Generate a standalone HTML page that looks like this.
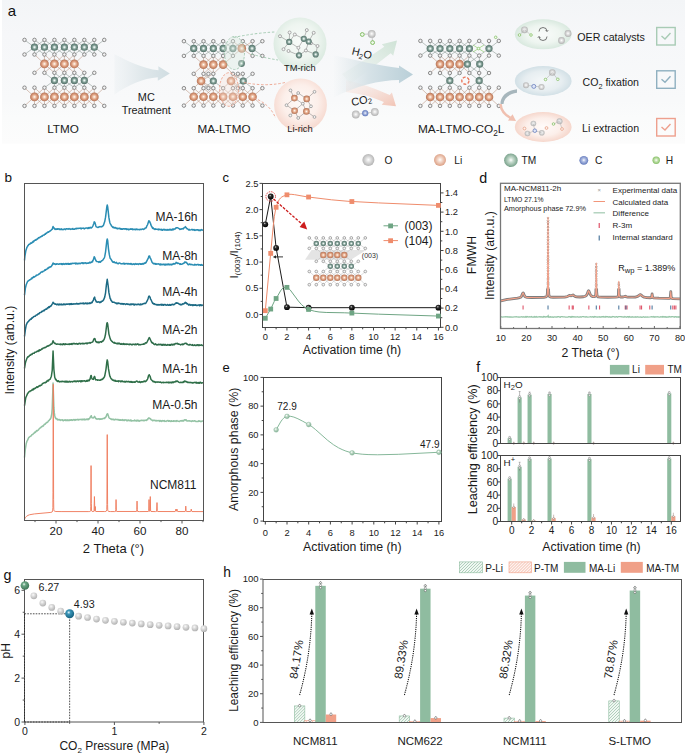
<!DOCTYPE html>
<html><head><meta charset="utf-8"><style>
html,body{margin:0;padding:0;background:#fff;}
body{width:685px;height:754px;overflow:hidden;}
svg{display:block;font-family:"Liberation Sans", sans-serif;}
</style></head><body>
<svg width="685" height="754" viewBox="0 0 685 754">
<defs><radialGradient id="gTM" cx="50%" cy="50%" r="55%"><stop offset="0" stop-color="#ffffff"/><stop offset="0.2" stop-color="#cfe0da"/><stop offset="0.5" stop-color="#7d9b92"/><stop offset="1" stop-color="#4d6a62"/></radialGradient>
<radialGradient id="gLi" cx="50%" cy="50%" r="55%"><stop offset="0" stop-color="#ffffff"/><stop offset="0.2" stop-color="#f6d6c0"/><stop offset="0.55" stop-color="#db9a7a"/><stop offset="1" stop-color="#aa6b4f"/></radialGradient>
<radialGradient id="gOb" cx="50%" cy="48%" r="55%"><stop offset="0" stop-color="#ffffff"/><stop offset="0.3" stop-color="#e6e6e6"/><stop offset="1" stop-color="#adadad"/></radialGradient>
<radialGradient id="gLiL" cx="50%" cy="48%" r="55%"><stop offset="0" stop-color="#ffffff"/><stop offset="0.3" stop-color="#f5ddd0"/><stop offset="1" stop-color="#d9997c"/></radialGradient>
<radialGradient id="gTML" cx="50%" cy="48%" r="55%"><stop offset="0" stop-color="#ffffff"/><stop offset="0.3" stop-color="#c8dccf"/><stop offset="1" stop-color="#6e9a82"/></radialGradient>
<radialGradient id="gCL" cx="50%" cy="48%" r="55%"><stop offset="0" stop-color="#ffffff"/><stop offset="0.3" stop-color="#b7c4e6"/><stop offset="1" stop-color="#5a72b8"/></radialGradient>
<radialGradient id="gHL" cx="50%" cy="48%" r="55%"><stop offset="0" stop-color="#ffffff"/><stop offset="0.3" stop-color="#cfe8bd"/><stop offset="1" stop-color="#7cba5a"/></radialGradient>
<radialGradient id="gGray" cx="40%" cy="35%" r="65%"><stop offset="0" stop-color="#fafafa"/><stop offset="0.35" stop-color="#dedede"/><stop offset="1" stop-color="#b2b2b2"/></radialGradient>
<radialGradient id="gBlue" cx="40%" cy="35%" r="65%"><stop offset="0" stop-color="#e8f6fb"/><stop offset="0.3" stop-color="#3a95b8"/><stop offset="1" stop-color="#15607e"/></radialGradient>
<radialGradient id="gGreenL" cx="40%" cy="35%" r="65%"><stop offset="0" stop-color="#ffffff"/><stop offset="0.35" stop-color="#c3dccb"/><stop offset="1" stop-color="#7fae90"/></radialGradient>
<radialGradient id="gGreen" cx="40%" cy="35%" r="65%"><stop offset="0" stop-color="#eef8f0"/><stop offset="0.3" stop-color="#6aa684"/><stop offset="1" stop-color="#3d7356"/></radialGradient>
<radialGradient id="gBlk" cx="40%" cy="35%" r="65%"><stop offset="0" stop-color="#d8d8d8"/><stop offset="0.3" stop-color="#303030"/><stop offset="1" stop-color="#000000"/></radialGradient>
<linearGradient id="bgA" x1="0" y1="0" x2="0" y2="1"><stop offset="0" stop-color="#f3f5f7"/><stop offset="0.24" stop-color="#f6f7f9"/><stop offset="0.7" stop-color="#f8f9fa"/><stop offset="0.82" stop-color="#fafbfb"/><stop offset="1" stop-color="#fcfcfc"/></linearGradient>
<linearGradient id="arrMC" x1="0" y1="0" x2="1" y2="0"><stop offset="0" stop-color="#e6ecef" stop-opacity="0.3"/><stop offset="0.5" stop-color="#e0e8eb"/><stop offset="1" stop-color="#d0dde2"/></linearGradient>
<radialGradient id="gTMc" cx="50%" cy="45%" r="55%"><stop offset="0" stop-color="#f8fbf9"/><stop offset="0.6" stop-color="#eef5f0"/><stop offset="1" stop-color="#d9e9df"/></radialGradient>
<radialGradient id="gLic" cx="50%" cy="45%" r="55%"><stop offset="0" stop-color="#fefaf8"/><stop offset="0.6" stop-color="#fcefea"/><stop offset="1" stop-color="#f6d8ce"/></radialGradient>
<linearGradient id="arrB" x1="0" y1="0" x2="1" y2="0"><stop offset="0" stop-color="#dbe5e9" stop-opacity="0"/><stop offset="0.45" stop-color="#d6e2e7"/><stop offset="1" stop-color="#b9cfd8"/></linearGradient>
<linearGradient id="arrG" x1="0" y1="1" x2="1" y2="0"><stop offset="0" stop-color="#e3ede7" stop-opacity="0.2"/><stop offset="1" stop-color="#cfe3d6"/></linearGradient>
<linearGradient id="arrR" x1="0" y1="0" x2="1" y2="1"><stop offset="0" stop-color="#f7e3dc" stop-opacity="0.2"/><stop offset="1" stop-color="#f2c4b5"/></linearGradient>
<radialGradient id="eG" cx="50%" cy="50%" r="50%"><stop offset="0" stop-color="#f9fbfa"/><stop offset="0.6" stop-color="#eef5f0"/><stop offset="1" stop-color="#d9e9df"/></radialGradient>
<radialGradient id="eB" cx="50%" cy="50%" r="50%"><stop offset="0" stop-color="#f5f8f9"/><stop offset="0.65" stop-color="#e7eef1"/><stop offset="1" stop-color="#d2e0e6"/></radialGradient>
<radialGradient id="eR" cx="50%" cy="50%" r="50%"><stop offset="0" stop-color="#fffbfa"/><stop offset="0.6" stop-color="#fcefea"/><stop offset="1" stop-color="#f6d7cc"/></radialGradient>
<clipPath id="dclip"><rect x="500" y="288.5" width="181" height="40"/></clipPath>
<pattern id="hatG" width="2.1" height="2.1" patternUnits="userSpaceOnUse" patternTransform="rotate(45)"><rect width="2.1" height="2.1" fill="#f2f8f4"/><line x1="0" y1="0" x2="0" y2="2.1" stroke="#86b698" stroke-width="0.9"/></pattern>
<pattern id="hatO" width="2.1" height="2.1" patternUnits="userSpaceOnUse" patternTransform="rotate(45)"><rect width="2.1" height="2.1" fill="#fdf3f0"/><line x1="0" y1="0" x2="0" y2="2.1" stroke="#f0a088" stroke-width="0.9"/></pattern></defs>
<rect x="2" y="0" width="683" height="143.7" fill="url(#bgA)" stroke="none" stroke-width="1"/>
<text x="7.8" y="15.6" font-size="15" text-anchor="start" fill="#111">a</text>
<line x1="24.5" y1="39.9" x2="34.47" y2="47.2" stroke="#8e9c97" stroke-width="0.6"/>
<line x1="34.47" y1="39.9" x2="34.47" y2="47.2" stroke="#8e9c97" stroke-width="0.6"/>
<line x1="34.47" y1="39.9" x2="44.44" y2="47.2" stroke="#8e9c97" stroke-width="0.6"/>
<line x1="44.44" y1="39.9" x2="34.47" y2="47.2" stroke="#8e9c97" stroke-width="0.6"/>
<line x1="44.44" y1="39.9" x2="44.44" y2="47.2" stroke="#8e9c97" stroke-width="0.6"/>
<line x1="44.44" y1="39.9" x2="54.41" y2="47.2" stroke="#8e9c97" stroke-width="0.6"/>
<line x1="54.41" y1="39.9" x2="44.44" y2="47.2" stroke="#8e9c97" stroke-width="0.6"/>
<line x1="54.41" y1="39.9" x2="54.41" y2="47.2" stroke="#8e9c97" stroke-width="0.6"/>
<line x1="54.41" y1="39.9" x2="64.38" y2="47.2" stroke="#8e9c97" stroke-width="0.6"/>
<line x1="64.38" y1="39.9" x2="54.41" y2="47.2" stroke="#8e9c97" stroke-width="0.6"/>
<line x1="64.38" y1="39.9" x2="64.38" y2="47.2" stroke="#8e9c97" stroke-width="0.6"/>
<line x1="64.38" y1="39.9" x2="74.35" y2="47.2" stroke="#8e9c97" stroke-width="0.6"/>
<line x1="74.35" y1="39.9" x2="64.38" y2="47.2" stroke="#8e9c97" stroke-width="0.6"/>
<line x1="74.35" y1="39.9" x2="74.35" y2="47.2" stroke="#8e9c97" stroke-width="0.6"/>
<line x1="74.35" y1="39.9" x2="84.32" y2="47.2" stroke="#8e9c97" stroke-width="0.6"/>
<line x1="84.32" y1="39.9" x2="74.35" y2="47.2" stroke="#8e9c97" stroke-width="0.6"/>
<line x1="84.32" y1="39.9" x2="84.32" y2="47.2" stroke="#8e9c97" stroke-width="0.6"/>
<line x1="84.32" y1="39.9" x2="94.29" y2="47.2" stroke="#8e9c97" stroke-width="0.6"/>
<line x1="94.29" y1="39.9" x2="84.32" y2="47.2" stroke="#8e9c97" stroke-width="0.6"/>
<line x1="94.29" y1="39.9" x2="94.29" y2="47.2" stroke="#8e9c97" stroke-width="0.6"/>
<line x1="104.26" y1="39.9" x2="94.29" y2="47.2" stroke="#8e9c97" stroke-width="0.6"/>
<line x1="34.47" y1="47.2" x2="24.5" y2="54.5" stroke="#8e9c97" stroke-width="0.6"/>
<line x1="34.47" y1="47.2" x2="34.47" y2="54.5" stroke="#8e9c97" stroke-width="0.6"/>
<line x1="34.47" y1="47.2" x2="44.44" y2="54.5" stroke="#8e9c97" stroke-width="0.6"/>
<line x1="44.44" y1="47.2" x2="34.47" y2="54.5" stroke="#8e9c97" stroke-width="0.6"/>
<line x1="44.44" y1="47.2" x2="44.44" y2="54.5" stroke="#8e9c97" stroke-width="0.6"/>
<line x1="44.44" y1="47.2" x2="54.41" y2="54.5" stroke="#8e9c97" stroke-width="0.6"/>
<line x1="54.41" y1="47.2" x2="44.44" y2="54.5" stroke="#8e9c97" stroke-width="0.6"/>
<line x1="54.41" y1="47.2" x2="54.41" y2="54.5" stroke="#8e9c97" stroke-width="0.6"/>
<line x1="54.41" y1="47.2" x2="64.38" y2="54.5" stroke="#8e9c97" stroke-width="0.6"/>
<line x1="64.38" y1="47.2" x2="54.41" y2="54.5" stroke="#8e9c97" stroke-width="0.6"/>
<line x1="64.38" y1="47.2" x2="64.38" y2="54.5" stroke="#8e9c97" stroke-width="0.6"/>
<line x1="64.38" y1="47.2" x2="74.35" y2="54.5" stroke="#8e9c97" stroke-width="0.6"/>
<line x1="74.35" y1="47.2" x2="64.38" y2="54.5" stroke="#8e9c97" stroke-width="0.6"/>
<line x1="74.35" y1="47.2" x2="74.35" y2="54.5" stroke="#8e9c97" stroke-width="0.6"/>
<line x1="74.35" y1="47.2" x2="84.32" y2="54.5" stroke="#8e9c97" stroke-width="0.6"/>
<line x1="84.32" y1="47.2" x2="74.35" y2="54.5" stroke="#8e9c97" stroke-width="0.6"/>
<line x1="84.32" y1="47.2" x2="84.32" y2="54.5" stroke="#8e9c97" stroke-width="0.6"/>
<line x1="84.32" y1="47.2" x2="94.29" y2="54.5" stroke="#8e9c97" stroke-width="0.6"/>
<line x1="94.29" y1="47.2" x2="84.32" y2="54.5" stroke="#8e9c97" stroke-width="0.6"/>
<line x1="94.29" y1="47.2" x2="94.29" y2="54.5" stroke="#8e9c97" stroke-width="0.6"/>
<line x1="94.29" y1="47.2" x2="104.26" y2="54.5" stroke="#8e9c97" stroke-width="0.6"/>
<line x1="34.47" y1="54.5" x2="44.44" y2="63.9" stroke="#bd9a88" stroke-width="0.6"/>
<line x1="44.44" y1="54.5" x2="44.44" y2="63.9" stroke="#bd9a88" stroke-width="0.6"/>
<line x1="44.44" y1="54.5" x2="54.41" y2="63.9" stroke="#bd9a88" stroke-width="0.6"/>
<line x1="54.41" y1="54.5" x2="44.44" y2="63.9" stroke="#bd9a88" stroke-width="0.6"/>
<line x1="54.41" y1="54.5" x2="54.41" y2="63.9" stroke="#bd9a88" stroke-width="0.6"/>
<line x1="54.41" y1="54.5" x2="64.38" y2="63.9" stroke="#bd9a88" stroke-width="0.6"/>
<line x1="64.38" y1="54.5" x2="54.41" y2="63.9" stroke="#bd9a88" stroke-width="0.6"/>
<line x1="64.38" y1="54.5" x2="64.38" y2="63.9" stroke="#bd9a88" stroke-width="0.6"/>
<line x1="64.38" y1="54.5" x2="74.35" y2="63.9" stroke="#bd9a88" stroke-width="0.6"/>
<line x1="74.35" y1="54.5" x2="64.38" y2="63.9" stroke="#bd9a88" stroke-width="0.6"/>
<line x1="74.35" y1="54.5" x2="74.35" y2="63.9" stroke="#bd9a88" stroke-width="0.6"/>
<line x1="84.32" y1="54.5" x2="74.35" y2="63.9" stroke="#bd9a88" stroke-width="0.6"/>
<line x1="44.44" y1="63.9" x2="34.47" y2="72.8" stroke="#bd9a88" stroke-width="0.6"/>
<line x1="44.44" y1="63.9" x2="44.44" y2="72.8" stroke="#bd9a88" stroke-width="0.6"/>
<line x1="44.44" y1="63.9" x2="54.41" y2="72.8" stroke="#bd9a88" stroke-width="0.6"/>
<line x1="54.41" y1="63.9" x2="44.44" y2="72.8" stroke="#bd9a88" stroke-width="0.6"/>
<line x1="54.41" y1="63.9" x2="54.41" y2="72.8" stroke="#bd9a88" stroke-width="0.6"/>
<line x1="54.41" y1="63.9" x2="64.38" y2="72.8" stroke="#bd9a88" stroke-width="0.6"/>
<line x1="64.38" y1="63.9" x2="54.41" y2="72.8" stroke="#bd9a88" stroke-width="0.6"/>
<line x1="64.38" y1="63.9" x2="64.38" y2="72.8" stroke="#bd9a88" stroke-width="0.6"/>
<line x1="64.38" y1="63.9" x2="74.35" y2="72.8" stroke="#bd9a88" stroke-width="0.6"/>
<line x1="74.35" y1="63.9" x2="64.38" y2="72.8" stroke="#bd9a88" stroke-width="0.6"/>
<line x1="74.35" y1="63.9" x2="74.35" y2="72.8" stroke="#bd9a88" stroke-width="0.6"/>
<line x1="74.35" y1="63.9" x2="84.32" y2="72.8" stroke="#bd9a88" stroke-width="0.6"/>
<line x1="44.44" y1="72.8" x2="54.41" y2="80.4" stroke="#8e9c97" stroke-width="0.6"/>
<line x1="54.41" y1="72.8" x2="54.41" y2="80.4" stroke="#8e9c97" stroke-width="0.6"/>
<line x1="54.41" y1="72.8" x2="64.38" y2="80.4" stroke="#8e9c97" stroke-width="0.6"/>
<line x1="64.38" y1="72.8" x2="54.41" y2="80.4" stroke="#8e9c97" stroke-width="0.6"/>
<line x1="64.38" y1="72.8" x2="64.38" y2="80.4" stroke="#8e9c97" stroke-width="0.6"/>
<line x1="64.38" y1="72.8" x2="74.35" y2="80.4" stroke="#8e9c97" stroke-width="0.6"/>
<line x1="74.35" y1="72.8" x2="64.38" y2="80.4" stroke="#8e9c97" stroke-width="0.6"/>
<line x1="74.35" y1="72.8" x2="74.35" y2="80.4" stroke="#8e9c97" stroke-width="0.6"/>
<line x1="74.35" y1="72.8" x2="84.32" y2="80.4" stroke="#8e9c97" stroke-width="0.6"/>
<line x1="84.32" y1="72.8" x2="74.35" y2="80.4" stroke="#8e9c97" stroke-width="0.6"/>
<line x1="84.32" y1="72.8" x2="84.32" y2="80.4" stroke="#8e9c97" stroke-width="0.6"/>
<line x1="94.29" y1="72.8" x2="84.32" y2="80.4" stroke="#8e9c97" stroke-width="0.6"/>
<line x1="54.41" y1="80.4" x2="44.44" y2="87.7" stroke="#8e9c97" stroke-width="0.6"/>
<line x1="54.41" y1="80.4" x2="54.41" y2="87.7" stroke="#8e9c97" stroke-width="0.6"/>
<line x1="54.41" y1="80.4" x2="64.38" y2="87.7" stroke="#8e9c97" stroke-width="0.6"/>
<line x1="64.38" y1="80.4" x2="54.41" y2="87.7" stroke="#8e9c97" stroke-width="0.6"/>
<line x1="64.38" y1="80.4" x2="64.38" y2="87.7" stroke="#8e9c97" stroke-width="0.6"/>
<line x1="64.38" y1="80.4" x2="74.35" y2="87.7" stroke="#8e9c97" stroke-width="0.6"/>
<line x1="74.35" y1="80.4" x2="64.38" y2="87.7" stroke="#8e9c97" stroke-width="0.6"/>
<line x1="74.35" y1="80.4" x2="74.35" y2="87.7" stroke="#8e9c97" stroke-width="0.6"/>
<line x1="74.35" y1="80.4" x2="84.32" y2="87.7" stroke="#8e9c97" stroke-width="0.6"/>
<line x1="84.32" y1="80.4" x2="74.35" y2="87.7" stroke="#8e9c97" stroke-width="0.6"/>
<line x1="84.32" y1="80.4" x2="84.32" y2="87.7" stroke="#8e9c97" stroke-width="0.6"/>
<line x1="84.32" y1="80.4" x2="94.29" y2="87.7" stroke="#8e9c97" stroke-width="0.6"/>
<line x1="24.5" y1="87.7" x2="34.47" y2="96.9" stroke="#bd9a88" stroke-width="0.6"/>
<line x1="34.47" y1="87.7" x2="34.47" y2="96.9" stroke="#bd9a88" stroke-width="0.6"/>
<line x1="34.47" y1="87.7" x2="44.44" y2="96.9" stroke="#bd9a88" stroke-width="0.6"/>
<line x1="44.44" y1="87.7" x2="34.47" y2="96.9" stroke="#bd9a88" stroke-width="0.6"/>
<line x1="44.44" y1="87.7" x2="44.44" y2="96.9" stroke="#bd9a88" stroke-width="0.6"/>
<line x1="44.44" y1="87.7" x2="54.41" y2="96.9" stroke="#bd9a88" stroke-width="0.6"/>
<line x1="54.41" y1="87.7" x2="44.44" y2="96.9" stroke="#bd9a88" stroke-width="0.6"/>
<line x1="54.41" y1="87.7" x2="54.41" y2="96.9" stroke="#bd9a88" stroke-width="0.6"/>
<line x1="54.41" y1="87.7" x2="64.38" y2="96.9" stroke="#bd9a88" stroke-width="0.6"/>
<line x1="64.38" y1="87.7" x2="54.41" y2="96.9" stroke="#bd9a88" stroke-width="0.6"/>
<line x1="64.38" y1="87.7" x2="64.38" y2="96.9" stroke="#bd9a88" stroke-width="0.6"/>
<line x1="64.38" y1="87.7" x2="74.35" y2="96.9" stroke="#bd9a88" stroke-width="0.6"/>
<line x1="74.35" y1="87.7" x2="64.38" y2="96.9" stroke="#bd9a88" stroke-width="0.6"/>
<line x1="74.35" y1="87.7" x2="74.35" y2="96.9" stroke="#bd9a88" stroke-width="0.6"/>
<line x1="74.35" y1="87.7" x2="84.32" y2="96.9" stroke="#bd9a88" stroke-width="0.6"/>
<line x1="84.32" y1="87.7" x2="74.35" y2="96.9" stroke="#bd9a88" stroke-width="0.6"/>
<line x1="84.32" y1="87.7" x2="84.32" y2="96.9" stroke="#bd9a88" stroke-width="0.6"/>
<line x1="84.32" y1="87.7" x2="94.29" y2="96.9" stroke="#bd9a88" stroke-width="0.6"/>
<line x1="94.29" y1="87.7" x2="84.32" y2="96.9" stroke="#bd9a88" stroke-width="0.6"/>
<line x1="94.29" y1="87.7" x2="94.29" y2="96.9" stroke="#bd9a88" stroke-width="0.6"/>
<line x1="104.26" y1="87.7" x2="94.29" y2="96.9" stroke="#bd9a88" stroke-width="0.6"/>
<line x1="34.47" y1="96.9" x2="24.5" y2="105.9" stroke="#bd9a88" stroke-width="0.6"/>
<line x1="34.47" y1="96.9" x2="34.47" y2="105.9" stroke="#bd9a88" stroke-width="0.6"/>
<line x1="34.47" y1="96.9" x2="44.44" y2="105.9" stroke="#bd9a88" stroke-width="0.6"/>
<line x1="44.44" y1="96.9" x2="34.47" y2="105.9" stroke="#bd9a88" stroke-width="0.6"/>
<line x1="44.44" y1="96.9" x2="44.44" y2="105.9" stroke="#bd9a88" stroke-width="0.6"/>
<line x1="44.44" y1="96.9" x2="54.41" y2="105.9" stroke="#bd9a88" stroke-width="0.6"/>
<line x1="54.41" y1="96.9" x2="44.44" y2="105.9" stroke="#bd9a88" stroke-width="0.6"/>
<line x1="54.41" y1="96.9" x2="54.41" y2="105.9" stroke="#bd9a88" stroke-width="0.6"/>
<line x1="54.41" y1="96.9" x2="64.38" y2="105.9" stroke="#bd9a88" stroke-width="0.6"/>
<line x1="64.38" y1="96.9" x2="54.41" y2="105.9" stroke="#bd9a88" stroke-width="0.6"/>
<line x1="64.38" y1="96.9" x2="64.38" y2="105.9" stroke="#bd9a88" stroke-width="0.6"/>
<line x1="64.38" y1="96.9" x2="74.35" y2="105.9" stroke="#bd9a88" stroke-width="0.6"/>
<line x1="74.35" y1="96.9" x2="64.38" y2="105.9" stroke="#bd9a88" stroke-width="0.6"/>
<line x1="74.35" y1="96.9" x2="74.35" y2="105.9" stroke="#bd9a88" stroke-width="0.6"/>
<line x1="74.35" y1="96.9" x2="84.32" y2="105.9" stroke="#bd9a88" stroke-width="0.6"/>
<line x1="84.32" y1="96.9" x2="74.35" y2="105.9" stroke="#bd9a88" stroke-width="0.6"/>
<line x1="84.32" y1="96.9" x2="84.32" y2="105.9" stroke="#bd9a88" stroke-width="0.6"/>
<line x1="84.32" y1="96.9" x2="94.29" y2="105.9" stroke="#bd9a88" stroke-width="0.6"/>
<line x1="94.29" y1="96.9" x2="84.32" y2="105.9" stroke="#bd9a88" stroke-width="0.6"/>
<line x1="94.29" y1="96.9" x2="94.29" y2="105.9" stroke="#bd9a88" stroke-width="0.6"/>
<line x1="94.29" y1="96.9" x2="104.26" y2="105.9" stroke="#bd9a88" stroke-width="0.6"/>
<circle cx="24.5" cy="39.9" r="1.75" fill="#f2f2f2" stroke="#7e7e7e" stroke-width="0.9"/>
<circle cx="34.47" cy="39.9" r="1.75" fill="#f2f2f2" stroke="#7e7e7e" stroke-width="0.9"/>
<circle cx="44.44" cy="39.9" r="1.75" fill="#f2f2f2" stroke="#7e7e7e" stroke-width="0.9"/>
<circle cx="54.41" cy="39.9" r="1.75" fill="#f2f2f2" stroke="#7e7e7e" stroke-width="0.9"/>
<circle cx="64.38" cy="39.9" r="1.75" fill="#f2f2f2" stroke="#7e7e7e" stroke-width="0.9"/>
<circle cx="74.35" cy="39.9" r="1.75" fill="#f2f2f2" stroke="#7e7e7e" stroke-width="0.9"/>
<circle cx="84.32" cy="39.9" r="1.75" fill="#f2f2f2" stroke="#7e7e7e" stroke-width="0.9"/>
<circle cx="94.29" cy="39.9" r="1.75" fill="#f2f2f2" stroke="#7e7e7e" stroke-width="0.9"/>
<circle cx="104.26" cy="39.9" r="1.75" fill="#f2f2f2" stroke="#7e7e7e" stroke-width="0.9"/>
<circle cx="34.47" cy="47.2" r="3.6" fill="url(#gTM)" stroke="none" stroke-width="1"/>
<circle cx="44.44" cy="47.2" r="3.6" fill="url(#gTM)" stroke="none" stroke-width="1"/>
<circle cx="54.41" cy="47.2" r="3.6" fill="url(#gTM)" stroke="none" stroke-width="1"/>
<circle cx="64.38" cy="47.2" r="3.6" fill="url(#gTM)" stroke="none" stroke-width="1"/>
<circle cx="74.35" cy="47.2" r="3.6" fill="url(#gTM)" stroke="none" stroke-width="1"/>
<circle cx="84.32" cy="47.2" r="3.6" fill="url(#gTM)" stroke="none" stroke-width="1"/>
<circle cx="94.29" cy="47.2" r="3.6" fill="url(#gTM)" stroke="none" stroke-width="1"/>
<circle cx="24.5" cy="54.5" r="1.75" fill="#f2f2f2" stroke="#7e7e7e" stroke-width="0.9"/>
<circle cx="34.47" cy="54.5" r="1.75" fill="#f2f2f2" stroke="#7e7e7e" stroke-width="0.9"/>
<circle cx="44.44" cy="54.5" r="1.75" fill="#f2f2f2" stroke="#7e7e7e" stroke-width="0.9"/>
<circle cx="54.41" cy="54.5" r="1.75" fill="#f2f2f2" stroke="#7e7e7e" stroke-width="0.9"/>
<circle cx="64.38" cy="54.5" r="1.75" fill="#f2f2f2" stroke="#7e7e7e" stroke-width="0.9"/>
<circle cx="74.35" cy="54.5" r="1.75" fill="#f2f2f2" stroke="#7e7e7e" stroke-width="0.9"/>
<circle cx="84.32" cy="54.5" r="1.75" fill="#f2f2f2" stroke="#7e7e7e" stroke-width="0.9"/>
<circle cx="94.29" cy="54.5" r="1.75" fill="#f2f2f2" stroke="#7e7e7e" stroke-width="0.9"/>
<circle cx="104.26" cy="54.5" r="1.75" fill="#f2f2f2" stroke="#7e7e7e" stroke-width="0.9"/>
<circle cx="44.44" cy="63.9" r="4.4" fill="url(#gLi)" stroke="none" stroke-width="1"/>
<circle cx="54.41" cy="63.9" r="4.4" fill="url(#gLi)" stroke="none" stroke-width="1"/>
<circle cx="64.38" cy="63.9" r="4.4" fill="url(#gLi)" stroke="none" stroke-width="1"/>
<circle cx="74.35" cy="63.9" r="4.4" fill="url(#gLi)" stroke="none" stroke-width="1"/>
<circle cx="34.47" cy="72.8" r="1.75" fill="#f2f2f2" stroke="#7e7e7e" stroke-width="0.9"/>
<circle cx="44.44" cy="72.8" r="1.75" fill="#f2f2f2" stroke="#7e7e7e" stroke-width="0.9"/>
<circle cx="54.41" cy="72.8" r="1.75" fill="#f2f2f2" stroke="#7e7e7e" stroke-width="0.9"/>
<circle cx="64.38" cy="72.8" r="1.75" fill="#f2f2f2" stroke="#7e7e7e" stroke-width="0.9"/>
<circle cx="74.35" cy="72.8" r="1.75" fill="#f2f2f2" stroke="#7e7e7e" stroke-width="0.9"/>
<circle cx="84.32" cy="72.8" r="1.75" fill="#f2f2f2" stroke="#7e7e7e" stroke-width="0.9"/>
<circle cx="94.29" cy="72.8" r="1.75" fill="#f2f2f2" stroke="#7e7e7e" stroke-width="0.9"/>
<circle cx="54.41" cy="80.4" r="3.6" fill="url(#gTM)" stroke="none" stroke-width="1"/>
<circle cx="64.38" cy="80.4" r="3.6" fill="url(#gTM)" stroke="none" stroke-width="1"/>
<circle cx="74.35" cy="80.4" r="3.6" fill="url(#gTM)" stroke="none" stroke-width="1"/>
<circle cx="84.32" cy="80.4" r="3.6" fill="url(#gTM)" stroke="none" stroke-width="1"/>
<circle cx="24.5" cy="87.7" r="1.75" fill="#f2f2f2" stroke="#7e7e7e" stroke-width="0.9"/>
<circle cx="34.47" cy="87.7" r="1.75" fill="#f2f2f2" stroke="#7e7e7e" stroke-width="0.9"/>
<circle cx="44.44" cy="87.7" r="1.75" fill="#f2f2f2" stroke="#7e7e7e" stroke-width="0.9"/>
<circle cx="54.41" cy="87.7" r="1.75" fill="#f2f2f2" stroke="#7e7e7e" stroke-width="0.9"/>
<circle cx="64.38" cy="87.7" r="1.75" fill="#f2f2f2" stroke="#7e7e7e" stroke-width="0.9"/>
<circle cx="74.35" cy="87.7" r="1.75" fill="#f2f2f2" stroke="#7e7e7e" stroke-width="0.9"/>
<circle cx="84.32" cy="87.7" r="1.75" fill="#f2f2f2" stroke="#7e7e7e" stroke-width="0.9"/>
<circle cx="94.29" cy="87.7" r="1.75" fill="#f2f2f2" stroke="#7e7e7e" stroke-width="0.9"/>
<circle cx="104.26" cy="87.7" r="1.75" fill="#f2f2f2" stroke="#7e7e7e" stroke-width="0.9"/>
<circle cx="34.47" cy="96.9" r="4.4" fill="url(#gLi)" stroke="none" stroke-width="1"/>
<circle cx="44.44" cy="96.9" r="4.4" fill="url(#gLi)" stroke="none" stroke-width="1"/>
<circle cx="54.41" cy="96.9" r="4.4" fill="url(#gLi)" stroke="none" stroke-width="1"/>
<circle cx="64.38" cy="96.9" r="4.4" fill="url(#gLi)" stroke="none" stroke-width="1"/>
<circle cx="74.35" cy="96.9" r="4.4" fill="url(#gLi)" stroke="none" stroke-width="1"/>
<circle cx="84.32" cy="96.9" r="4.4" fill="url(#gLi)" stroke="none" stroke-width="1"/>
<circle cx="94.29" cy="96.9" r="4.4" fill="url(#gLi)" stroke="none" stroke-width="1"/>
<circle cx="24.5" cy="105.9" r="1.75" fill="#f2f2f2" stroke="#7e7e7e" stroke-width="0.9"/>
<circle cx="34.47" cy="105.9" r="1.75" fill="#f2f2f2" stroke="#7e7e7e" stroke-width="0.9"/>
<circle cx="44.44" cy="105.9" r="1.75" fill="#f2f2f2" stroke="#7e7e7e" stroke-width="0.9"/>
<circle cx="54.41" cy="105.9" r="1.75" fill="#f2f2f2" stroke="#7e7e7e" stroke-width="0.9"/>
<circle cx="64.38" cy="105.9" r="1.75" fill="#f2f2f2" stroke="#7e7e7e" stroke-width="0.9"/>
<circle cx="74.35" cy="105.9" r="1.75" fill="#f2f2f2" stroke="#7e7e7e" stroke-width="0.9"/>
<circle cx="84.32" cy="105.9" r="1.75" fill="#f2f2f2" stroke="#7e7e7e" stroke-width="0.9"/>
<circle cx="94.29" cy="105.9" r="1.75" fill="#f2f2f2" stroke="#7e7e7e" stroke-width="0.9"/>
<circle cx="104.26" cy="105.9" r="1.75" fill="#f2f2f2" stroke="#7e7e7e" stroke-width="0.9"/>
<text x="63" y="132.5" font-size="11.7" text-anchor="middle" fill="#1a1a1a">LTMO</text>
<path d="M114.5 54.3 C128 61 143 69 158.5 70.2 L158.3 66.3 L169.8 73.4 L157.8 80.8 L157.8 77.3 C143 78.5 128 85 114.5 94.4 Z" stroke="none" stroke-width="1" fill="url(#arrMC)"/>
<text x="146.3" y="100.8" font-size="10.9" text-anchor="middle" fill="#1a1a1a">MC</text>
<text x="146.3" y="114" font-size="10.9" text-anchor="middle" fill="#1a1a1a">Treatment</text>
<line x1="183.9" y1="41.2" x2="193.71" y2="48.4" stroke="#8e9c97" stroke-width="0.6"/>
<line x1="193.71" y1="41.2" x2="193.71" y2="48.4" stroke="#8e9c97" stroke-width="0.6"/>
<line x1="193.71" y1="41.2" x2="203.52" y2="48.4" stroke="#8e9c97" stroke-width="0.6"/>
<line x1="203.52" y1="41.2" x2="193.71" y2="48.4" stroke="#8e9c97" stroke-width="0.6"/>
<line x1="203.52" y1="41.2" x2="203.52" y2="48.4" stroke="#8e9c97" stroke-width="0.6"/>
<line x1="203.52" y1="41.2" x2="213.33" y2="48.4" stroke="#8e9c97" stroke-width="0.6"/>
<line x1="213.33" y1="41.2" x2="203.52" y2="48.4" stroke="#8e9c97" stroke-width="0.6"/>
<line x1="213.33" y1="41.2" x2="213.33" y2="48.4" stroke="#8e9c97" stroke-width="0.6"/>
<line x1="213.33" y1="41.2" x2="223.14" y2="48.4" stroke="#8e9c97" stroke-width="0.6"/>
<line x1="223.14" y1="41.2" x2="213.33" y2="48.4" stroke="#8e9c97" stroke-width="0.6"/>
<line x1="223.14" y1="41.2" x2="223.14" y2="48.4" stroke="#8e9c97" stroke-width="0.6"/>
<line x1="223.14" y1="41.2" x2="232.95" y2="48.4" stroke="#8e9c97" stroke-width="0.6"/>
<line x1="232.95" y1="41.2" x2="223.14" y2="48.4" stroke="#8e9c97" stroke-width="0.6"/>
<line x1="232.95" y1="41.2" x2="232.95" y2="48.4" stroke="#8e9c97" stroke-width="0.6"/>
<line x1="232.95" y1="41.2" x2="241.78" y2="48.4" stroke="#bd9a88" stroke-width="0.6"/>
<line x1="242.76" y1="41.2" x2="232.95" y2="48.4" stroke="#8e9c97" stroke-width="0.6"/>
<line x1="242.76" y1="41.2" x2="241.78" y2="48.4" stroke="#bd9a88" stroke-width="0.6"/>
<line x1="242.76" y1="41.2" x2="252.08" y2="48.4" stroke="#8e9c97" stroke-width="0.6"/>
<line x1="252.57" y1="41.2" x2="241.78" y2="48.4" stroke="#bd9a88" stroke-width="0.6"/>
<line x1="252.57" y1="41.2" x2="252.08" y2="48.4" stroke="#8e9c97" stroke-width="0.6"/>
<line x1="262.38" y1="41.2" x2="252.08" y2="48.4" stroke="#8e9c97" stroke-width="0.6"/>
<line x1="193.71" y1="48.4" x2="183.9" y2="55.9" stroke="#8e9c97" stroke-width="0.6"/>
<line x1="193.71" y1="48.4" x2="193.71" y2="55.9" stroke="#8e9c97" stroke-width="0.6"/>
<line x1="193.71" y1="48.4" x2="203.52" y2="55.9" stroke="#8e9c97" stroke-width="0.6"/>
<line x1="203.52" y1="48.4" x2="193.71" y2="55.9" stroke="#8e9c97" stroke-width="0.6"/>
<line x1="203.52" y1="48.4" x2="203.52" y2="55.9" stroke="#8e9c97" stroke-width="0.6"/>
<line x1="203.52" y1="48.4" x2="213.33" y2="55.9" stroke="#8e9c97" stroke-width="0.6"/>
<line x1="213.33" y1="48.4" x2="203.52" y2="55.9" stroke="#8e9c97" stroke-width="0.6"/>
<line x1="213.33" y1="48.4" x2="213.33" y2="55.9" stroke="#8e9c97" stroke-width="0.6"/>
<line x1="213.33" y1="48.4" x2="223.14" y2="55.9" stroke="#8e9c97" stroke-width="0.6"/>
<line x1="223.14" y1="48.4" x2="213.33" y2="55.9" stroke="#8e9c97" stroke-width="0.6"/>
<line x1="223.14" y1="48.4" x2="223.14" y2="55.9" stroke="#8e9c97" stroke-width="0.6"/>
<line x1="223.14" y1="48.4" x2="232.95" y2="55.9" stroke="#8e9c97" stroke-width="0.6"/>
<line x1="232.95" y1="48.4" x2="223.14" y2="55.9" stroke="#8e9c97" stroke-width="0.6"/>
<line x1="232.95" y1="48.4" x2="232.95" y2="55.9" stroke="#8e9c97" stroke-width="0.6"/>
<line x1="241.78" y1="48.4" x2="232.95" y2="55.9" stroke="#bd9a88" stroke-width="0.6"/>
<line x1="241.78" y1="48.4" x2="252.57" y2="55.9" stroke="#bd9a88" stroke-width="0.6"/>
<line x1="252.08" y1="48.4" x2="252.57" y2="55.9" stroke="#8e9c97" stroke-width="0.6"/>
<line x1="252.08" y1="48.4" x2="262.38" y2="55.9" stroke="#8e9c97" stroke-width="0.6"/>
<line x1="193.71" y1="55.9" x2="203.52" y2="64.6" stroke="#bd9a88" stroke-width="0.6"/>
<line x1="203.52" y1="55.9" x2="203.52" y2="64.6" stroke="#bd9a88" stroke-width="0.6"/>
<line x1="203.52" y1="55.9" x2="213.33" y2="64.6" stroke="#bd9a88" stroke-width="0.6"/>
<line x1="213.33" y1="55.9" x2="203.52" y2="64.6" stroke="#bd9a88" stroke-width="0.6"/>
<line x1="213.33" y1="55.9" x2="213.33" y2="64.6" stroke="#bd9a88" stroke-width="0.6"/>
<line x1="213.33" y1="55.9" x2="223.14" y2="64.6" stroke="#bd9a88" stroke-width="0.6"/>
<line x1="223.14" y1="55.9" x2="213.33" y2="64.6" stroke="#bd9a88" stroke-width="0.6"/>
<line x1="223.14" y1="55.9" x2="223.14" y2="64.6" stroke="#bd9a88" stroke-width="0.6"/>
<line x1="232.95" y1="55.9" x2="223.14" y2="64.6" stroke="#bd9a88" stroke-width="0.6"/>
<line x1="203.52" y1="64.6" x2="193.71" y2="73.8" stroke="#bd9a88" stroke-width="0.6"/>
<line x1="203.52" y1="64.6" x2="203.52" y2="73.8" stroke="#bd9a88" stroke-width="0.6"/>
<line x1="203.52" y1="64.6" x2="213.33" y2="73.8" stroke="#bd9a88" stroke-width="0.6"/>
<line x1="213.33" y1="64.6" x2="203.52" y2="73.8" stroke="#bd9a88" stroke-width="0.6"/>
<line x1="213.33" y1="64.6" x2="213.33" y2="73.8" stroke="#bd9a88" stroke-width="0.6"/>
<line x1="223.14" y1="64.6" x2="213.33" y2="73.8" stroke="#bd9a88" stroke-width="0.6"/>
<line x1="223.14" y1="64.6" x2="232.95" y2="73.8" stroke="#bd9a88" stroke-width="0.6"/>
<line x1="193.71" y1="73.8" x2="201.07" y2="81" stroke="#bd9a88" stroke-width="0.6"/>
<line x1="203.52" y1="73.8" x2="201.07" y2="81" stroke="#bd9a88" stroke-width="0.6"/>
<line x1="203.52" y1="73.8" x2="213.33" y2="81" stroke="#8e9c97" stroke-width="0.6"/>
<line x1="208.43" y1="73.8" x2="201.07" y2="81" stroke="#bd9a88" stroke-width="0.6"/>
<line x1="213.33" y1="73.8" x2="201.07" y2="81" stroke="#bd9a88" stroke-width="0.6"/>
<line x1="213.33" y1="73.8" x2="213.33" y2="81" stroke="#8e9c97" stroke-width="0.6"/>
<line x1="232.95" y1="73.8" x2="230.99" y2="81" stroke="#bd9a88" stroke-width="0.6"/>
<line x1="232.95" y1="73.8" x2="243.25" y2="81" stroke="#8e9c97" stroke-width="0.6"/>
<line x1="237.86" y1="73.8" x2="230.99" y2="81" stroke="#bd9a88" stroke-width="0.6"/>
<line x1="242.76" y1="73.8" x2="230.99" y2="81" stroke="#bd9a88" stroke-width="0.6"/>
<line x1="242.76" y1="73.8" x2="243.25" y2="81" stroke="#8e9c97" stroke-width="0.6"/>
<line x1="252.57" y1="73.8" x2="243.25" y2="81" stroke="#8e9c97" stroke-width="0.6"/>
<line x1="201.07" y1="81" x2="193.71" y2="88.2" stroke="#bd9a88" stroke-width="0.6"/>
<line x1="201.07" y1="81" x2="203.52" y2="88.2" stroke="#bd9a88" stroke-width="0.6"/>
<line x1="201.07" y1="81" x2="208.43" y2="88.2" stroke="#bd9a88" stroke-width="0.6"/>
<line x1="201.07" y1="81" x2="213.33" y2="88.2" stroke="#bd9a88" stroke-width="0.6"/>
<line x1="213.33" y1="81" x2="203.52" y2="88.2" stroke="#8e9c97" stroke-width="0.6"/>
<line x1="213.33" y1="81" x2="213.33" y2="88.2" stroke="#8e9c97" stroke-width="0.6"/>
<line x1="213.33" y1="81" x2="223.14" y2="88.2" stroke="#8e9c97" stroke-width="0.6"/>
<line x1="230.99" y1="81" x2="223.14" y2="88.2" stroke="#bd9a88" stroke-width="0.6"/>
<line x1="230.99" y1="81" x2="232.95" y2="88.2" stroke="#bd9a88" stroke-width="0.6"/>
<line x1="230.99" y1="81" x2="237.86" y2="88.2" stroke="#bd9a88" stroke-width="0.6"/>
<line x1="230.99" y1="81" x2="242.76" y2="88.2" stroke="#bd9a88" stroke-width="0.6"/>
<line x1="243.25" y1="81" x2="232.95" y2="88.2" stroke="#8e9c97" stroke-width="0.6"/>
<line x1="243.25" y1="81" x2="242.76" y2="88.2" stroke="#8e9c97" stroke-width="0.6"/>
<line x1="243.25" y1="81" x2="252.57" y2="88.2" stroke="#8e9c97" stroke-width="0.6"/>
<line x1="183.9" y1="88.2" x2="193.71" y2="96.7" stroke="#bd9a88" stroke-width="0.6"/>
<line x1="193.71" y1="88.2" x2="193.71" y2="96.7" stroke="#bd9a88" stroke-width="0.6"/>
<line x1="193.71" y1="88.2" x2="203.52" y2="96.7" stroke="#bd9a88" stroke-width="0.6"/>
<line x1="203.52" y1="88.2" x2="193.71" y2="96.7" stroke="#bd9a88" stroke-width="0.6"/>
<line x1="203.52" y1="88.2" x2="203.52" y2="96.7" stroke="#bd9a88" stroke-width="0.6"/>
<line x1="203.52" y1="88.2" x2="213.33" y2="96.7" stroke="#bd9a88" stroke-width="0.6"/>
<line x1="213.33" y1="88.2" x2="203.52" y2="96.7" stroke="#bd9a88" stroke-width="0.6"/>
<line x1="213.33" y1="88.2" x2="213.33" y2="96.7" stroke="#bd9a88" stroke-width="0.6"/>
<line x1="213.33" y1="88.2" x2="223.14" y2="96.7" stroke="#bd9a88" stroke-width="0.6"/>
<line x1="223.14" y1="88.2" x2="213.33" y2="96.7" stroke="#bd9a88" stroke-width="0.6"/>
<line x1="223.14" y1="88.2" x2="223.14" y2="96.7" stroke="#bd9a88" stroke-width="0.6"/>
<line x1="223.14" y1="88.2" x2="232.95" y2="96.7" stroke="#bd9a88" stroke-width="0.6"/>
<line x1="232.95" y1="88.2" x2="223.14" y2="96.7" stroke="#bd9a88" stroke-width="0.6"/>
<line x1="232.95" y1="88.2" x2="232.95" y2="96.7" stroke="#bd9a88" stroke-width="0.6"/>
<line x1="232.95" y1="88.2" x2="242.76" y2="96.7" stroke="#bd9a88" stroke-width="0.6"/>
<line x1="242.76" y1="88.2" x2="232.95" y2="96.7" stroke="#bd9a88" stroke-width="0.6"/>
<line x1="242.76" y1="88.2" x2="242.76" y2="96.7" stroke="#bd9a88" stroke-width="0.6"/>
<line x1="242.76" y1="88.2" x2="252.57" y2="96.7" stroke="#bd9a88" stroke-width="0.6"/>
<line x1="252.57" y1="88.2" x2="242.76" y2="96.7" stroke="#bd9a88" stroke-width="0.6"/>
<line x1="252.57" y1="88.2" x2="252.57" y2="96.7" stroke="#bd9a88" stroke-width="0.6"/>
<line x1="262.38" y1="88.2" x2="252.57" y2="96.7" stroke="#bd9a88" stroke-width="0.6"/>
<line x1="193.71" y1="96.7" x2="183.9" y2="105.6" stroke="#bd9a88" stroke-width="0.6"/>
<line x1="193.71" y1="96.7" x2="193.71" y2="105.6" stroke="#bd9a88" stroke-width="0.6"/>
<line x1="193.71" y1="96.7" x2="203.52" y2="105.6" stroke="#bd9a88" stroke-width="0.6"/>
<line x1="203.52" y1="96.7" x2="193.71" y2="105.6" stroke="#bd9a88" stroke-width="0.6"/>
<line x1="203.52" y1="96.7" x2="203.52" y2="105.6" stroke="#bd9a88" stroke-width="0.6"/>
<line x1="203.52" y1="96.7" x2="213.33" y2="105.6" stroke="#bd9a88" stroke-width="0.6"/>
<line x1="213.33" y1="96.7" x2="203.52" y2="105.6" stroke="#bd9a88" stroke-width="0.6"/>
<line x1="213.33" y1="96.7" x2="213.33" y2="105.6" stroke="#bd9a88" stroke-width="0.6"/>
<line x1="213.33" y1="96.7" x2="223.14" y2="105.6" stroke="#bd9a88" stroke-width="0.6"/>
<line x1="223.14" y1="96.7" x2="213.33" y2="105.6" stroke="#bd9a88" stroke-width="0.6"/>
<line x1="223.14" y1="96.7" x2="223.14" y2="105.6" stroke="#bd9a88" stroke-width="0.6"/>
<line x1="223.14" y1="96.7" x2="232.95" y2="105.6" stroke="#bd9a88" stroke-width="0.6"/>
<line x1="232.95" y1="96.7" x2="223.14" y2="105.6" stroke="#bd9a88" stroke-width="0.6"/>
<line x1="232.95" y1="96.7" x2="232.95" y2="105.6" stroke="#bd9a88" stroke-width="0.6"/>
<line x1="232.95" y1="96.7" x2="242.76" y2="105.6" stroke="#bd9a88" stroke-width="0.6"/>
<line x1="242.76" y1="96.7" x2="232.95" y2="105.6" stroke="#bd9a88" stroke-width="0.6"/>
<line x1="242.76" y1="96.7" x2="242.76" y2="105.6" stroke="#bd9a88" stroke-width="0.6"/>
<line x1="242.76" y1="96.7" x2="252.57" y2="105.6" stroke="#bd9a88" stroke-width="0.6"/>
<line x1="252.57" y1="96.7" x2="242.76" y2="105.6" stroke="#bd9a88" stroke-width="0.6"/>
<line x1="252.57" y1="96.7" x2="252.57" y2="105.6" stroke="#bd9a88" stroke-width="0.6"/>
<line x1="252.57" y1="96.7" x2="262.38" y2="105.6" stroke="#bd9a88" stroke-width="0.6"/>
<circle cx="183.9" cy="41.2" r="1.75" fill="#f2f2f2" stroke="#7e7e7e" stroke-width="0.9"/>
<circle cx="193.71" cy="41.2" r="1.75" fill="#f2f2f2" stroke="#7e7e7e" stroke-width="0.9"/>
<circle cx="203.52" cy="41.2" r="1.75" fill="#f2f2f2" stroke="#7e7e7e" stroke-width="0.9"/>
<circle cx="213.33" cy="41.2" r="1.75" fill="#f2f2f2" stroke="#7e7e7e" stroke-width="0.9"/>
<circle cx="223.14" cy="41.2" r="1.75" fill="#f2f2f2" stroke="#7e7e7e" stroke-width="0.9"/>
<circle cx="232.95" cy="41.2" r="1.75" fill="#f2f2f2" stroke="#7e7e7e" stroke-width="0.9"/>
<circle cx="242.76" cy="41.2" r="1.75" fill="#f2f2f2" stroke="#7e7e7e" stroke-width="0.9"/>
<circle cx="252.57" cy="41.2" r="1.75" fill="#f2f2f2" stroke="#7e7e7e" stroke-width="0.9"/>
<circle cx="262.38" cy="41.2" r="1.75" fill="#f2f2f2" stroke="#7e7e7e" stroke-width="0.9"/>
<circle cx="193.71" cy="48.4" r="3.6" fill="url(#gTM)" stroke="none" stroke-width="1"/>
<circle cx="203.52" cy="48.4" r="3.6" fill="url(#gTM)" stroke="none" stroke-width="1"/>
<circle cx="213.33" cy="48.4" r="3.6" fill="url(#gTM)" stroke="none" stroke-width="1"/>
<circle cx="223.14" cy="48.4" r="3.6" fill="url(#gTM)" stroke="none" stroke-width="1"/>
<circle cx="232.95" cy="48.4" r="3.6" fill="url(#gTM)" stroke="none" stroke-width="1"/>
<circle cx="241.78" cy="48.4" r="4.3" fill="url(#gLi)" stroke="none" stroke-width="1"/>
<circle cx="252.08" cy="48.4" r="3.6" fill="url(#gTM)" stroke="none" stroke-width="1"/>
<circle cx="183.9" cy="55.9" r="1.75" fill="#f2f2f2" stroke="#7e7e7e" stroke-width="0.9"/>
<circle cx="193.71" cy="55.9" r="1.75" fill="#f2f2f2" stroke="#7e7e7e" stroke-width="0.9"/>
<circle cx="203.52" cy="55.9" r="1.75" fill="#f2f2f2" stroke="#7e7e7e" stroke-width="0.9"/>
<circle cx="213.33" cy="55.9" r="1.75" fill="#f2f2f2" stroke="#7e7e7e" stroke-width="0.9"/>
<circle cx="223.14" cy="55.9" r="1.75" fill="#f2f2f2" stroke="#7e7e7e" stroke-width="0.9"/>
<circle cx="232.95" cy="55.9" r="1.75" fill="#f2f2f2" stroke="#7e7e7e" stroke-width="0.9"/>
<circle cx="252.57" cy="55.9" r="1.75" fill="#f2f2f2" stroke="#7e7e7e" stroke-width="0.9"/>
<circle cx="262.38" cy="55.9" r="1.75" fill="#f2f2f2" stroke="#7e7e7e" stroke-width="0.9"/>
<circle cx="203.52" cy="64.6" r="4.3" fill="url(#gLi)" stroke="none" stroke-width="1"/>
<circle cx="213.33" cy="64.6" r="4.3" fill="url(#gLi)" stroke="none" stroke-width="1"/>
<circle cx="223.14" cy="64.6" r="4.3" fill="url(#gLi)" stroke="none" stroke-width="1"/>
<circle cx="193.71" cy="73.8" r="1.75" fill="#f2f2f2" stroke="#7e7e7e" stroke-width="0.9"/>
<circle cx="203.52" cy="73.8" r="1.75" fill="#f2f2f2" stroke="#7e7e7e" stroke-width="0.9"/>
<circle cx="208.43" cy="73.8" r="1.75" fill="#f2f2f2" stroke="#7e7e7e" stroke-width="0.9"/>
<circle cx="213.33" cy="73.8" r="1.75" fill="#f2f2f2" stroke="#7e7e7e" stroke-width="0.9"/>
<circle cx="232.95" cy="73.8" r="1.75" fill="#f2f2f2" stroke="#7e7e7e" stroke-width="0.9"/>
<circle cx="237.86" cy="73.8" r="1.75" fill="#f2f2f2" stroke="#7e7e7e" stroke-width="0.9"/>
<circle cx="242.76" cy="73.8" r="1.75" fill="#f2f2f2" stroke="#7e7e7e" stroke-width="0.9"/>
<circle cx="252.57" cy="73.8" r="1.75" fill="#f2f2f2" stroke="#7e7e7e" stroke-width="0.9"/>
<circle cx="201.07" cy="81" r="4.3" fill="url(#gLi)" stroke="none" stroke-width="1"/>
<circle cx="213.33" cy="81" r="3.6" fill="url(#gTM)" stroke="none" stroke-width="1"/>
<circle cx="230.99" cy="81" r="4.3" fill="url(#gLi)" stroke="none" stroke-width="1"/>
<circle cx="243.25" cy="81" r="3.6" fill="url(#gTM)" stroke="none" stroke-width="1"/>
<circle cx="183.9" cy="88.2" r="1.75" fill="#f2f2f2" stroke="#7e7e7e" stroke-width="0.9"/>
<circle cx="193.71" cy="88.2" r="1.75" fill="#f2f2f2" stroke="#7e7e7e" stroke-width="0.9"/>
<circle cx="203.52" cy="88.2" r="1.75" fill="#f2f2f2" stroke="#7e7e7e" stroke-width="0.9"/>
<circle cx="208.43" cy="88.2" r="1.75" fill="#f2f2f2" stroke="#7e7e7e" stroke-width="0.9"/>
<circle cx="213.33" cy="88.2" r="1.75" fill="#f2f2f2" stroke="#7e7e7e" stroke-width="0.9"/>
<circle cx="223.14" cy="88.2" r="1.75" fill="#f2f2f2" stroke="#7e7e7e" stroke-width="0.9"/>
<circle cx="232.95" cy="88.2" r="1.75" fill="#f2f2f2" stroke="#7e7e7e" stroke-width="0.9"/>
<circle cx="237.86" cy="88.2" r="1.75" fill="#f2f2f2" stroke="#7e7e7e" stroke-width="0.9"/>
<circle cx="242.76" cy="88.2" r="1.75" fill="#f2f2f2" stroke="#7e7e7e" stroke-width="0.9"/>
<circle cx="252.57" cy="88.2" r="1.75" fill="#f2f2f2" stroke="#7e7e7e" stroke-width="0.9"/>
<circle cx="262.38" cy="88.2" r="1.75" fill="#f2f2f2" stroke="#7e7e7e" stroke-width="0.9"/>
<circle cx="193.71" cy="96.7" r="4.3" fill="url(#gLi)" stroke="none" stroke-width="1"/>
<circle cx="203.52" cy="96.7" r="4.3" fill="url(#gLi)" stroke="none" stroke-width="1"/>
<circle cx="213.33" cy="96.7" r="4.3" fill="url(#gLi)" stroke="none" stroke-width="1"/>
<circle cx="223.14" cy="96.7" r="4.3" fill="url(#gLi)" stroke="none" stroke-width="1"/>
<circle cx="232.95" cy="96.7" r="4.3" fill="url(#gLi)" stroke="none" stroke-width="1"/>
<circle cx="242.76" cy="96.7" r="4.3" fill="url(#gLi)" stroke="none" stroke-width="1"/>
<circle cx="252.57" cy="96.7" r="4.3" fill="url(#gLi)" stroke="none" stroke-width="1"/>
<circle cx="183.9" cy="105.6" r="1.75" fill="#f2f2f2" stroke="#7e7e7e" stroke-width="0.9"/>
<circle cx="193.71" cy="105.6" r="1.75" fill="#f2f2f2" stroke="#7e7e7e" stroke-width="0.9"/>
<circle cx="203.52" cy="105.6" r="1.75" fill="#f2f2f2" stroke="#7e7e7e" stroke-width="0.9"/>
<circle cx="213.33" cy="105.6" r="1.75" fill="#f2f2f2" stroke="#7e7e7e" stroke-width="0.9"/>
<circle cx="223.14" cy="105.6" r="1.75" fill="#f2f2f2" stroke="#7e7e7e" stroke-width="0.9"/>
<circle cx="232.95" cy="105.6" r="1.75" fill="#f2f2f2" stroke="#7e7e7e" stroke-width="0.9"/>
<circle cx="242.76" cy="105.6" r="1.75" fill="#f2f2f2" stroke="#7e7e7e" stroke-width="0.9"/>
<circle cx="252.57" cy="105.6" r="1.75" fill="#f2f2f2" stroke="#7e7e7e" stroke-width="0.9"/>
<circle cx="262.38" cy="105.6" r="1.75" fill="#f2f2f2" stroke="#7e7e7e" stroke-width="0.9"/>
<circle cx="241.5" cy="63.5" r="3.4" fill="url(#gTM)" stroke="none" stroke-width="1"/>
<ellipse cx="234.5" cy="53" rx="10" ry="16.5" fill="#dcebe2" fill-opacity="0.4" stroke="#a6cbb3" stroke-width="0.9" stroke-dasharray="2.5 1.5"/>
<ellipse cx="229" cy="89.5" rx="9.5" ry="16.8" fill="#f7e2da" fill-opacity="0.35" stroke="#eda08a" stroke-width="0.9" stroke-dasharray="2.5 1.5"/>
<path d="M233.5 37.5 Q255 33 274.5 32" stroke="#9cc6ab" stroke-width="0.9" fill="none" stroke-dasharray="2.5 1.8"/>
<path d="M251 54 Q265 58 278 60" stroke="#9cc6ab" stroke-width="0.9" fill="none" stroke-dasharray="2.5 1.8"/>
<path d="M244 82.5 Q266 87 286 82.3" stroke="#eda08a" stroke-width="0.9" fill="none" stroke-dasharray="2.5 1.8"/>
<path d="M254 98 Q270 104 275.5 118" stroke="#eda08a" stroke-width="0.9" fill="none" stroke-dasharray="2.5 1.8"/>
<circle cx="300" cy="44" r="26.5" fill="url(#gTMc)" stroke="none" stroke-width="1"/>
<circle cx="300.5" cy="105" r="26.4" fill="url(#gLic)" stroke="none" stroke-width="1"/>
<line x1="289.2" y1="41.9" x2="280" y2="36.2" stroke="#7a7a7a" stroke-width="0.5"/>
<line x1="289.2" y1="41.9" x2="289.6" y2="32.5" stroke="#7a7a7a" stroke-width="0.5"/>
<line x1="289.2" y1="41.9" x2="294.8" y2="34.5" stroke="#7a7a7a" stroke-width="0.5"/>
<line x1="289.2" y1="41.9" x2="298.4" y2="47.8" stroke="#7a7a7a" stroke-width="0.5"/>
<line x1="289.2" y1="41.9" x2="283.5" y2="49.2" stroke="#7a7a7a" stroke-width="0.5"/>
<line x1="303.8" y1="38.8" x2="294.8" y2="34.5" stroke="#7a7a7a" stroke-width="0.5"/>
<line x1="303.8" y1="38.8" x2="306.8" y2="30.1" stroke="#7a7a7a" stroke-width="0.5"/>
<line x1="303.8" y1="38.8" x2="298.4" y2="47.8" stroke="#7a7a7a" stroke-width="0.5"/>
<line x1="308.7" y1="41.5" x2="313.7" y2="32.8" stroke="#7a7a7a" stroke-width="0.5"/>
<line x1="308.7" y1="41.5" x2="317.5" y2="46" stroke="#7a7a7a" stroke-width="0.5"/>
<line x1="308.7" y1="41.5" x2="305.9" y2="50.5" stroke="#7a7a7a" stroke-width="0.5"/>
<line x1="299" y1="55.3" x2="298.4" y2="47.8" stroke="#7a7a7a" stroke-width="0.5"/>
<line x1="299" y1="55.3" x2="305.9" y2="50.5" stroke="#7a7a7a" stroke-width="0.5"/>
<line x1="299" y1="55.3" x2="288.5" y2="51" stroke="#7a7a7a" stroke-width="0.5"/>
<line x1="315.7" y1="54.4" x2="317.5" y2="46" stroke="#7a7a7a" stroke-width="0.5"/>
<line x1="315.7" y1="54.4" x2="305.9" y2="50.5" stroke="#7a7a7a" stroke-width="0.5"/>
<circle cx="280" cy="36.2" r="1.5" fill="#f6f6f6" stroke="#8c8c8c" stroke-width="0.7"/>
<circle cx="289.6" cy="32.5" r="1.5" fill="#f6f6f6" stroke="#8c8c8c" stroke-width="0.7"/>
<circle cx="294.8" cy="34.5" r="1.5" fill="#f6f6f6" stroke="#8c8c8c" stroke-width="0.7"/>
<circle cx="306.8" cy="30.1" r="1.5" fill="#f6f6f6" stroke="#8c8c8c" stroke-width="0.7"/>
<circle cx="313.7" cy="32.8" r="1.5" fill="#f6f6f6" stroke="#8c8c8c" stroke-width="0.7"/>
<circle cx="311" cy="43.2" r="1.5" fill="#f6f6f6" stroke="#8c8c8c" stroke-width="0.7"/>
<circle cx="317.5" cy="46" r="1.5" fill="#f6f6f6" stroke="#8c8c8c" stroke-width="0.7"/>
<circle cx="298.4" cy="47.8" r="1.5" fill="#f6f6f6" stroke="#8c8c8c" stroke-width="0.7"/>
<circle cx="305.9" cy="50.5" r="1.5" fill="#f6f6f6" stroke="#8c8c8c" stroke-width="0.7"/>
<circle cx="288.5" cy="51" r="1.5" fill="#f6f6f6" stroke="#8c8c8c" stroke-width="0.7"/>
<circle cx="283.5" cy="49.2" r="1.5" fill="#f6f6f6" stroke="#8c8c8c" stroke-width="0.7"/>
<circle cx="289.2" cy="41.9" r="3.1" fill="url(#gTM)" stroke="none" stroke-width="1"/>
<circle cx="303.8" cy="38.8" r="3.1" fill="url(#gTM)" stroke="none" stroke-width="1"/>
<circle cx="308.7" cy="41.5" r="3.1" fill="url(#gTM)" stroke="none" stroke-width="1"/>
<circle cx="299" cy="55.3" r="3.1" fill="url(#gTM)" stroke="none" stroke-width="1"/>
<circle cx="315.7" cy="54.4" r="3.1" fill="url(#gTM)" stroke="none" stroke-width="1"/>
<text x="299.8" y="71.3" font-size="9.3" text-anchor="middle" fill="#1a1a1a">TM-rich</text>
<line x1="294.4" y1="98.1" x2="290.5" y2="90.4" stroke="#7a7a7a" stroke-width="0.5"/>
<line x1="294.4" y1="98.1" x2="298.2" y2="93" stroke="#7a7a7a" stroke-width="0.5"/>
<line x1="294.4" y1="98.1" x2="286.5" y2="105.2" stroke="#7a7a7a" stroke-width="0.5"/>
<line x1="294.4" y1="98.1" x2="302.8" y2="103.7" stroke="#7a7a7a" stroke-width="0.5"/>
<line x1="306.7" y1="98.9" x2="298.2" y2="93" stroke="#7a7a7a" stroke-width="0.5"/>
<line x1="306.7" y1="98.9" x2="314.5" y2="91.8" stroke="#7a7a7a" stroke-width="0.5"/>
<line x1="306.7" y1="98.9" x2="302.8" y2="103.7" stroke="#7a7a7a" stroke-width="0.5"/>
<line x1="306.7" y1="98.9" x2="311" y2="106.3" stroke="#7a7a7a" stroke-width="0.5"/>
<line x1="294.6" y1="110.7" x2="286.5" y2="105.2" stroke="#7a7a7a" stroke-width="0.5"/>
<line x1="294.6" y1="110.7" x2="302.8" y2="103.7" stroke="#7a7a7a" stroke-width="0.5"/>
<line x1="294.6" y1="110.7" x2="290.3" y2="115.5" stroke="#7a7a7a" stroke-width="0.5"/>
<line x1="294.6" y1="110.7" x2="298.2" y2="118" stroke="#7a7a7a" stroke-width="0.5"/>
<line x1="306.4" y1="111.4" x2="302.8" y2="103.7" stroke="#7a7a7a" stroke-width="0.5"/>
<line x1="306.4" y1="111.4" x2="311" y2="106.3" stroke="#7a7a7a" stroke-width="0.5"/>
<line x1="306.4" y1="111.4" x2="298.2" y2="118" stroke="#7a7a7a" stroke-width="0.5"/>
<line x1="306.4" y1="111.4" x2="314.5" y2="117" stroke="#7a7a7a" stroke-width="0.5"/>
<circle cx="290.5" cy="90.4" r="1.4" fill="#f6f6f6" stroke="#8c8c8c" stroke-width="0.7"/>
<circle cx="298.2" cy="93" r="1.4" fill="#f6f6f6" stroke="#8c8c8c" stroke-width="0.7"/>
<circle cx="314.5" cy="91.8" r="1.4" fill="#f6f6f6" stroke="#8c8c8c" stroke-width="0.7"/>
<circle cx="286.5" cy="105.2" r="1.4" fill="#f6f6f6" stroke="#8c8c8c" stroke-width="0.7"/>
<circle cx="302.8" cy="103.7" r="1.4" fill="#f6f6f6" stroke="#8c8c8c" stroke-width="0.7"/>
<circle cx="311" cy="106.3" r="1.4" fill="#f6f6f6" stroke="#8c8c8c" stroke-width="0.7"/>
<circle cx="290.3" cy="115.5" r="1.4" fill="#f6f6f6" stroke="#8c8c8c" stroke-width="0.7"/>
<circle cx="298.2" cy="118" r="1.4" fill="#f6f6f6" stroke="#8c8c8c" stroke-width="0.7"/>
<circle cx="314.5" cy="117" r="1.4" fill="#f6f6f6" stroke="#8c8c8c" stroke-width="0.7"/>
<circle cx="294.4" cy="98.1" r="3.3" fill="url(#gLi)" stroke="none" stroke-width="1"/>
<circle cx="306.7" cy="98.9" r="3.3" fill="url(#gLi)" stroke="none" stroke-width="1"/>
<circle cx="294.6" cy="110.7" r="3.3" fill="url(#gLi)" stroke="none" stroke-width="1"/>
<circle cx="306.4" cy="111.4" r="3.3" fill="url(#gLi)" stroke="none" stroke-width="1"/>
<text x="300" y="131.7" font-size="9.4" text-anchor="middle" fill="#1a1a1a">Li-rich</text>
<text x="224" y="132.6" font-size="11.7" text-anchor="middle" fill="#1a1a1a">MA-LTMO</text>
<path d="M342 74 Q365 60 384.3 46.8 L381.8 44.3 L397 40.5 L393.2 55.7 L390.7 53.2 Q372 68 350 84 Z" stroke="none" stroke-width="1" fill="url(#arrG)"/>
<path d="M346 80 Q368 85 389.7 95.1 L391.9 92.4 L396 106.3 L381.7 104.8 L383.9 102.1 Q366 94 346 92 Z" stroke="none" stroke-width="1" fill="url(#arrR)"/>
<path d="M333 55 C355 60 380 66 399 68 L399 65.5 L413 74.5 L399 83.2 L399 80 C380 80 355 86 333 98 Z" stroke="none" stroke-width="1" fill="url(#arrB)"/>
<line x1="362.2" y1="34.3" x2="371.7" y2="33.9" stroke="#aaa" stroke-width="0.6"/>
<line x1="372.7" y1="42.7" x2="371.7" y2="33.9" stroke="#aaa" stroke-width="0.6"/>
<circle cx="371.7" cy="33.9" r="3.9" fill="url(#gOb)" stroke="none" stroke-width="1"/>
<circle cx="362.3" cy="34.5" r="1.9" fill="#eef8ea" stroke="#82bd63" stroke-width="1"/>
<circle cx="372.6" cy="42.6" r="1.9" fill="#eef8ea" stroke="#82bd63" stroke-width="1"/>
<text x="351.2" y="54.3" font-size="10.8" text-anchor="start" fill="#1a1a1a" transform="rotate(14 351.2 54.3)">H<tspan font-size="7.2" dy="2.5">2</tspan><tspan dy="-2.5">O</tspan></text>
<text x="352" y="106" font-size="11" text-anchor="start" fill="#1a1a1a" transform="rotate(-10 352 106)">CO<tspan font-size="7.5" dy="1">2</tspan></text>
<line x1="355.8" y1="114.5" x2="374.8" y2="112" stroke="#aaa" stroke-width="0.6"/>
<circle cx="355.8" cy="114.5" r="3.9" fill="url(#gOb)" stroke="none" stroke-width="1"/>
<circle cx="374.8" cy="112" r="3.9" fill="url(#gOb)" stroke="none" stroke-width="1"/>
<circle cx="365.2" cy="113.2" r="2.9" fill="url(#gCL)" stroke="#6f86c4" stroke-width="0.6"/>
<line x1="420.4" y1="40.9" x2="430.2" y2="48.6" stroke="#8e9c97" stroke-width="0.6"/>
<line x1="430.2" y1="40.9" x2="430.2" y2="48.6" stroke="#8e9c97" stroke-width="0.6"/>
<line x1="430.2" y1="40.9" x2="440" y2="48.6" stroke="#8e9c97" stroke-width="0.6"/>
<line x1="440" y1="40.9" x2="430.2" y2="48.6" stroke="#8e9c97" stroke-width="0.6"/>
<line x1="440" y1="40.9" x2="440" y2="48.6" stroke="#8e9c97" stroke-width="0.6"/>
<line x1="440" y1="40.9" x2="449.8" y2="48.6" stroke="#8e9c97" stroke-width="0.6"/>
<line x1="449.8" y1="40.9" x2="440" y2="48.6" stroke="#8e9c97" stroke-width="0.6"/>
<line x1="449.8" y1="40.9" x2="449.8" y2="48.6" stroke="#8e9c97" stroke-width="0.6"/>
<line x1="449.8" y1="40.9" x2="459.6" y2="48.6" stroke="#8e9c97" stroke-width="0.6"/>
<line x1="459.6" y1="40.9" x2="449.8" y2="48.6" stroke="#8e9c97" stroke-width="0.6"/>
<line x1="459.6" y1="40.9" x2="459.6" y2="48.6" stroke="#8e9c97" stroke-width="0.6"/>
<line x1="459.6" y1="40.9" x2="469.4" y2="48.6" stroke="#8e9c97" stroke-width="0.6"/>
<line x1="469.4" y1="40.9" x2="459.6" y2="48.6" stroke="#8e9c97" stroke-width="0.6"/>
<line x1="469.4" y1="40.9" x2="469.4" y2="48.6" stroke="#8e9c97" stroke-width="0.6"/>
<line x1="479.2" y1="40.9" x2="469.4" y2="48.6" stroke="#8e9c97" stroke-width="0.6"/>
<line x1="479.2" y1="40.9" x2="489" y2="48.6" stroke="#8e9c97" stroke-width="0.6"/>
<line x1="489" y1="40.9" x2="489" y2="48.6" stroke="#8e9c97" stroke-width="0.6"/>
<line x1="498.8" y1="40.9" x2="489" y2="48.6" stroke="#8e9c97" stroke-width="0.6"/>
<line x1="430.2" y1="48.6" x2="420.4" y2="55.6" stroke="#8e9c97" stroke-width="0.6"/>
<line x1="430.2" y1="48.6" x2="430.2" y2="55.6" stroke="#8e9c97" stroke-width="0.6"/>
<line x1="430.2" y1="48.6" x2="440" y2="55.6" stroke="#8e9c97" stroke-width="0.6"/>
<line x1="440" y1="48.6" x2="430.2" y2="55.6" stroke="#8e9c97" stroke-width="0.6"/>
<line x1="440" y1="48.6" x2="440" y2="55.6" stroke="#8e9c97" stroke-width="0.6"/>
<line x1="440" y1="48.6" x2="449.8" y2="55.6" stroke="#8e9c97" stroke-width="0.6"/>
<line x1="449.8" y1="48.6" x2="440" y2="55.6" stroke="#8e9c97" stroke-width="0.6"/>
<line x1="449.8" y1="48.6" x2="449.8" y2="55.6" stroke="#8e9c97" stroke-width="0.6"/>
<line x1="449.8" y1="48.6" x2="459.6" y2="55.6" stroke="#8e9c97" stroke-width="0.6"/>
<line x1="459.6" y1="48.6" x2="449.8" y2="55.6" stroke="#8e9c97" stroke-width="0.6"/>
<line x1="459.6" y1="48.6" x2="459.6" y2="55.6" stroke="#8e9c97" stroke-width="0.6"/>
<line x1="459.6" y1="48.6" x2="469.4" y2="55.6" stroke="#8e9c97" stroke-width="0.6"/>
<line x1="469.4" y1="48.6" x2="459.6" y2="55.6" stroke="#8e9c97" stroke-width="0.6"/>
<line x1="469.4" y1="48.6" x2="469.4" y2="55.6" stroke="#8e9c97" stroke-width="0.6"/>
<line x1="469.4" y1="48.6" x2="479.2" y2="55.6" stroke="#8e9c97" stroke-width="0.6"/>
<line x1="489" y1="48.6" x2="479.2" y2="55.6" stroke="#8e9c97" stroke-width="0.6"/>
<line x1="489" y1="48.6" x2="489" y2="55.6" stroke="#8e9c97" stroke-width="0.6"/>
<line x1="489" y1="48.6" x2="498.8" y2="55.6" stroke="#8e9c97" stroke-width="0.6"/>
<line x1="430.2" y1="55.6" x2="440" y2="64.1" stroke="#bd9a88" stroke-width="0.6"/>
<line x1="440" y1="55.6" x2="440" y2="64.1" stroke="#bd9a88" stroke-width="0.6"/>
<line x1="440" y1="55.6" x2="449.8" y2="64.1" stroke="#bd9a88" stroke-width="0.6"/>
<line x1="449.8" y1="55.6" x2="440" y2="64.1" stroke="#bd9a88" stroke-width="0.6"/>
<line x1="449.8" y1="55.6" x2="449.8" y2="64.1" stroke="#bd9a88" stroke-width="0.6"/>
<line x1="449.8" y1="55.6" x2="459.6" y2="64.1" stroke="#bd9a88" stroke-width="0.6"/>
<line x1="459.6" y1="55.6" x2="449.8" y2="64.1" stroke="#bd9a88" stroke-width="0.6"/>
<line x1="459.6" y1="55.6" x2="459.6" y2="64.1" stroke="#bd9a88" stroke-width="0.6"/>
<line x1="459.6" y1="55.6" x2="467.44" y2="64.1" stroke="#8e9c97" stroke-width="0.6"/>
<line x1="469.4" y1="55.6" x2="459.6" y2="64.1" stroke="#bd9a88" stroke-width="0.6"/>
<line x1="469.4" y1="55.6" x2="467.44" y2="64.1" stroke="#8e9c97" stroke-width="0.6"/>
<line x1="469.4" y1="55.6" x2="479.69" y2="64.1" stroke="#8e9c97" stroke-width="0.6"/>
<line x1="479.2" y1="55.6" x2="467.44" y2="64.1" stroke="#8e9c97" stroke-width="0.6"/>
<line x1="479.2" y1="55.6" x2="479.69" y2="64.1" stroke="#8e9c97" stroke-width="0.6"/>
<line x1="489" y1="55.6" x2="479.69" y2="64.1" stroke="#8e9c97" stroke-width="0.6"/>
<line x1="440" y1="64.1" x2="430.2" y2="73" stroke="#bd9a88" stroke-width="0.6"/>
<line x1="440" y1="64.1" x2="440" y2="73" stroke="#bd9a88" stroke-width="0.6"/>
<line x1="440" y1="64.1" x2="449.8" y2="73" stroke="#bd9a88" stroke-width="0.6"/>
<line x1="449.8" y1="64.1" x2="440" y2="73" stroke="#bd9a88" stroke-width="0.6"/>
<line x1="449.8" y1="64.1" x2="449.8" y2="73" stroke="#bd9a88" stroke-width="0.6"/>
<line x1="449.8" y1="64.1" x2="459.6" y2="73" stroke="#bd9a88" stroke-width="0.6"/>
<line x1="459.6" y1="64.1" x2="449.8" y2="73" stroke="#bd9a88" stroke-width="0.6"/>
<line x1="459.6" y1="64.1" x2="459.6" y2="73" stroke="#bd9a88" stroke-width="0.6"/>
<line x1="459.6" y1="64.1" x2="469.4" y2="73" stroke="#bd9a88" stroke-width="0.6"/>
<line x1="467.44" y1="64.1" x2="459.6" y2="73" stroke="#8e9c97" stroke-width="0.6"/>
<line x1="467.44" y1="64.1" x2="469.4" y2="73" stroke="#8e9c97" stroke-width="0.6"/>
<line x1="467.44" y1="64.1" x2="479.2" y2="73" stroke="#8e9c97" stroke-width="0.6"/>
<line x1="479.69" y1="64.1" x2="469.4" y2="73" stroke="#8e9c97" stroke-width="0.6"/>
<line x1="479.69" y1="64.1" x2="479.2" y2="73" stroke="#8e9c97" stroke-width="0.6"/>
<line x1="479.69" y1="64.1" x2="489" y2="73" stroke="#8e9c97" stroke-width="0.6"/>
<line x1="440" y1="73" x2="449.8" y2="80.7" stroke="#8e9c97" stroke-width="0.6"/>
<line x1="449.8" y1="73" x2="449.8" y2="80.7" stroke="#8e9c97" stroke-width="0.6"/>
<line x1="459.6" y1="73" x2="449.8" y2="80.7" stroke="#8e9c97" stroke-width="0.6"/>
<line x1="469.4" y1="73" x2="479.2" y2="80.7" stroke="#8e9c97" stroke-width="0.6"/>
<line x1="479.2" y1="73" x2="479.2" y2="80.7" stroke="#8e9c97" stroke-width="0.6"/>
<line x1="489" y1="73" x2="479.2" y2="80.7" stroke="#8e9c97" stroke-width="0.6"/>
<line x1="449.8" y1="80.7" x2="440" y2="87.7" stroke="#8e9c97" stroke-width="0.6"/>
<line x1="449.8" y1="80.7" x2="449.8" y2="87.7" stroke="#8e9c97" stroke-width="0.6"/>
<line x1="449.8" y1="80.7" x2="459.6" y2="87.7" stroke="#8e9c97" stroke-width="0.6"/>
<line x1="479.2" y1="80.7" x2="469.4" y2="87.7" stroke="#8e9c97" stroke-width="0.6"/>
<line x1="479.2" y1="80.7" x2="479.2" y2="87.7" stroke="#8e9c97" stroke-width="0.6"/>
<line x1="479.2" y1="80.7" x2="489" y2="87.7" stroke="#8e9c97" stroke-width="0.6"/>
<line x1="420.4" y1="87.7" x2="430.2" y2="97" stroke="#bd9a88" stroke-width="0.6"/>
<line x1="430.2" y1="87.7" x2="430.2" y2="97" stroke="#bd9a88" stroke-width="0.6"/>
<line x1="430.2" y1="87.7" x2="440" y2="97" stroke="#bd9a88" stroke-width="0.6"/>
<line x1="440" y1="87.7" x2="430.2" y2="97" stroke="#bd9a88" stroke-width="0.6"/>
<line x1="440" y1="87.7" x2="440" y2="97" stroke="#bd9a88" stroke-width="0.6"/>
<line x1="440" y1="87.7" x2="449.8" y2="97" stroke="#bd9a88" stroke-width="0.6"/>
<line x1="449.8" y1="87.7" x2="440" y2="97" stroke="#bd9a88" stroke-width="0.6"/>
<line x1="449.8" y1="87.7" x2="449.8" y2="97" stroke="#bd9a88" stroke-width="0.6"/>
<line x1="449.8" y1="87.7" x2="459.6" y2="97" stroke="#bd9a88" stroke-width="0.6"/>
<line x1="459.6" y1="87.7" x2="449.8" y2="97" stroke="#bd9a88" stroke-width="0.6"/>
<line x1="459.6" y1="87.7" x2="459.6" y2="97" stroke="#bd9a88" stroke-width="0.6"/>
<line x1="459.6" y1="87.7" x2="469.4" y2="97" stroke="#bd9a88" stroke-width="0.6"/>
<line x1="469.4" y1="87.7" x2="459.6" y2="97" stroke="#bd9a88" stroke-width="0.6"/>
<line x1="469.4" y1="87.7" x2="469.4" y2="97" stroke="#bd9a88" stroke-width="0.6"/>
<line x1="469.4" y1="87.7" x2="479.2" y2="97" stroke="#bd9a88" stroke-width="0.6"/>
<line x1="479.2" y1="87.7" x2="469.4" y2="97" stroke="#bd9a88" stroke-width="0.6"/>
<line x1="479.2" y1="87.7" x2="479.2" y2="97" stroke="#bd9a88" stroke-width="0.6"/>
<line x1="479.2" y1="87.7" x2="489" y2="97" stroke="#bd9a88" stroke-width="0.6"/>
<line x1="489" y1="87.7" x2="479.2" y2="97" stroke="#bd9a88" stroke-width="0.6"/>
<line x1="489" y1="87.7" x2="489" y2="97" stroke="#bd9a88" stroke-width="0.6"/>
<line x1="498.8" y1="87.7" x2="489" y2="97" stroke="#bd9a88" stroke-width="0.6"/>
<line x1="430.2" y1="97" x2="420.4" y2="105.9" stroke="#bd9a88" stroke-width="0.6"/>
<line x1="430.2" y1="97" x2="430.2" y2="105.9" stroke="#bd9a88" stroke-width="0.6"/>
<line x1="430.2" y1="97" x2="440" y2="105.9" stroke="#bd9a88" stroke-width="0.6"/>
<line x1="440" y1="97" x2="430.2" y2="105.9" stroke="#bd9a88" stroke-width="0.6"/>
<line x1="440" y1="97" x2="440" y2="105.9" stroke="#bd9a88" stroke-width="0.6"/>
<line x1="440" y1="97" x2="449.8" y2="105.9" stroke="#bd9a88" stroke-width="0.6"/>
<line x1="449.8" y1="97" x2="440" y2="105.9" stroke="#bd9a88" stroke-width="0.6"/>
<line x1="449.8" y1="97" x2="449.8" y2="105.9" stroke="#bd9a88" stroke-width="0.6"/>
<line x1="449.8" y1="97" x2="459.6" y2="105.9" stroke="#bd9a88" stroke-width="0.6"/>
<line x1="459.6" y1="97" x2="449.8" y2="105.9" stroke="#bd9a88" stroke-width="0.6"/>
<line x1="459.6" y1="97" x2="459.6" y2="105.9" stroke="#bd9a88" stroke-width="0.6"/>
<line x1="459.6" y1="97" x2="469.4" y2="105.9" stroke="#bd9a88" stroke-width="0.6"/>
<line x1="469.4" y1="97" x2="459.6" y2="105.9" stroke="#bd9a88" stroke-width="0.6"/>
<line x1="469.4" y1="97" x2="469.4" y2="105.9" stroke="#bd9a88" stroke-width="0.6"/>
<line x1="469.4" y1="97" x2="479.2" y2="105.9" stroke="#bd9a88" stroke-width="0.6"/>
<line x1="479.2" y1="97" x2="469.4" y2="105.9" stroke="#bd9a88" stroke-width="0.6"/>
<line x1="479.2" y1="97" x2="479.2" y2="105.9" stroke="#bd9a88" stroke-width="0.6"/>
<line x1="479.2" y1="97" x2="489" y2="105.9" stroke="#bd9a88" stroke-width="0.6"/>
<line x1="489" y1="97" x2="479.2" y2="105.9" stroke="#bd9a88" stroke-width="0.6"/>
<line x1="489" y1="97" x2="489" y2="105.9" stroke="#bd9a88" stroke-width="0.6"/>
<line x1="489" y1="97" x2="498.8" y2="105.9" stroke="#bd9a88" stroke-width="0.6"/>
<circle cx="420.4" cy="40.9" r="1.75" fill="#f2f2f2" stroke="#7e7e7e" stroke-width="0.9"/>
<circle cx="430.2" cy="40.9" r="1.75" fill="#f2f2f2" stroke="#7e7e7e" stroke-width="0.9"/>
<circle cx="440" cy="40.9" r="1.75" fill="#f2f2f2" stroke="#7e7e7e" stroke-width="0.9"/>
<circle cx="449.8" cy="40.9" r="1.75" fill="#f2f2f2" stroke="#7e7e7e" stroke-width="0.9"/>
<circle cx="459.6" cy="40.9" r="1.75" fill="#f2f2f2" stroke="#7e7e7e" stroke-width="0.9"/>
<circle cx="469.4" cy="40.9" r="1.75" fill="#f2f2f2" stroke="#7e7e7e" stroke-width="0.9"/>
<circle cx="479.2" cy="40.9" r="1.75" fill="#f2f2f2" stroke="#7e7e7e" stroke-width="0.9"/>
<circle cx="489" cy="40.9" r="1.75" fill="#f2f2f2" stroke="#7e7e7e" stroke-width="0.9"/>
<circle cx="498.8" cy="40.9" r="1.75" fill="#f2f2f2" stroke="#7e7e7e" stroke-width="0.9"/>
<circle cx="430.2" cy="48.6" r="3.6" fill="url(#gTM)" stroke="none" stroke-width="1"/>
<circle cx="440" cy="48.6" r="3.6" fill="url(#gTM)" stroke="none" stroke-width="1"/>
<circle cx="449.8" cy="48.6" r="3.6" fill="url(#gTM)" stroke="none" stroke-width="1"/>
<circle cx="459.6" cy="48.6" r="3.6" fill="url(#gTM)" stroke="none" stroke-width="1"/>
<circle cx="469.4" cy="48.6" r="3.6" fill="url(#gTM)" stroke="none" stroke-width="1"/>
<circle cx="489" cy="48.6" r="3.6" fill="url(#gTM)" stroke="none" stroke-width="1"/>
<circle cx="420.4" cy="55.6" r="1.75" fill="#f2f2f2" stroke="#7e7e7e" stroke-width="0.9"/>
<circle cx="430.2" cy="55.6" r="1.75" fill="#f2f2f2" stroke="#7e7e7e" stroke-width="0.9"/>
<circle cx="440" cy="55.6" r="1.75" fill="#f2f2f2" stroke="#7e7e7e" stroke-width="0.9"/>
<circle cx="449.8" cy="55.6" r="1.75" fill="#f2f2f2" stroke="#7e7e7e" stroke-width="0.9"/>
<circle cx="459.6" cy="55.6" r="1.75" fill="#f2f2f2" stroke="#7e7e7e" stroke-width="0.9"/>
<circle cx="469.4" cy="55.6" r="1.75" fill="#f2f2f2" stroke="#7e7e7e" stroke-width="0.9"/>
<circle cx="479.2" cy="55.6" r="1.75" fill="#f2f2f2" stroke="#7e7e7e" stroke-width="0.9"/>
<circle cx="489" cy="55.6" r="1.75" fill="#f2f2f2" stroke="#7e7e7e" stroke-width="0.9"/>
<circle cx="498.8" cy="55.6" r="1.75" fill="#f2f2f2" stroke="#7e7e7e" stroke-width="0.9"/>
<circle cx="440" cy="64.1" r="4.3" fill="url(#gLi)" stroke="none" stroke-width="1"/>
<circle cx="449.8" cy="64.1" r="4.3" fill="url(#gLi)" stroke="none" stroke-width="1"/>
<circle cx="459.6" cy="64.1" r="4.3" fill="url(#gLi)" stroke="none" stroke-width="1"/>
<circle cx="467.44" cy="64.1" r="3.6" fill="url(#gTM)" stroke="none" stroke-width="1"/>
<circle cx="479.69" cy="64.1" r="3.6" fill="url(#gTM)" stroke="none" stroke-width="1"/>
<circle cx="430.2" cy="73" r="1.75" fill="#f2f2f2" stroke="#7e7e7e" stroke-width="0.9"/>
<circle cx="440" cy="73" r="1.75" fill="#f2f2f2" stroke="#7e7e7e" stroke-width="0.9"/>
<circle cx="449.8" cy="73" r="1.75" fill="#f2f2f2" stroke="#7e7e7e" stroke-width="0.9"/>
<circle cx="459.6" cy="73" r="1.75" fill="#f2f2f2" stroke="#7e7e7e" stroke-width="0.9"/>
<circle cx="469.4" cy="73" r="1.75" fill="#f2f2f2" stroke="#7e7e7e" stroke-width="0.9"/>
<circle cx="479.2" cy="73" r="1.75" fill="#f2f2f2" stroke="#7e7e7e" stroke-width="0.9"/>
<circle cx="489" cy="73" r="1.75" fill="#f2f2f2" stroke="#7e7e7e" stroke-width="0.9"/>
<circle cx="449.8" cy="80.7" r="3.6" fill="url(#gTM)" stroke="none" stroke-width="1"/>
<circle cx="479.2" cy="80.7" r="3.6" fill="url(#gTM)" stroke="none" stroke-width="1"/>
<circle cx="420.4" cy="87.7" r="1.75" fill="#f2f2f2" stroke="#7e7e7e" stroke-width="0.9"/>
<circle cx="430.2" cy="87.7" r="1.75" fill="#f2f2f2" stroke="#7e7e7e" stroke-width="0.9"/>
<circle cx="440" cy="87.7" r="1.75" fill="#f2f2f2" stroke="#7e7e7e" stroke-width="0.9"/>
<circle cx="449.8" cy="87.7" r="1.75" fill="#f2f2f2" stroke="#7e7e7e" stroke-width="0.9"/>
<circle cx="459.6" cy="87.7" r="1.75" fill="#f2f2f2" stroke="#7e7e7e" stroke-width="0.9"/>
<circle cx="469.4" cy="87.7" r="1.75" fill="#f2f2f2" stroke="#7e7e7e" stroke-width="0.9"/>
<circle cx="479.2" cy="87.7" r="1.75" fill="#f2f2f2" stroke="#7e7e7e" stroke-width="0.9"/>
<circle cx="489" cy="87.7" r="1.75" fill="#f2f2f2" stroke="#7e7e7e" stroke-width="0.9"/>
<circle cx="498.8" cy="87.7" r="1.75" fill="#f2f2f2" stroke="#7e7e7e" stroke-width="0.9"/>
<circle cx="430.2" cy="97" r="4.3" fill="url(#gLi)" stroke="none" stroke-width="1"/>
<circle cx="440" cy="97" r="4.3" fill="url(#gLi)" stroke="none" stroke-width="1"/>
<circle cx="449.8" cy="97" r="4.3" fill="url(#gLi)" stroke="none" stroke-width="1"/>
<circle cx="459.6" cy="97" r="4.3" fill="url(#gLi)" stroke="none" stroke-width="1"/>
<circle cx="469.4" cy="97" r="4.3" fill="url(#gLi)" stroke="none" stroke-width="1"/>
<circle cx="479.2" cy="97" r="4.3" fill="url(#gLi)" stroke="none" stroke-width="1"/>
<circle cx="489" cy="97" r="4.3" fill="url(#gLi)" stroke="none" stroke-width="1"/>
<circle cx="420.4" cy="105.9" r="1.75" fill="#f2f2f2" stroke="#7e7e7e" stroke-width="0.9"/>
<circle cx="430.2" cy="105.9" r="1.75" fill="#f2f2f2" stroke="#7e7e7e" stroke-width="0.9"/>
<circle cx="440" cy="105.9" r="1.75" fill="#f2f2f2" stroke="#7e7e7e" stroke-width="0.9"/>
<circle cx="449.8" cy="105.9" r="1.75" fill="#f2f2f2" stroke="#7e7e7e" stroke-width="0.9"/>
<circle cx="459.6" cy="105.9" r="1.75" fill="#f2f2f2" stroke="#7e7e7e" stroke-width="0.9"/>
<circle cx="469.4" cy="105.9" r="1.75" fill="#f2f2f2" stroke="#7e7e7e" stroke-width="0.9"/>
<circle cx="479.2" cy="105.9" r="1.75" fill="#f2f2f2" stroke="#7e7e7e" stroke-width="0.9"/>
<circle cx="489" cy="105.9" r="1.75" fill="#f2f2f2" stroke="#7e7e7e" stroke-width="0.9"/>
<circle cx="498.8" cy="105.9" r="1.75" fill="#f2f2f2" stroke="#7e7e7e" stroke-width="0.9"/>
<circle cx="465.4" cy="80.7" r="3.6" fill="none" stroke="#ea7a5e" stroke-width="1.4" stroke-dasharray="3 1.6"/>
<line x1="473" y1="45" x2="484" y2="52" stroke="#8fcf70" stroke-width="0.7"/>
<line x1="473" y1="52" x2="484" y2="45" stroke="#8fcf70" stroke-width="0.7"/>
<circle cx="478.5" cy="48.6" r="1.3" fill="#f3fbef" stroke="#7cba5a" stroke-width="0.7"/>
<circle cx="495.7" cy="37.3" r="1.3" fill="#f3fbef" stroke="#7cba5a" stroke-width="0.7"/>
<text x="418" y="133.2" font-size="11.8" text-anchor="start" fill="#1a1a1a">MA-LTMO-CO<tspan font-size="8.3" dy="2.5">2</tspan><tspan dy="-2.5">L</tspan></text>
<ellipse cx="543.2" cy="34.3" rx="28.4" ry="15" fill="url(#eG)"/>
<ellipse cx="543.2" cy="81" rx="28.4" ry="15" fill="url(#eB)"/>
<ellipse cx="543.2" cy="127" rx="28.4" ry="15" fill="url(#eR)"/>
<circle cx="524.5" cy="29.8" r="3.4" fill="url(#gOb)" stroke="none" stroke-width="1"/>
<line x1="519.5" y1="35" x2="524.5" y2="29.8" stroke="#aaa" stroke-width="0.5"/>
<line x1="531" y1="35" x2="524.5" y2="29.8" stroke="#aaa" stroke-width="0.5"/>
<circle cx="519.5" cy="35" r="1.3" fill="#f3fbef" stroke="#7cba5a" stroke-width="0.7"/>
<circle cx="531" cy="35" r="1.3" fill="#f3fbef" stroke="#7cba5a" stroke-width="0.7"/>
<path d="M539 31.5 A4 4 0 0 1 547 31.5" stroke="#555" stroke-width="0.8" fill="none"/>
<path d="M547 31.5 l-1.5 -1.5 M547 31.5 l1.3 -1.4" stroke="#555" stroke-width="0.7" fill="none"/>
<path d="M547 36.5 A4 4 0 0 1 539 36.5" stroke="#555" stroke-width="0.8" fill="none"/>
<path d="M539 36.5 l1.5 1.5 M539 36.5 l-1.3 1.4" stroke="#555" stroke-width="0.7" fill="none"/>
<circle cx="561.5" cy="40.5" r="3.4" fill="url(#gOb)" stroke="none" stroke-width="1"/>
<circle cx="568" cy="33.5" r="3.4" fill="url(#gOb)" stroke="none" stroke-width="1"/>
<line x1="526" y1="85.2" x2="541.5" y2="87" stroke="#aaa" stroke-width="0.5"/>
<circle cx="526" cy="85.2" r="3" fill="url(#gOb)" stroke="none" stroke-width="1"/>
<circle cx="541.5" cy="87" r="3" fill="url(#gOb)" stroke="none" stroke-width="1"/>
<circle cx="533.8" cy="86.4" r="2" fill="#dfe6f6" stroke="#5a72b8" stroke-width="0.7"/>
<circle cx="552.3" cy="72.5" r="3.3" fill="url(#gOb)" stroke="none" stroke-width="1"/>
<line x1="545.5" y1="79.5" x2="552.3" y2="72.5" stroke="#aaa" stroke-width="0.5"/>
<line x1="557.8" y1="79.3" x2="552.3" y2="72.5" stroke="#aaa" stroke-width="0.5"/>
<circle cx="545.5" cy="79.5" r="1.3" fill="#f3fbef" stroke="#7cba5a" stroke-width="0.7"/>
<circle cx="557.8" cy="79.3" r="1.3" fill="#f3fbef" stroke="#7cba5a" stroke-width="0.7"/>
<circle cx="533.4" cy="123.5" r="2.8" fill="url(#gOb)" stroke="none" stroke-width="1"/>
<circle cx="527.5" cy="133.5" r="2.8" fill="url(#gOb)" stroke="none" stroke-width="1"/>
<circle cx="541.8" cy="132.8" r="2.8" fill="url(#gOb)" stroke="none" stroke-width="1"/>
<line x1="534.8" y1="130.7" x2="533.4" y2="123.5" stroke="#aaa" stroke-width="0.5"/>
<line x1="534.8" y1="130.7" x2="527.5" y2="133.5" stroke="#aaa" stroke-width="0.5"/>
<line x1="534.8" y1="130.7" x2="541.8" y2="132.8" stroke="#aaa" stroke-width="0.5"/>
<circle cx="534.8" cy="130.7" r="1.8" fill="#dfe6f6" stroke="#5a72b8" stroke-width="0.7"/>
<circle cx="524.5" cy="128.5" r="1.4" fill="#fff3ee" stroke="#e39a7c" stroke-width="0.7"/>
<circle cx="546.5" cy="128" r="1.4" fill="#fff3ee" stroke="#e39a7c" stroke-width="0.7"/>
<circle cx="559.5" cy="121.3" r="3" fill="url(#gOb)" stroke="none" stroke-width="1"/>
<line x1="553.5" y1="124" x2="559.5" y2="121.3" stroke="#aaa" stroke-width="0.5"/>
<line x1="562" y1="128.5" x2="559.5" y2="121.3" stroke="#aaa" stroke-width="0.5"/>
<circle cx="553.5" cy="124" r="1.3" fill="#f3fbef" stroke="#7cba5a" stroke-width="0.7"/>
<circle cx="562" cy="129" r="1.4" fill="#fff3ee" stroke="#e39a7c" stroke-width="0.7"/>
<path d="M517 89.3 C507 90.5 500.5 96 500.5 104 L503.5 104 C504 98 509 94 517 92.7 Z" stroke="none" stroke-width="1" fill="#a7b6bc"/>
<path d="M500.5 104 C501 110 505 115 510.5 117.8" stroke="#f0c0b0" stroke-width="2.6" fill="none"/>
<path d="M516 121 L508 120.5 L512.5 114.3 Z" stroke="none" stroke-width="1" fill="#f0c0b0"/>
<text x="577.2" y="40.5" font-size="10.7" text-anchor="start" fill="#1a1a1a">OER catalysts</text>
<text x="582.5" y="86" font-size="10.6" text-anchor="start" fill="#1a1a1a">CO<tspan font-size="7.3" dy="2.5">2</tspan><tspan dy="-2.5"> fixation</tspan></text>
<text x="582" y="131.6" font-size="10.6" text-anchor="start" fill="#1a1a1a">Li extraction</text>
<rect x="656.7" y="27.5" width="18.5" height="17.5" fill="none" stroke="#a8cbb5" stroke-width="1.4"/>
<path d="M661.5 36 L665 39 L670.5 33" stroke="#a8cbb5" stroke-width="1.4" fill="none"/>
<rect x="656.7" y="70.8" width="18.5" height="17.5" fill="none" stroke="#8fb0c0" stroke-width="1.4"/>
<path d="M661.5 79.3 L665 82.3 L670.5 76.3" stroke="#8fb0c0" stroke-width="1.4" fill="none"/>
<rect x="656.7" y="118.5" width="18.5" height="17.5" fill="none" stroke="#eea08e" stroke-width="1.4"/>
<path d="M661.5 127 L665 130 L670.5 124" stroke="#eea08e" stroke-width="1.4" fill="none"/>
<circle cx="368.4" cy="160" r="6" fill="url(#gOb)" stroke="none" stroke-width="1"/>
<text x="384.4" y="163.8" font-size="10.2" text-anchor="start" fill="#1a1a1a">O</text>
<circle cx="440" cy="160" r="6" fill="url(#gLiL)" stroke="none" stroke-width="1"/>
<text x="454.3" y="163.8" font-size="10.2" text-anchor="start" fill="#1a1a1a">Li</text>
<circle cx="510.9" cy="160.3" r="6.8" fill="url(#gTML)" stroke="none" stroke-width="1"/>
<text x="521.6" y="163.8" font-size="10.2" text-anchor="start" fill="#1a1a1a">TM</text>
<circle cx="583.8" cy="160.3" r="4.4" fill="url(#gCL)" stroke="none" stroke-width="1"/>
<text x="595" y="163.8" font-size="10.2" text-anchor="start" fill="#1a1a1a">C</text>
<circle cx="656.2" cy="160.3" r="3.7" fill="url(#gHL)" stroke="none" stroke-width="1"/>
<text x="665.7" y="163.8" font-size="10.2" text-anchor="start" fill="#1a1a1a">H</text>
<text x="4.5" y="182.3" font-size="13.5" text-anchor="start" fill="#111">b</text>
<path d="M24.5 260.31 L24.92 256.21 L25.76 251.02 L27.02 247.06 L27.44 246.71 L27.86 245.59 L28.28 245.44 L28.7 244.61 L29.12 244.22 L29.96 244.24 L30.38 243.21 L30.8 243.01 L31.64 243.15 L32.48 242.04 L32.9 242.34 L33.32 241.14 L33.74 241.68 L34.58 240.43 L35.42 240.06 L35.84 240.3 L36.26 239.39 L36.68 239.53 L37.1 239.32 L37.52 238.78 L37.94 238.69 L38.36 237.94 L38.78 237.67 L39.2 237.55 L39.62 237.76 L40.46 236.86 L40.88 236.86 L41.72 236.04 L42.14 236.27 L42.98 235.19 L43.4 235.25 L43.82 234.93 L44.24 235.02 L45.08 233.89 L45.5 234.32 L45.92 233.19 L46.76 233.29 L47.18 232.42 L47.6 232.48 L48.02 231.76 L48.44 232.12 L49.28 231.48 L49.7 231.5 L50.12 230.65 L50.54 230.74 L51.8 229.44 L52.22 229.22 L53.06 226.52 L53.48 227.42 L53.9 227.63 L54.32 228.72 L55.16 229.41 L55.58 229.34 L56 228.87 L56.84 229.35 L57.26 228.74 L57.68 229.2 L58.1 228.92 L58.94 228.83 L59.36 229.55 L59.78 228.91 L60.62 229.17 L61.04 229.65 L61.46 228.85 L62.72 229.63 L63.56 229.59 L63.98 229 L64.82 229.06 L65.24 229.57 L65.66 229.63 L66.08 228.82 L67.34 228.86 L68.18 229.19 L69.02 228.58 L69.44 228.98 L69.86 228.91 L70.7 229.47 L71.54 229 L72.38 229.13 L72.8 228.49 L73.22 229.32 L74.48 229.16 L74.9 228.74 L75.32 228.73 L75.74 228.42 L76.16 228.93 L76.58 228.34 L78.26 228.54 L79.1 228.16 L79.94 228.23 L80.36 228.47 L80.78 228.11 L81.2 228.94 L82.04 228.17 L83.3 228.32 L83.72 228.06 L84.14 228.76 L84.56 228.89 L84.98 228.33 L85.4 228.33 L85.82 227.9 L86.66 228.1 L87.08 228 L87.5 228.53 L87.92 227.82 L88.34 227.64 L88.76 228.53 L89.6 227.61 L90.02 227.93 L90.44 227.33 L91.28 228.01 L92.12 227.23 L92.96 225.77 L93.8 223.55 L94.22 221.82 L94.64 222.04 L95.06 223.03 L95.9 226.03 L96.32 226.83 L97.58 227.42 L98 227.42 L98.42 226.94 L98.84 227.24 L99.68 226.67 L100.1 226.6 L100.52 226.75 L100.94 226.6 L101.78 226.92 L102.2 226.15 L102.62 226.3 L103.46 225.32 L104.72 221.52 L105.56 217.13 L106.82 206.87 L107.24 204.96 L107.66 206.71 L108.92 217.71 L109.76 222.26 L110.18 223.6 L111.02 224.83 L111.44 226.04 L111.86 226.05 L112.7 227.36 L113.12 227.04 L113.54 227.25 L113.96 227.97 L114.38 227.9 L114.8 227.48 L115.22 227.55 L115.64 227.68 L116.06 228.52 L116.48 228.5 L116.9 227.92 L117.32 228.66 L117.74 228.88 L118.58 228.36 L119 228.6 L119.42 228.23 L119.84 228.16 L120.26 229.16 L121.1 228.79 L121.52 229.23 L121.94 228.76 L122.36 229.23 L122.78 229.22 L123.2 228.63 L124.46 228.74 L124.88 229.11 L125.3 228.81 L125.72 228.99 L126.14 228.73 L126.56 229.53 L126.98 228.99 L127.82 229.26 L128.24 229.6 L128.66 229.14 L129.08 229.65 L129.5 229.25 L130.34 229.3 L130.76 228.81 L131.18 229.25 L132.02 228.84 L132.44 229.64 L132.86 229.03 L133.7 229.6 L134.54 229.21 L135.8 229.69 L136.22 229.01 L136.64 229.47 L137.06 229.15 L137.48 229.18 L137.9 229.67 L138.32 229.4 L139.58 229.77 L140 229.28 L141.68 229.4 L142.1 229.11 L142.94 229 L143.36 229.37 L143.78 229.01 L144.62 228.94 L145.04 228.04 L145.88 228.09 L146.3 227.53 L146.72 226.22 L147.56 224.75 L148.82 220.85 L149.24 221.03 L149.66 221.57 L150.08 222.75 L150.5 223.3 L150.92 225.07 L151.34 226.02 L151.76 226.29 L152.18 227.65 L152.6 228.2 L153.02 227.82 L153.44 228.84 L153.86 228.52 L154.28 228.79 L154.7 229.44 L155.12 229.41 L155.54 228.84 L156.38 229.35 L157.22 229.15 L158.06 229.76 L158.48 229.1 L158.9 229.66 L159.32 229.58 L159.74 229.18 L160.58 229.82 L161 229.73 L161.42 229.3 L161.84 230.23 L162.26 230.05 L162.68 230.24 L163.1 229.39 L163.52 229.55 L163.94 229.34 L164.36 230.08 L164.78 229.58 L165.2 229.44 L166.04 230.23 L166.46 230.14 L166.88 229.58 L167.3 229.46 L167.72 230.23 L168.14 229.88 L168.56 230 L168.98 229.38 L169.4 229.34 L169.82 229.96 L170.66 229.3 L171.08 230.14 L171.5 229.8 L171.92 229.93 L172.34 229.16 L172.76 229.87 L173.18 229 L173.6 229.7 L174.44 228.88 L175.28 229.03 L175.7 228.11 L176.12 227.73 L176.54 227.98 L176.96 227.68 L177.38 227.69 L178.22 228.1 L179.48 228.89 L179.9 229.44 L180.32 229.04 L180.74 229.28 L181.16 228.96 L181.58 229.1 L182 228.71 L182.42 228.85 L182.84 228.46 L183.26 228.95 L184.1 227.7 L184.94 227.58 L185.36 226.59 L185.78 227.49 L186.2 227.53 L187.04 228.86 L187.46 228.75 L188.72 229.93 L189.14 229.4 L189.56 229.98 L191.24 229.7 L191.66 229.44 L192.5 229.51 L192.92 230.2 L193.34 229.73 L194.18 229.59 L194.6 230.36 L195.02 230.4 L195.86 229.83 L197.12 230.03 L197.54 229.74 L197.96 230.03 L198.38 229.85 L198.8 230.56 L199.22 230.57 L200.06 229.86 L200.48 230.58 L200.9 229.93 L201.32 229.98 L201.74 229.63 L202.16 230.01 L203 230.14" stroke="#2a8db3" stroke-width="1.5" fill="none" stroke-linejoin="round"/>
<path d="M24.5 295.19 L25.34 288.4 L26.18 284.78 L27.44 281.75 L28.28 280.81 L28.7 280.71 L29.96 279.7 L30.8 279.31 L31.22 278.54 L31.64 278.2 L32.06 278.59 L32.48 277.48 L32.9 277.79 L33.32 277.45 L33.74 276.59 L34.16 277.12 L34.58 276.92 L35 276.4 L35.84 276.07 L36.26 275.14 L36.68 275.27 L37.1 274.99 L37.52 275.06 L38.36 274.54 L38.78 274.04 L39.2 274.09 L40.04 273.38 L40.88 272.21 L41.72 272.02 L42.14 271.51 L42.56 271.98 L42.98 271.45 L44.24 270.8 L45.08 269.61 L45.5 270.14 L46.34 269.33 L47.18 268.97 L47.6 268.12 L48.02 268.53 L48.86 267.34 L49.28 267.27 L49.7 267.46 L50.12 266.66 L50.54 266.92 L50.96 266.85 L52.22 265.03 L53.06 263.01 L53.9 264.14 L54.32 263.79 L55.16 264.02 L55.58 264.49 L56 264.02 L56.42 264.26 L56.84 263.68 L57.68 263.89 L58.1 264.28 L58.52 264.28 L58.94 264.25 L59.36 263.85 L59.78 264.06 L60.62 263.99 L61.04 263.63 L61.46 264.39 L61.88 263.68 L62.3 264.45 L62.72 264.4 L63.14 263.47 L63.98 264.25 L64.4 264.39 L64.82 263.85 L65.24 263.66 L65.66 263.59 L66.08 264.31 L66.5 263.57 L66.92 263.92 L67.34 263.47 L68.18 264.25 L68.6 263.42 L69.02 264.09 L69.44 263.77 L69.86 264.13 L70.7 263.44 L71.12 264.1 L71.96 263.19 L72.38 263.15 L72.8 263.62 L74.06 263.22 L74.9 263.36 L75.32 263.87 L75.74 263.01 L76.16 263.75 L76.58 263.82 L77 263.08 L77.42 263.87 L77.84 263.63 L78.26 263.8 L78.68 263.17 L79.52 263.24 L79.94 263.82 L80.78 263.15 L81.2 263.19 L82.04 262.77 L82.46 262.81 L82.88 263.52 L83.3 262.95 L83.72 263.58 L84.14 262.87 L84.98 263.08 L85.4 262.74 L85.82 262.9 L86.24 263.45 L87.5 263.04 L87.92 263.29 L88.34 263.27 L88.76 262.84 L89.18 262.96 L89.6 262.23 L90.02 262.85 L90.44 262.48 L90.86 262.67 L91.28 262.42 L92.12 261.36 L92.54 261.83 L92.96 260.4 L93.38 259.75 L94.22 256.76 L94.64 257.17 L95.06 258.74 L95.48 259.4 L95.9 260.74 L96.32 260.96 L96.74 261.56 L98.42 261.64 L98.84 262.34 L99.68 261.57 L100.1 262.17 L100.52 262.16 L101.36 260.99 L102.62 260.36 L104.3 257.8 L104.72 256.74 L105.56 251.81 L106.82 240.64 L107.24 239.02 L107.66 240.36 L108.5 249.07 L109.34 254.63 L110.18 258.31 L110.6 258.71 L112.7 262.01 L113.54 262.4 L113.96 261.73 L114.38 261.89 L114.8 262.7 L115.22 263 L115.64 262.68 L116.06 262.89 L116.48 262.39 L117.32 263.45 L118.58 263.67 L119 263 L119.42 262.91 L119.84 262.99 L121.1 263.9 L121.94 263.67 L122.36 263.82 L122.78 263.55 L123.2 263.67 L123.62 263.19 L124.04 263.96 L124.46 263.43 L124.88 264.15 L126.14 263.42 L127.4 264.06 L127.82 263.49 L128.24 263.47 L128.66 263.94 L129.08 264.02 L129.92 263.69 L130.34 264.08 L130.76 263.51 L131.6 263.99 L132.02 264.5 L132.44 264.19 L132.86 264.44 L133.7 263.81 L134.12 263.84 L134.54 264.56 L135.8 263.63 L136.64 264.29 L137.48 263.87 L138.32 264.53 L138.74 263.82 L139.16 263.62 L140.42 264.22 L140.84 263.7 L141.26 264.27 L141.68 264.17 L142.52 263.53 L142.94 264.23 L143.36 263.49 L143.78 263.89 L144.2 263.17 L144.62 263 L145.04 263.33 L145.46 262.6 L145.88 262.92 L148.4 257.9 L148.82 256.1 L149.24 255.96 L149.66 256.18 L150.08 257.95 L150.5 258.34 L152.18 262.51 L153.44 263.67 L153.86 263.82 L154.28 263.4 L154.7 263.39 L155.12 264.26 L155.54 264.17 L155.96 263.53 L156.38 264.24 L156.8 264.01 L157.64 264.06 L158.48 263.8 L159.32 264.21 L159.74 264.83 L160.16 264.02 L160.58 264.88 L161 264.14 L161.42 264.3 L161.84 264.78 L162.26 264.79 L163.1 264.04 L163.52 264.47 L163.94 264.38 L164.36 264.93 L164.78 264.21 L165.2 264.39 L165.62 264.92 L166.04 264.06 L166.88 264.84 L167.3 264.79 L167.72 264.06 L168.14 264.05 L168.56 264.07 L168.98 264.92 L169.4 264.25 L169.82 264.72 L170.24 264.86 L170.66 264.28 L171.08 264.19 L171.5 264.84 L172.34 264.05 L172.76 264.44 L174.02 263.42 L174.44 264.01 L174.86 263.97 L175.28 263.45 L175.7 263.5 L176.12 262.34 L176.96 262.64 L177.38 263.26 L177.8 263.48 L178.22 263.16 L178.64 263.25 L179.48 263.82 L179.9 264.36 L180.32 263.68 L180.74 264.34 L181.58 264.36 L183.68 263.23 L184.1 263.32 L184.52 262.23 L184.94 262.01 L185.36 262.43 L185.78 262.09 L186.2 262.27 L186.62 262.65 L187.04 263.53 L187.46 263.58 L187.88 264.45 L188.72 264.74 L189.14 264.11 L189.56 264 L189.98 264.07 L190.82 264.77 L191.66 264.36 L192.5 264.79 L193.76 265.06 L194.18 264.89 L194.6 264.36 L195.02 265.08 L195.44 264.55 L195.86 264.83 L196.28 264.64 L196.7 265.01 L197.12 264.48 L198.38 264.45 L198.8 265.19 L199.64 264.64 L200.06 264.71 L200.48 265.32 L201.32 264.56 L201.74 265.14 L202.16 264.99 L202.58 265.33 L203 264.45" stroke="#2a8db3" stroke-width="1.5" fill="none" stroke-linejoin="round"/>
<path d="M24.5 336.46 L25.34 329.87 L26.18 325.15 L27.44 322.18 L27.86 322.3 L28.28 321.36 L28.7 321.23 L29.12 320.25 L29.54 320.37 L30.38 319.08 L30.8 319.29 L31.22 319.16 L31.64 318.02 L32.06 318.23 L33.74 316.66 L34.58 316.23 L35 316.3 L35.42 316.08 L36.26 314.9 L37.1 315.02 L37.52 314.26 L38.36 313.73 L38.78 314.05 L39.62 312.78 L41.3 312.27 L41.72 311.45 L42.14 311.25 L42.56 311.51 L43.82 310.31 L44.24 310.69 L44.66 309.77 L45.08 309.76 L45.5 309.27 L45.92 309.06 L46.34 309.24 L46.76 309.1 L47.18 308.19 L47.6 307.75 L48.02 308.01 L48.86 306.73 L49.28 307.35 L49.7 306.59 L50.12 306.69 L50.54 305.98 L50.96 306.14 L52.64 303.35 L53.06 302.2 L53.48 303.17 L53.9 303.08 L54.32 304.01 L54.74 303.95 L55.16 304.19 L55.58 303.9 L56.84 304.79 L57.26 303.99 L58.52 304.87 L58.94 304.1 L59.36 304.03 L59.78 304.84 L60.2 304.87 L61.04 303.94 L61.46 304.8 L61.88 304.26 L62.3 304.76 L62.72 304.47 L63.14 304.67 L63.56 303.99 L63.98 304.61 L64.4 304.03 L65.24 304.64 L65.66 304.61 L66.08 303.95 L67.34 304.25 L68.18 303.82 L69.44 304.55 L69.86 303.68 L70.28 304.19 L70.7 304.37 L71.12 303.64 L71.54 304.42 L71.96 303.68 L72.38 304.15 L73.22 304.14 L73.64 303.81 L74.48 304.05 L74.9 303.87 L75.32 304.09 L76.16 303.83 L76.58 303.4 L77 303.98 L77.84 303.56 L78.26 304.07 L78.68 304.06 L79.52 303.42 L79.94 303.7 L80.36 303.31 L80.78 303.31 L81.2 303.6 L81.62 303.24 L82.04 303.57 L82.46 303.62 L82.88 303.12 L83.3 303.7 L83.72 303.12 L84.14 303.75 L84.56 303.77 L85.4 303 L85.82 303.43 L86.24 303.27 L86.66 303.82 L87.08 302.97 L87.5 303.66 L87.92 303.77 L88.34 303.46 L88.76 303.5 L89.18 302.83 L89.6 303.56 L90.02 303 L90.44 303.38 L90.86 303.24 L91.28 302.34 L91.7 302.77 L92.12 302.64 L92.54 301.37 L93.38 300.43 L93.8 298.4 L94.64 297.11 L95.06 298.98 L96.32 301.98 L96.74 301.61 L97.58 302.25 L98.42 301.87 L99.26 301.96 L99.68 302.68 L100.1 302.34 L100.52 302.45 L100.94 301.59 L101.36 302.04 L101.78 301.15 L102.2 301.29 L102.62 301.05 L103.04 300.33 L103.46 300.27 L104.72 297.14 L105.56 292.79 L106.4 284.76 L107.24 279.35 L108.08 285.01 L108.92 292.69 L110.18 298.59 L110.6 298.94 L111.02 300.5 L111.44 300.54 L112.28 302.13 L112.7 302.04 L113.12 302.37 L113.96 302.1 L114.8 302.54 L115.22 303.12 L115.64 303.04 L116.06 303.21 L116.48 303.68 L116.9 302.99 L117.32 303.15 L117.74 303.64 L118.16 303.07 L118.58 303.1 L119 303.5 L119.42 303.3 L119.84 303.6 L120.26 303.5 L120.68 303.9 L121.1 303.94 L121.52 303.59 L121.94 304.05 L122.78 303.62 L123.2 304.45 L123.62 303.79 L124.46 303.69 L125.3 304.52 L126.98 303.75 L127.4 304.4 L128.24 304.14 L128.66 304.46 L129.08 304.27 L129.5 304.78 L130.34 304.13 L130.76 304.8 L131.18 303.95 L131.6 304.45 L132.86 304.01 L133.28 304.74 L133.7 303.98 L134.54 304.93 L134.96 304.14 L135.38 304.2 L135.8 304.61 L136.22 304.51 L137.06 304.82 L137.48 304.18 L138.32 304.29 L138.74 304.03 L139.16 304.86 L140 304.65 L140.42 303.92 L140.84 304.73 L141.68 304.27 L142.1 304.5 L142.94 303.84 L143.78 303.65 L144.2 303.31 L145.04 303.63 L145.88 303.1 L147.14 300.96 L147.98 299 L148.82 296.15 L149.24 296.1 L149.66 296.86 L150.08 297.17 L150.5 299.13 L150.92 299.47 L152.6 303.28 L153.02 303.45 L153.44 303.32 L153.86 304.1 L154.28 303.73 L154.7 303.79 L155.12 304.58 L155.54 304.41 L156.38 304.6 L156.8 304.98 L157.22 304.52 L157.64 304.94 L158.06 304.84 L158.48 305.04 L158.9 304.65 L159.32 304.96 L160.58 304.51 L161 304.94 L161.42 304.41 L161.84 305.26 L162.26 304.51 L162.68 304.4 L163.1 304.49 L163.52 305.32 L163.94 304.74 L164.78 304.44 L165.2 304.46 L165.62 305.11 L166.88 305.16 L167.3 304.48 L167.72 305.01 L168.14 304.77 L168.56 305.22 L169.4 305.28 L169.82 304.44 L170.24 305.22 L171.08 305.25 L171.5 304.38 L171.92 304.44 L172.76 304.16 L173.18 304.89 L174.02 304.45 L174.44 304.48 L175.7 303.05 L176.12 302.81 L176.54 303.32 L176.96 302.77 L177.8 303.35 L178.22 303.19 L179.48 304.44 L179.9 304.2 L180.32 304.22 L180.74 304.9 L181.16 304.46 L181.58 304.79 L182 304.51 L182.42 303.85 L182.84 304.11 L183.26 303.95 L183.68 304.04 L184.1 303.28 L184.52 303.26 L185.36 302.3 L185.78 303.1 L186.2 302.69 L186.62 303.83 L187.04 303.54 L187.46 303.66 L188.72 305.13 L189.14 304.25 L189.56 304.81 L189.98 304.87 L190.4 305.22 L190.82 304.65 L191.24 304.99 L191.66 304.87 L192.08 305.38 L192.5 304.82 L192.92 305.53 L193.34 304.88 L193.76 304.82 L194.18 305.32 L195.02 304.75 L195.44 305.29 L195.86 304.74 L196.28 305.46 L197.12 305.47 L197.96 305.05 L198.8 305.1 L199.22 305.6 L199.64 304.8 L200.06 305.61 L200.48 304.75 L201.32 304.99 L201.74 305.64 L202.58 305.12 L203 305.63" stroke="#1c6a84" stroke-width="1.5" fill="none" stroke-linejoin="round"/>
<path d="M24.5 368.32 L25.34 363.13 L25.76 361.6 L27.02 358.03 L27.86 356.68 L28.28 356.93 L29.12 356.12 L29.54 355.25 L30.38 355.32 L31.22 354.19 L32.06 354.49 L32.48 353.62 L32.9 353.36 L34.16 353.36 L34.58 352.45 L35 352.24 L36.26 351.96 L36.68 351.39 L37.1 351.34 L37.52 350.99 L37.94 351.56 L38.78 350.26 L39.2 350.91 L39.62 349.83 L40.04 349.9 L40.46 350.29 L42.14 348.64 L42.56 348.87 L42.98 348.13 L43.82 347.98 L44.24 347.41 L45.08 347.74 L45.92 347.02 L46.34 346.93 L47.18 346.01 L47.6 346.25 L48.02 345.84 L48.86 345.9 L49.28 345.2 L50.12 345.05 L50.96 344.02 L51.38 344.21 L51.8 343.98 L52.22 343.26 L53.06 340.75 L53.9 342.58 L55.16 343.75 L55.58 343.39 L56.42 344.28 L57.26 344.25 L57.68 343.91 L58.94 344.36 L59.36 344.16 L60.2 344.69 L60.62 343.95 L61.04 344.42 L61.46 344.54 L61.88 344.15 L62.3 344.24 L62.72 344.72 L63.14 343.78 L63.56 344.27 L63.98 343.88 L64.4 344.49 L64.82 344.64 L65.66 343.78 L66.08 344.24 L66.92 344.36 L67.34 344.15 L68.18 344.44 L69.02 343.99 L69.44 344.51 L69.86 343.76 L70.28 344.22 L70.7 343.91 L71.12 344.27 L71.54 343.61 L71.96 344.46 L72.8 343.5 L73.64 343.81 L74.06 343.41 L74.48 343.79 L74.9 343.78 L75.32 344.04 L75.74 343.68 L76.58 343.51 L77 344.01 L77.42 344.19 L78.26 343.44 L78.68 344 L79.1 343.57 L79.94 343.27 L80.36 343.9 L80.78 343.91 L81.62 343.54 L82.04 343.61 L82.46 343.25 L82.88 343.97 L83.3 343.34 L84.14 343.76 L84.56 343.74 L85.4 343.17 L85.82 343.4 L86.24 342.96 L86.66 343.64 L87.08 343.13 L87.5 343.6 L87.92 342.99 L89.18 343.03 L90.02 342.5 L90.44 343.14 L90.86 342.61 L92.12 342.3 L92.96 341.58 L93.8 339.28 L94.22 338.69 L94.64 338.6 L95.06 338.9 L95.48 340.83 L95.9 341.68 L96.32 342.04 L96.74 341.69 L97.16 342.55 L97.58 342.45 L98 341.89 L98.42 341.91 L98.84 342.84 L100.1 341.84 L100.94 341.76 L101.36 342.15 L102.2 341.1 L102.62 341.55 L103.04 341.05 L103.46 339.93 L103.88 339.99 L104.72 337.79 L105.56 334.01 L106.82 323.57 L107.24 322.69 L107.66 323.94 L108.92 334.12 L110.18 338.66 L111.02 340.53 L111.44 340.63 L111.86 341.45 L112.28 341.47 L112.7 342.09 L113.54 342.55 L113.96 343.03 L114.38 342.31 L114.8 343.27 L115.22 343 L116.48 343.62 L116.9 343.22 L117.32 343.33 L117.74 343.92 L118.16 343.09 L118.58 343.7 L119 343.75 L119.42 343.18 L119.84 343.8 L120.68 344.2 L121.1 343.64 L121.52 344.32 L121.94 343.88 L122.36 343.88 L122.78 344.33 L123.2 343.49 L123.62 344.2 L124.46 343.87 L124.88 344.42 L125.3 343.95 L126.56 344.42 L126.98 343.88 L128.66 344.57 L129.08 344.06 L129.5 344.61 L129.92 344.2 L130.34 344.32 L130.76 344.1 L131.6 344.83 L132.02 344.52 L132.44 344.67 L132.86 344.22 L133.7 344.21 L134.96 344.72 L135.38 343.99 L135.8 344.67 L136.22 344.84 L137.06 344.01 L137.48 344.26 L137.9 343.97 L138.32 344.15 L138.74 344.88 L139.16 344.56 L140.42 344.82 L140.84 344.5 L142.94 344.37 L143.36 343.84 L143.78 344.2 L144.2 343.89 L144.62 344.06 L145.04 343.23 L145.88 342.68 L146.3 343.06 L146.72 342.73 L149.24 337.63 L149.66 338.01 L151.76 342.81 L152.18 342.41 L152.6 343.29 L153.02 343.05 L153.44 343.36 L153.86 344.23 L154.28 344.14 L154.7 344.6 L155.54 343.87 L156.8 344.97 L157.22 345.05 L157.64 344.58 L158.48 344.27 L158.9 344.84 L159.32 344.43 L160.58 344.28 L161 344.97 L161.42 344.42 L161.84 345.28 L162.26 344.41 L162.68 345.2 L163.1 344.47 L163.52 344.36 L163.94 345.07 L164.36 344.6 L164.78 345.09 L165.2 344.55 L165.62 344.42 L166.04 345.14 L166.88 345.23 L167.3 345.1 L167.72 344.45 L168.14 344.99 L168.56 345.07 L168.98 344.82 L169.4 345.28 L169.82 344.59 L170.24 345.29 L170.66 345.03 L171.08 344.3 L171.5 344.28 L171.92 344.89 L172.34 345.02 L172.76 344.24 L173.6 344.75 L174.02 344.09 L174.44 344.67 L175.28 343.54 L176.12 343.68 L176.54 343.43 L176.96 343.66 L177.38 343.24 L177.8 344.06 L178.22 343.81 L178.64 344.26 L179.9 344.32 L180.74 344.96 L182.42 343.97 L182.84 344.78 L183.26 344.37 L183.68 344.29 L184.1 343.53 L184.94 343.6 L185.36 343.35 L186.2 343.24 L187.04 344.44 L187.46 344.15 L187.88 344.63 L188.3 344.68 L188.72 345.07 L189.14 345.05 L189.98 344.35 L192.08 345.37 L192.5 344.55 L192.92 345.35 L193.76 345.41 L194.6 344.83 L195.02 345.42 L195.86 345.27 L196.28 345.5 L197.12 344.69 L197.96 345.41 L198.38 344.82 L198.8 345.37 L199.22 345.56 L199.64 344.86 L200.06 345.24 L200.48 345.31 L201.32 344.85 L201.74 344.9 L202.16 345.4 L202.58 345.44 L203 345.12" stroke="#2f6d4b" stroke-width="1.5" fill="none" stroke-linejoin="round"/>
<path d="M24.5 405.57 L25.76 397.72 L27.44 393.83 L28.28 392.84 L28.7 392.02 L29.54 391.32 L29.96 391.53 L30.38 390.91 L30.8 390.84 L31.64 390.28 L32.48 389.31 L32.9 390.02 L33.74 388.64 L34.16 388.93 L34.58 388.85 L35 387.98 L35.42 388.18 L35.84 387.69 L36.26 387.63 L36.68 386.89 L37.1 386.67 L37.52 387.39 L39.2 385.71 L39.62 385.99 L40.04 385.39 L40.46 385.68 L40.88 385.26 L41.72 384.97 L42.14 384.02 L42.56 383.56 L42.98 383.49 L44.24 382.6 L45.08 382.92 L45.5 382.26 L45.92 382.49 L46.34 382.2 L46.76 381.09 L47.18 381.35 L48.02 380.31 L48.44 380.84 L48.86 379.82 L50.12 379.29 L51.38 376.17 L52.22 370.28 L53.06 350.95 L53.9 369.47 L54.74 377.22 L55.58 379.47 L56 379.31 L56.42 380.51 L57.26 380.97 L57.68 381.51 L58.1 380.74 L58.52 380.96 L58.94 381.67 L59.36 381.93 L60.2 381.4 L61.04 381.93 L61.46 381.3 L61.88 381.53 L62.72 381.36 L63.14 381.72 L63.56 381.41 L64.4 381.38 L64.82 381.91 L65.24 381.24 L65.66 381.94 L66.08 381.41 L66.5 381.25 L66.92 382.13 L67.34 381.41 L67.76 382.12 L68.6 382.05 L69.02 381.29 L69.44 381.58 L69.86 381.22 L70.28 382.04 L71.96 381.4 L72.38 381.86 L72.8 381.5 L73.22 381.64 L73.64 381.14 L74.06 381.2 L74.48 381.02 L74.9 381.66 L75.74 381.06 L76.16 381.77 L76.58 381.15 L77 381.27 L77.42 381 L77.84 381.1 L78.26 381.65 L78.68 381.12 L79.1 380.94 L79.52 381.24 L79.94 381.05 L80.36 381.62 L80.78 380.81 L81.2 381.66 L81.62 380.71 L82.04 381.53 L82.88 380.81 L83.3 381.05 L84.56 380.7 L84.98 380.84 L85.4 381.43 L86.24 381.3 L86.66 380.43 L87.08 380.57 L87.5 381.12 L87.92 380.21 L88.34 380.77 L88.76 380.19 L89.18 380.66 L89.6 379.32 L90.02 379.43 L90.86 375.7 L91.28 375.5 L91.7 377.99 L92.12 378.81 L92.96 379.24 L93.38 379.38 L93.8 377.8 L94.22 376.82 L94.64 376.42 L95.48 379.46 L95.9 379.91 L96.32 379.66 L97.16 379.77 L97.58 380.33 L98.84 379.9 L99.26 380.26 L100.1 380.34 L101.36 379.25 L101.78 379.75 L102.2 379.21 L102.62 379.25 L103.04 378.24 L103.46 378.54 L103.88 377.46 L104.3 377.15 L104.72 376.06 L105.98 369.37 L106.82 362.05 L107.24 359.87 L107.66 361.39 L108.5 368.91 L109.76 375.96 L110.18 376.52 L110.6 377.87 L111.44 378.98 L111.86 378.97 L112.28 379.86 L113.12 380.46 L113.54 380.08 L113.96 380.62 L114.38 380.41 L114.8 380.89 L115.22 380.29 L115.64 381.19 L116.06 381.34 L116.48 380.95 L117.74 381.16 L118.16 380.69 L118.58 381.69 L119 380.98 L119.84 380.94 L120.26 381.12 L120.68 381.72 L121.1 380.97 L121.52 381.07 L121.94 381.7 L122.36 381.23 L122.78 381.08 L123.2 381.68 L124.04 381.66 L124.46 381.86 L124.88 381.28 L125.3 382.07 L125.72 381.94 L126.14 381.29 L126.56 381.39 L126.98 381.78 L127.4 381.81 L128.24 381.46 L128.66 381.76 L129.08 381.51 L129.92 382.26 L130.34 381.56 L131.18 382.18 L131.6 381.61 L132.02 382.28 L132.44 382.4 L132.86 381.85 L133.28 381.88 L133.7 382.29 L134.54 381.81 L134.96 382.31 L136.22 381.22 L137.06 381.03 L137.48 381.72 L138.32 382.1 L139.16 382.24 L139.58 381.49 L140.42 382.43 L140.84 382.41 L141.26 381.71 L142.1 382.06 L142.52 381.76 L142.94 381.88 L143.36 381.36 L143.78 381.65 L144.2 381.64 L144.62 381.04 L145.04 381 L145.46 381.64 L146.3 381.02 L147.56 379.08 L147.98 378.04 L148.4 375.99 L149.24 374.74 L150.08 376.26 L150.92 379.17 L151.34 379.69 L152.6 380.95 L153.02 381.73 L153.44 381.27 L154.28 381.93 L154.7 381.5 L155.54 382.5 L156.38 381.92 L157.22 382.27 L157.64 381.91 L158.48 381.95 L159.32 382.27 L160.58 382 L161.42 382.77 L161.84 382.55 L162.68 382.61 L163.1 382.17 L163.52 382.69 L163.94 382.44 L164.78 382.61 L166.46 382.23 L166.88 382.52 L167.3 382.39 L167.72 382.6 L168.14 382.02 L168.98 382.87 L169.4 382.24 L169.82 382.55 L170.66 382.27 L171.08 382.96 L171.5 382.25 L171.92 382.7 L172.34 382.06 L172.76 381.94 L173.18 382.7 L174.02 381.75 L174.44 381.97 L175.28 381.99 L175.7 381.13 L176.12 381.01 L176.54 381.58 L177.38 380.93 L178.64 382.09 L179.48 382.49 L179.9 382.53 L180.32 382.27 L180.74 382.51 L181.58 382.53 L182 382.22 L182.42 382.48 L182.84 382.33 L183.26 382.43 L183.68 381.49 L184.1 382.03 L184.52 380.94 L184.94 381.49 L185.36 381.23 L185.78 381.24 L186.2 381.92 L187.04 381.84 L187.88 382.59 L188.72 382.27 L189.56 382.45 L189.98 382.75 L190.4 382.35 L191.24 382.65 L192.08 382.45 L192.5 382.93 L192.92 383 L194.18 382.36 L194.6 382.49 L195.02 382.34 L195.44 382.77 L195.86 382.79 L196.28 382.3 L196.7 383.13 L197.12 382.54 L197.54 383.07 L198.38 383.19 L198.8 382.44 L199.64 383.15 L200.06 382.26 L200.48 382.3 L200.9 382.82 L201.32 382.75 L201.74 383.18 L202.58 382.8 L203 383.26" stroke="#2f6f48" stroke-width="1.5" fill="none" stroke-linejoin="round"/>
<path d="M24.5 457.5 L25.34 449.02 L26.18 443.83 L27.02 440.95 L27.44 440.54 L28.7 437.59 L30.38 436.23 L31.22 435.86 L31.64 435.02 L32.06 434.62 L32.9 434.48 L33.32 433.48 L34.16 433.27 L34.58 432.28 L35 432.09 L35.42 432.41 L36.68 430.53 L37.1 430.97 L37.52 430.43 L38.36 430.05 L39.62 428.2 L40.46 427.88 L41.72 426.53 L42.14 426.63 L42.98 425.67 L43.4 425.97 L44.24 424.32 L45.08 424.37 L45.5 423.53 L45.92 423.56 L46.34 422.51 L47.18 422.62 L48.02 421.67 L48.44 420.79 L49.28 420.26 L49.7 419.47 L50.12 419.26 L50.96 417.96 L51.8 413.59 L52.22 408.31 L53.06 383.1 L53.9 407.68 L54.32 412.88 L54.74 415.68 L55.16 417.34 L56 418.76 L56.42 418.42 L56.84 418.67 L57.26 419.66 L57.68 419.39 L58.1 419.92 L58.94 419.56 L59.36 419.73 L59.78 419.61 L60.2 420.46 L61.04 419.96 L61.88 420.03 L62.3 419.71 L62.72 420.55 L63.14 420.25 L63.56 420.63 L63.98 420.11 L64.4 420.28 L65.24 419.7 L65.66 420.58 L66.08 420.5 L66.5 419.95 L66.92 420.53 L67.34 420.43 L67.76 419.91 L68.6 420.55 L69.02 420.07 L69.44 420.52 L69.86 419.8 L70.7 420.25 L71.12 419.74 L71.54 419.81 L71.96 420.36 L72.38 419.96 L72.8 420.25 L73.22 419.69 L73.64 419.6 L74.06 419.77 L74.48 419.59 L74.9 420.36 L75.32 419.66 L75.74 419.92 L76.16 419.45 L76.58 419.86 L77.42 419.69 L77.84 419.34 L78.26 419.38 L78.68 420.07 L79.1 419.57 L80.78 419.39 L81.2 419.17 L81.62 419.78 L82.46 419.24 L82.88 419.77 L83.3 419.14 L83.72 419.29 L84.14 419.84 L84.56 419.11 L85.4 419.77 L85.82 419.71 L86.24 419.04 L87.08 419.52 L87.5 419.13 L87.92 419.64 L88.34 418.8 L88.76 419.42 L89.6 418.21 L90.02 417.9 L90.44 416.68 L91.28 415.68 L91.7 417.31 L92.12 417.79 L93.38 418.06 L93.8 417.14 L94.22 417.11 L94.64 416.4 L95.48 418.25 L95.9 418.35 L96.32 419.06 L96.74 418.8 L97.16 419.15 L97.58 419.11 L98 418.89 L98.42 418.99 L98.84 418.7 L99.26 418.8 L99.68 419.47 L100.1 418.94 L100.52 419.27 L100.94 418.71 L101.36 419.14 L101.78 418.91 L102.2 419.01 L103.04 418.46 L103.46 418.61 L104.3 418.12 L104.72 418.45 L105.14 417.64 L105.98 416.89 L106.82 414.49 L107.24 413.88 L107.66 413.76 L108.92 417.6 L109.34 418.17 L109.76 418.26 L111.02 419.26 L111.44 418.93 L111.86 419.62 L112.28 419.21 L112.7 419.55 L113.12 419.16 L113.54 419.15 L113.96 419.99 L114.8 419.87 L115.22 419.23 L117.32 419.72 L117.74 419.4 L118.58 420.05 L119 419.61 L119.42 420.3 L119.84 420.05 L120.26 420.22 L120.68 419.78 L121.52 420.25 L122.36 419.61 L122.78 420.46 L123.2 420.43 L124.04 419.73 L124.46 420.56 L125.3 419.79 L125.72 420.01 L126.14 419.89 L126.56 420.59 L126.98 420.03 L127.4 420.75 L127.82 420.6 L128.24 419.95 L128.66 420.58 L129.08 420.29 L129.92 420.76 L130.34 420.22 L130.76 420.05 L131.18 420.92 L131.6 420.41 L132.02 420.93 L132.44 420.7 L133.28 420.87 L134.12 420.51 L134.54 420.12 L134.96 420.78 L135.38 420.52 L135.8 420.61 L136.22 421.04 L136.64 420.24 L137.06 420.89 L137.48 420.17 L137.9 420.84 L138.32 420.95 L138.74 420.41 L139.58 421.12 L141.26 420.21 L142.1 420.55 L143.36 420.23 L143.78 420.77 L144.2 420.7 L144.62 420.23 L145.04 420.17 L145.46 420.37 L145.88 420.21 L146.3 420.56 L146.72 419.8 L147.14 419.51 L147.56 419.77 L147.98 418.61 L148.4 418.56 L148.82 417.91 L149.24 418.22 L149.66 418.14 L150.08 418.78 L150.5 418.67 L150.92 419.59 L151.76 419.97 L152.6 420.67 L153.02 420.07 L153.86 420.46 L154.7 420.26 L155.12 420.52 L155.54 420.47 L155.96 421 L156.8 420.45 L157.64 420.84 L159.32 420.43 L159.74 421.42 L160.16 421.18 L160.58 420.52 L161 421.16 L161.42 421.43 L162.26 420.57 L162.68 420.96 L163.52 420.67 L163.94 421.03 L164.36 420.5 L164.78 421.41 L165.2 421.14 L165.62 421.13 L166.04 421.44 L166.88 420.76 L168.14 420.54 L168.56 421.29 L168.98 421.36 L169.4 420.82 L169.82 420.71 L170.24 421.17 L171.08 421.46 L171.5 420.7 L171.92 421.32 L172.76 421.28 L173.6 420.73 L174.02 421.37 L174.44 420.86 L175.28 421.09 L175.7 420.91 L176.12 421.37 L176.54 420.78 L176.96 420.58 L177.38 421.11 L179.48 421.46 L179.9 421 L180.32 420.99 L180.74 420.64 L181.58 421.02 L182 420.48 L182.42 421.05 L182.84 420.46 L183.68 421.08 L184.1 420.06 L184.52 419.85 L184.94 420.11 L185.36 419.81 L185.78 420.4 L186.2 419.82 L186.62 420.82 L187.04 420.98 L187.46 421.02 L188.3 420.67 L188.72 421.09 L189.98 420.86 L191.66 421.48 L192.08 420.75 L193.34 421.17 L194.6 420.71 L195.44 421.1 L195.86 421.61 L197.54 421.61 L197.96 421.27 L198.38 421.47 L198.8 420.72 L199.22 421.34 L200.06 420.97 L200.9 421.63 L201.32 421.16 L201.74 421.32 L202.16 420.98 L202.58 421.03 L203 421.57" stroke="#93c2a4" stroke-width="1.5" fill="none" stroke-linejoin="round"/>
<path d="M24.5 519.1 L25.47 517.51 L26.6 516.28 L27.99 515.36 L29.67 514.72 L34.37 513.92 L50.88 512.4 L52.14 511.97 L52.64 511.02 L52.85 507.67 L52.98 492.78 L53.27 384.3 L53.61 499.57 L53.77 509.27 L53.94 510.43 L54.36 511.14 L55.92 511.52 L61.92 511.59 L88.17 511.58 L89.81 511.5 L90.44 511.21 L90.65 510.5 L90.78 506.77 L91.07 465.59 L91.32 503.38 L91.57 510.97 L91.95 511.39 L92.88 511.52 L93.8 511.44 L94.05 511.02 L94.43 496.56 L94.85 511.11 L95.27 506.52 L95.52 510.65 L95.77 511.49 L104.76 511.54 L105.94 511.4 L106.48 511.04 L106.78 509.7 L106.9 504.36 L107.24 434.6 L107.58 504.36 L107.74 510.2 L108.16 511.22 L108.84 511.47 L110.31 511.56 L114.72 511.57 L115.6 511.39 L115.81 509.45 L116.06 499.59 L116.35 510.34 L116.44 511.16 L116.65 511.48 L136.51 511.48 L136.68 511.22 L136.81 509.73 L137.06 501.1 L137.31 509.73 L137.52 511.42 L139.2 511.59 L148.36 511.5 L148.61 511.29 L148.74 510.32 L149.03 499.57 L149.32 510.29 L149.45 511.24 L149.74 511.35 L149.91 511 L150.04 508.88 L150.29 496.57 L150.58 510.01 L150.71 511.23 L151 511.49 L155.54 511.58 L156.59 511.38 L157.01 502.6 L157.3 510.65 L157.43 511.38 L157.68 511.53 L175.15 511.56 L175.49 511.23 L175.91 509.08 L176.29 511.05 L176.5 511.26 L176.96 509.08 L177.34 511.09 L177.63 511.54 L185.11 511.54 L185.32 511.4 L185.44 510.86 L185.78 506.1 L186.12 510.86 L186.41 511.53 L190.61 511.53 L190.86 511.1 L191.24 509.1 L191.62 511.1 L191.95 511.56 L203 511.6" stroke="#ef7c5e" stroke-width="0.95" fill="none" stroke-linejoin="round"/>
<text x="197.5" y="221" font-size="12" text-anchor="end" fill="#1a1a1a">MA-16h</text>
<text x="197.5" y="259.5" font-size="12" text-anchor="end" fill="#1a1a1a">MA-8h</text>
<text x="197.5" y="296.4" font-size="12" text-anchor="end" fill="#1a1a1a">MA-4h</text>
<text x="197.5" y="333.8" font-size="12" text-anchor="end" fill="#1a1a1a">MA-2h</text>
<text x="197.5" y="372.5" font-size="12" text-anchor="end" fill="#1a1a1a">MA-1h</text>
<text x="197.5" y="409.4" font-size="12" text-anchor="end" fill="#1a1a1a">MA-0.5h</text>
<text x="196.5" y="488.5" font-size="12" text-anchor="end" fill="#1a1a1a">NCM811</text>
<rect x="24.5" y="183.5" width="179" height="337" fill="none" stroke="#555" stroke-width="1"/>
<line x1="35" y1="520.5" x2="35" y2="522.1" stroke="#555" stroke-width="1"/>
<line x1="56" y1="520.5" x2="56" y2="523.5" stroke="#555" stroke-width="1"/>
<line x1="77" y1="520.5" x2="77" y2="522.1" stroke="#555" stroke-width="1"/>
<line x1="98" y1="520.5" x2="98" y2="523.5" stroke="#555" stroke-width="1"/>
<line x1="119" y1="520.5" x2="119" y2="522.1" stroke="#555" stroke-width="1"/>
<line x1="140" y1="520.5" x2="140" y2="523.5" stroke="#555" stroke-width="1"/>
<line x1="161" y1="520.5" x2="161" y2="522.1" stroke="#555" stroke-width="1"/>
<line x1="182" y1="520.5" x2="182" y2="523.5" stroke="#555" stroke-width="1"/>
<line x1="203" y1="520.5" x2="203" y2="522.1" stroke="#555" stroke-width="1"/>
<text x="56" y="534.8" font-size="11.6" text-anchor="middle" fill="#1a1a1a">20</text>
<text x="98" y="534.8" font-size="11.6" text-anchor="middle" fill="#1a1a1a">40</text>
<text x="140" y="534.8" font-size="11.6" text-anchor="middle" fill="#1a1a1a">60</text>
<text x="182" y="534.8" font-size="11.6" text-anchor="middle" fill="#1a1a1a">80</text>
<text x="113.5" y="553.4" font-size="13" text-anchor="middle" fill="#1a1a1a">2 Theta (°)</text>
<text x="14.2" y="350" font-size="12.3" text-anchor="middle" fill="#1a1a1a" transform="rotate(-90 14.2 350)">Intensity (arb.u.)</text>
<text x="222.5" y="182.3" font-size="13" text-anchor="start" fill="#111">c</text>
<path d="M311.6 250.1 L366 250.1 L351 259.7 L305 259.7 Z" stroke="none" stroke-width="1" fill="#e4e4e4"/>
<line x1="309.3" y1="237.9" x2="316.3" y2="243.5" stroke="#b9b9b9" stroke-width="0.5"/>
<line x1="316.3" y1="237.9" x2="323.3" y2="243.5" stroke="#b9b9b9" stroke-width="0.5"/>
<line x1="323.3" y1="237.9" x2="316.3" y2="243.5" stroke="#b9b9b9" stroke-width="0.5"/>
<line x1="323.3" y1="237.9" x2="330.3" y2="243.5" stroke="#b9b9b9" stroke-width="0.5"/>
<line x1="330.3" y1="237.9" x2="323.3" y2="243.5" stroke="#b9b9b9" stroke-width="0.5"/>
<line x1="330.3" y1="237.9" x2="337.3" y2="243.5" stroke="#b9b9b9" stroke-width="0.5"/>
<line x1="337.3" y1="237.9" x2="330.3" y2="243.5" stroke="#b9b9b9" stroke-width="0.5"/>
<line x1="337.3" y1="237.9" x2="344.3" y2="243.5" stroke="#b9b9b9" stroke-width="0.5"/>
<line x1="344.3" y1="237.9" x2="337.3" y2="243.5" stroke="#b9b9b9" stroke-width="0.5"/>
<line x1="344.3" y1="237.9" x2="351.3" y2="243.5" stroke="#b9b9b9" stroke-width="0.5"/>
<line x1="351.3" y1="237.9" x2="344.3" y2="243.5" stroke="#b9b9b9" stroke-width="0.5"/>
<line x1="351.3" y1="237.9" x2="358.3" y2="243.5" stroke="#b9b9b9" stroke-width="0.5"/>
<line x1="358.3" y1="237.9" x2="351.3" y2="243.5" stroke="#b9b9b9" stroke-width="0.5"/>
<line x1="365.3" y1="237.9" x2="358.3" y2="243.5" stroke="#b9b9b9" stroke-width="0.5"/>
<line x1="316.3" y1="243.5" x2="309.3" y2="248.4" stroke="#b9b9b9" stroke-width="0.5"/>
<line x1="316.3" y1="243.5" x2="323.3" y2="248.4" stroke="#b9b9b9" stroke-width="0.5"/>
<line x1="323.3" y1="243.5" x2="316.3" y2="248.4" stroke="#b9b9b9" stroke-width="0.5"/>
<line x1="323.3" y1="243.5" x2="330.3" y2="248.4" stroke="#b9b9b9" stroke-width="0.5"/>
<line x1="330.3" y1="243.5" x2="323.3" y2="248.4" stroke="#b9b9b9" stroke-width="0.5"/>
<line x1="330.3" y1="243.5" x2="337.3" y2="248.4" stroke="#b9b9b9" stroke-width="0.5"/>
<line x1="337.3" y1="243.5" x2="330.3" y2="248.4" stroke="#b9b9b9" stroke-width="0.5"/>
<line x1="337.3" y1="243.5" x2="344.3" y2="248.4" stroke="#b9b9b9" stroke-width="0.5"/>
<line x1="344.3" y1="243.5" x2="337.3" y2="248.4" stroke="#b9b9b9" stroke-width="0.5"/>
<line x1="344.3" y1="243.5" x2="351.3" y2="248.4" stroke="#b9b9b9" stroke-width="0.5"/>
<line x1="351.3" y1="243.5" x2="344.3" y2="248.4" stroke="#b9b9b9" stroke-width="0.5"/>
<line x1="351.3" y1="243.5" x2="358.3" y2="248.4" stroke="#b9b9b9" stroke-width="0.5"/>
<line x1="358.3" y1="243.5" x2="351.3" y2="248.4" stroke="#b9b9b9" stroke-width="0.5"/>
<line x1="358.3" y1="243.5" x2="365.3" y2="248.4" stroke="#b9b9b9" stroke-width="0.5"/>
<line x1="316.3" y1="248.4" x2="323.3" y2="255" stroke="#b9b9b9" stroke-width="0.5"/>
<line x1="323.3" y1="248.4" x2="330.3" y2="255" stroke="#b9b9b9" stroke-width="0.5"/>
<line x1="330.3" y1="248.4" x2="323.3" y2="255" stroke="#b9b9b9" stroke-width="0.5"/>
<line x1="330.3" y1="248.4" x2="337.3" y2="255" stroke="#b9b9b9" stroke-width="0.5"/>
<line x1="337.3" y1="248.4" x2="330.3" y2="255" stroke="#b9b9b9" stroke-width="0.5"/>
<line x1="337.3" y1="248.4" x2="344.3" y2="255" stroke="#b9b9b9" stroke-width="0.5"/>
<line x1="344.3" y1="248.4" x2="337.3" y2="255" stroke="#b9b9b9" stroke-width="0.5"/>
<line x1="351.3" y1="248.4" x2="344.3" y2="255" stroke="#b9b9b9" stroke-width="0.5"/>
<line x1="323.3" y1="255" x2="316.3" y2="261.3" stroke="#b9b9b9" stroke-width="0.5"/>
<line x1="323.3" y1="255" x2="330.3" y2="261.3" stroke="#b9b9b9" stroke-width="0.5"/>
<line x1="330.3" y1="255" x2="323.3" y2="261.3" stroke="#b9b9b9" stroke-width="0.5"/>
<line x1="330.3" y1="255" x2="337.3" y2="261.3" stroke="#b9b9b9" stroke-width="0.5"/>
<line x1="337.3" y1="255" x2="330.3" y2="261.3" stroke="#b9b9b9" stroke-width="0.5"/>
<line x1="337.3" y1="255" x2="344.3" y2="261.3" stroke="#b9b9b9" stroke-width="0.5"/>
<line x1="344.3" y1="255" x2="337.3" y2="261.3" stroke="#b9b9b9" stroke-width="0.5"/>
<line x1="344.3" y1="255" x2="351.3" y2="261.3" stroke="#b9b9b9" stroke-width="0.5"/>
<line x1="323.3" y1="261.3" x2="330.3" y2="266.3" stroke="#b9b9b9" stroke-width="0.5"/>
<line x1="330.3" y1="261.3" x2="337.3" y2="266.3" stroke="#b9b9b9" stroke-width="0.5"/>
<line x1="337.3" y1="261.3" x2="330.3" y2="266.3" stroke="#b9b9b9" stroke-width="0.5"/>
<line x1="337.3" y1="261.3" x2="344.3" y2="266.3" stroke="#b9b9b9" stroke-width="0.5"/>
<line x1="344.3" y1="261.3" x2="337.3" y2="266.3" stroke="#b9b9b9" stroke-width="0.5"/>
<line x1="344.3" y1="261.3" x2="351.3" y2="266.3" stroke="#b9b9b9" stroke-width="0.5"/>
<line x1="351.3" y1="261.3" x2="344.3" y2="266.3" stroke="#b9b9b9" stroke-width="0.5"/>
<line x1="358.3" y1="261.3" x2="351.3" y2="266.3" stroke="#b9b9b9" stroke-width="0.5"/>
<line x1="330.3" y1="266.3" x2="323.3" y2="271.5" stroke="#b9b9b9" stroke-width="0.5"/>
<line x1="330.3" y1="266.3" x2="337.3" y2="271.5" stroke="#b9b9b9" stroke-width="0.5"/>
<line x1="337.3" y1="266.3" x2="330.3" y2="271.5" stroke="#b9b9b9" stroke-width="0.5"/>
<line x1="337.3" y1="266.3" x2="344.3" y2="271.5" stroke="#b9b9b9" stroke-width="0.5"/>
<line x1="344.3" y1="266.3" x2="337.3" y2="271.5" stroke="#b9b9b9" stroke-width="0.5"/>
<line x1="344.3" y1="266.3" x2="351.3" y2="271.5" stroke="#b9b9b9" stroke-width="0.5"/>
<line x1="351.3" y1="266.3" x2="344.3" y2="271.5" stroke="#b9b9b9" stroke-width="0.5"/>
<line x1="351.3" y1="266.3" x2="358.3" y2="271.5" stroke="#b9b9b9" stroke-width="0.5"/>
<line x1="309.3" y1="271.5" x2="316.3" y2="277.7" stroke="#b9b9b9" stroke-width="0.5"/>
<line x1="316.3" y1="271.5" x2="323.3" y2="277.7" stroke="#b9b9b9" stroke-width="0.5"/>
<line x1="323.3" y1="271.5" x2="316.3" y2="277.7" stroke="#b9b9b9" stroke-width="0.5"/>
<line x1="323.3" y1="271.5" x2="330.3" y2="277.7" stroke="#b9b9b9" stroke-width="0.5"/>
<line x1="330.3" y1="271.5" x2="323.3" y2="277.7" stroke="#b9b9b9" stroke-width="0.5"/>
<line x1="330.3" y1="271.5" x2="337.3" y2="277.7" stroke="#b9b9b9" stroke-width="0.5"/>
<line x1="337.3" y1="271.5" x2="330.3" y2="277.7" stroke="#b9b9b9" stroke-width="0.5"/>
<line x1="337.3" y1="271.5" x2="344.3" y2="277.7" stroke="#b9b9b9" stroke-width="0.5"/>
<line x1="344.3" y1="271.5" x2="337.3" y2="277.7" stroke="#b9b9b9" stroke-width="0.5"/>
<line x1="344.3" y1="271.5" x2="351.3" y2="277.7" stroke="#b9b9b9" stroke-width="0.5"/>
<line x1="351.3" y1="271.5" x2="344.3" y2="277.7" stroke="#b9b9b9" stroke-width="0.5"/>
<line x1="351.3" y1="271.5" x2="358.3" y2="277.7" stroke="#b9b9b9" stroke-width="0.5"/>
<line x1="358.3" y1="271.5" x2="351.3" y2="277.7" stroke="#b9b9b9" stroke-width="0.5"/>
<line x1="365.3" y1="271.5" x2="358.3" y2="277.7" stroke="#b9b9b9" stroke-width="0.5"/>
<line x1="316.3" y1="277.7" x2="309.3" y2="284.7" stroke="#b9b9b9" stroke-width="0.5"/>
<line x1="316.3" y1="277.7" x2="323.3" y2="284.7" stroke="#b9b9b9" stroke-width="0.5"/>
<line x1="323.3" y1="277.7" x2="316.3" y2="284.7" stroke="#b9b9b9" stroke-width="0.5"/>
<line x1="323.3" y1="277.7" x2="330.3" y2="284.7" stroke="#b9b9b9" stroke-width="0.5"/>
<line x1="330.3" y1="277.7" x2="323.3" y2="284.7" stroke="#b9b9b9" stroke-width="0.5"/>
<line x1="330.3" y1="277.7" x2="337.3" y2="284.7" stroke="#b9b9b9" stroke-width="0.5"/>
<line x1="337.3" y1="277.7" x2="330.3" y2="284.7" stroke="#b9b9b9" stroke-width="0.5"/>
<line x1="337.3" y1="277.7" x2="344.3" y2="284.7" stroke="#b9b9b9" stroke-width="0.5"/>
<line x1="344.3" y1="277.7" x2="337.3" y2="284.7" stroke="#b9b9b9" stroke-width="0.5"/>
<line x1="344.3" y1="277.7" x2="351.3" y2="284.7" stroke="#b9b9b9" stroke-width="0.5"/>
<line x1="351.3" y1="277.7" x2="344.3" y2="284.7" stroke="#b9b9b9" stroke-width="0.5"/>
<line x1="351.3" y1="277.7" x2="358.3" y2="284.7" stroke="#b9b9b9" stroke-width="0.5"/>
<line x1="358.3" y1="277.7" x2="351.3" y2="284.7" stroke="#b9b9b9" stroke-width="0.5"/>
<line x1="358.3" y1="277.7" x2="365.3" y2="284.7" stroke="#b9b9b9" stroke-width="0.5"/>
<circle cx="309.3" cy="237.9" r="1.35" fill="#f4f4f4" stroke="#8a8a8a" stroke-width="0.7"/>
<circle cx="316.3" cy="237.9" r="1.35" fill="#f4f4f4" stroke="#8a8a8a" stroke-width="0.7"/>
<circle cx="323.3" cy="237.9" r="1.35" fill="#f4f4f4" stroke="#8a8a8a" stroke-width="0.7"/>
<circle cx="330.3" cy="237.9" r="1.35" fill="#f4f4f4" stroke="#8a8a8a" stroke-width="0.7"/>
<circle cx="337.3" cy="237.9" r="1.35" fill="#f4f4f4" stroke="#8a8a8a" stroke-width="0.7"/>
<circle cx="344.3" cy="237.9" r="1.35" fill="#f4f4f4" stroke="#8a8a8a" stroke-width="0.7"/>
<circle cx="351.3" cy="237.9" r="1.35" fill="#f4f4f4" stroke="#8a8a8a" stroke-width="0.7"/>
<circle cx="358.3" cy="237.9" r="1.35" fill="#f4f4f4" stroke="#8a8a8a" stroke-width="0.7"/>
<circle cx="365.3" cy="237.9" r="1.35" fill="#f4f4f4" stroke="#8a8a8a" stroke-width="0.7"/>
<circle cx="316.3" cy="243.5" r="2.7" fill="url(#gTM)" stroke="none" stroke-width="1"/>
<circle cx="323.3" cy="243.5" r="2.7" fill="url(#gTM)" stroke="none" stroke-width="1"/>
<circle cx="330.3" cy="243.5" r="2.7" fill="url(#gTM)" stroke="none" stroke-width="1"/>
<circle cx="337.3" cy="243.5" r="2.7" fill="url(#gTM)" stroke="none" stroke-width="1"/>
<circle cx="344.3" cy="243.5" r="2.7" fill="url(#gTM)" stroke="none" stroke-width="1"/>
<circle cx="351.3" cy="243.5" r="2.7" fill="url(#gTM)" stroke="none" stroke-width="1"/>
<circle cx="358.3" cy="243.5" r="2.7" fill="url(#gTM)" stroke="none" stroke-width="1"/>
<circle cx="309.3" cy="248.4" r="1.35" fill="#f4f4f4" stroke="#8a8a8a" stroke-width="0.7"/>
<circle cx="316.3" cy="248.4" r="1.35" fill="#f4f4f4" stroke="#8a8a8a" stroke-width="0.7"/>
<circle cx="323.3" cy="248.4" r="1.35" fill="#f4f4f4" stroke="#8a8a8a" stroke-width="0.7"/>
<circle cx="330.3" cy="248.4" r="1.35" fill="#f4f4f4" stroke="#8a8a8a" stroke-width="0.7"/>
<circle cx="337.3" cy="248.4" r="1.35" fill="#f4f4f4" stroke="#8a8a8a" stroke-width="0.7"/>
<circle cx="344.3" cy="248.4" r="1.35" fill="#f4f4f4" stroke="#8a8a8a" stroke-width="0.7"/>
<circle cx="351.3" cy="248.4" r="1.35" fill="#f4f4f4" stroke="#8a8a8a" stroke-width="0.7"/>
<circle cx="358.3" cy="248.4" r="1.35" fill="#f4f4f4" stroke="#8a8a8a" stroke-width="0.7"/>
<circle cx="365.3" cy="248.4" r="1.35" fill="#f4f4f4" stroke="#8a8a8a" stroke-width="0.7"/>
<circle cx="323.3" cy="255" r="3.2" fill="url(#gLi)" stroke="none" stroke-width="1"/>
<circle cx="330.3" cy="255" r="3.2" fill="url(#gLi)" stroke="none" stroke-width="1"/>
<circle cx="337.3" cy="255" r="3.2" fill="url(#gLi)" stroke="none" stroke-width="1"/>
<circle cx="344.3" cy="255" r="3.2" fill="url(#gLi)" stroke="none" stroke-width="1"/>
<circle cx="316.3" cy="261.3" r="1.35" fill="#f4f4f4" stroke="#8a8a8a" stroke-width="0.7"/>
<circle cx="323.3" cy="261.3" r="1.35" fill="#f4f4f4" stroke="#8a8a8a" stroke-width="0.7"/>
<circle cx="330.3" cy="261.3" r="1.35" fill="#f4f4f4" stroke="#8a8a8a" stroke-width="0.7"/>
<circle cx="337.3" cy="261.3" r="1.35" fill="#f4f4f4" stroke="#8a8a8a" stroke-width="0.7"/>
<circle cx="344.3" cy="261.3" r="1.35" fill="#f4f4f4" stroke="#8a8a8a" stroke-width="0.7"/>
<circle cx="351.3" cy="261.3" r="1.35" fill="#f4f4f4" stroke="#8a8a8a" stroke-width="0.7"/>
<circle cx="358.3" cy="261.3" r="1.35" fill="#f4f4f4" stroke="#8a8a8a" stroke-width="0.7"/>
<circle cx="330.3" cy="266.3" r="2.7" fill="url(#gTM)" stroke="none" stroke-width="1"/>
<circle cx="337.3" cy="266.3" r="2.7" fill="url(#gTM)" stroke="none" stroke-width="1"/>
<circle cx="344.3" cy="266.3" r="2.7" fill="url(#gTM)" stroke="none" stroke-width="1"/>
<circle cx="351.3" cy="266.3" r="2.7" fill="url(#gTM)" stroke="none" stroke-width="1"/>
<circle cx="309.3" cy="271.5" r="1.35" fill="#f4f4f4" stroke="#8a8a8a" stroke-width="0.7"/>
<circle cx="316.3" cy="271.5" r="1.35" fill="#f4f4f4" stroke="#8a8a8a" stroke-width="0.7"/>
<circle cx="323.3" cy="271.5" r="1.35" fill="#f4f4f4" stroke="#8a8a8a" stroke-width="0.7"/>
<circle cx="330.3" cy="271.5" r="1.35" fill="#f4f4f4" stroke="#8a8a8a" stroke-width="0.7"/>
<circle cx="337.3" cy="271.5" r="1.35" fill="#f4f4f4" stroke="#8a8a8a" stroke-width="0.7"/>
<circle cx="344.3" cy="271.5" r="1.35" fill="#f4f4f4" stroke="#8a8a8a" stroke-width="0.7"/>
<circle cx="351.3" cy="271.5" r="1.35" fill="#f4f4f4" stroke="#8a8a8a" stroke-width="0.7"/>
<circle cx="358.3" cy="271.5" r="1.35" fill="#f4f4f4" stroke="#8a8a8a" stroke-width="0.7"/>
<circle cx="365.3" cy="271.5" r="1.35" fill="#f4f4f4" stroke="#8a8a8a" stroke-width="0.7"/>
<circle cx="316.3" cy="277.7" r="3.2" fill="url(#gLi)" stroke="none" stroke-width="1"/>
<circle cx="323.3" cy="277.7" r="3.2" fill="url(#gLi)" stroke="none" stroke-width="1"/>
<circle cx="330.3" cy="277.7" r="3.2" fill="url(#gLi)" stroke="none" stroke-width="1"/>
<circle cx="337.3" cy="277.7" r="3.2" fill="url(#gLi)" stroke="none" stroke-width="1"/>
<circle cx="344.3" cy="277.7" r="3.2" fill="url(#gLi)" stroke="none" stroke-width="1"/>
<circle cx="351.3" cy="277.7" r="3.2" fill="url(#gLi)" stroke="none" stroke-width="1"/>
<circle cx="358.3" cy="277.7" r="3.2" fill="url(#gLi)" stroke="none" stroke-width="1"/>
<circle cx="309.3" cy="284.7" r="1.35" fill="#f4f4f4" stroke="#8a8a8a" stroke-width="0.7"/>
<circle cx="316.3" cy="284.7" r="1.35" fill="#f4f4f4" stroke="#8a8a8a" stroke-width="0.7"/>
<circle cx="323.3" cy="284.7" r="1.35" fill="#f4f4f4" stroke="#8a8a8a" stroke-width="0.7"/>
<circle cx="330.3" cy="284.7" r="1.35" fill="#f4f4f4" stroke="#8a8a8a" stroke-width="0.7"/>
<circle cx="337.3" cy="284.7" r="1.35" fill="#f4f4f4" stroke="#8a8a8a" stroke-width="0.7"/>
<circle cx="344.3" cy="284.7" r="1.35" fill="#f4f4f4" stroke="#8a8a8a" stroke-width="0.7"/>
<circle cx="351.3" cy="284.7" r="1.35" fill="#f4f4f4" stroke="#8a8a8a" stroke-width="0.7"/>
<circle cx="358.3" cy="284.7" r="1.35" fill="#f4f4f4" stroke="#8a8a8a" stroke-width="0.7"/>
<circle cx="365.3" cy="284.7" r="1.35" fill="#f4f4f4" stroke="#8a8a8a" stroke-width="0.7"/>
<text x="361.8" y="258.3" font-size="7" text-anchor="start" fill="#333">(003)</text>
<rect x="262.5" y="183.5" width="178" height="144" fill="none" stroke="#444" stroke-width="1"/>
<path d="M265.3 224.29 L270.71 196.49 L276.12 247.89 L286.94 307.16 L308.58 307.68 L351.86 307.68 L438.42 307.68" stroke="#1a1a1a" stroke-width="1" fill="none"/>
<circle cx="265.3" cy="224.29" r="2.9" fill="url(#gBlk)" stroke="none" stroke-width="1"/>
<circle cx="270.71" cy="196.49" r="2.9" fill="url(#gBlk)" stroke="none" stroke-width="1"/>
<circle cx="276.12" cy="247.89" r="2.9" fill="url(#gBlk)" stroke="none" stroke-width="1"/>
<circle cx="286.94" cy="307.16" r="2.9" fill="url(#gBlk)" stroke="none" stroke-width="1"/>
<circle cx="308.58" cy="307.68" r="2.9" fill="url(#gBlk)" stroke="none" stroke-width="1"/>
<circle cx="351.86" cy="307.68" r="2.9" fill="url(#gBlk)" stroke="none" stroke-width="1"/>
<circle cx="438.42" cy="307.68" r="2.9" fill="url(#gBlk)" stroke="none" stroke-width="1"/>
<path d="M265.3 310.69 L273.08 227.54 L274.39 216.19 L275.63 209.24 L276.63 205.57 L277.66 202.67 L279.31 199.51 L280.52 198.04 L281.85 196.95 L284.16 195.77 L286.94 194.82 L288.98 194.38 L291.08 194.29 L294.49 194.65 L306.61 196.8 L331.51 199.8 L347.93 201.27 L378.62 202.92 L438.42 205.38" stroke="#ef8c6c" stroke-width="1" fill="none"/>
<rect x="262.9" y="308.29" width="4.8" height="4.8" fill="#ef8c6c" stroke="none" stroke-width="1"/>
<rect x="268.31" y="250.98" width="4.8" height="4.8" fill="#ef8c6c" stroke="none" stroke-width="1"/>
<rect x="273.72" y="204.9" width="4.8" height="4.8" fill="#ef8c6c" stroke="none" stroke-width="1"/>
<rect x="284.54" y="192.42" width="4.8" height="4.8" fill="#ef8c6c" stroke="none" stroke-width="1"/>
<rect x="306.18" y="194.63" width="4.8" height="4.8" fill="#ef8c6c" stroke="none" stroke-width="1"/>
<rect x="349.46" y="199.14" width="4.8" height="4.8" fill="#ef8c6c" stroke="none" stroke-width="1"/>
<rect x="436.02" y="202.98" width="4.8" height="4.8" fill="#ef8c6c" stroke="none" stroke-width="1"/>
<path d="M265.3 318.28 L270.71 309.06 L274.39 301.21 L277.14 296.91 L280.52 290.89 L281.85 289.13 L283.35 287.83 L285.03 287.17 L285.96 287.15 L286.94 287.36 L287.96 287.87 L290.02 289.71 L298.4 301.05 L301.39 304.44 L303.03 305.97 L306.61 308.51 L308.58 309.44 L310.61 310.18 L314.74 311.28 L319.05 311.97 L326.16 312.46 L344.23 312.79 L378.62 314.17 L438.42 316.07" stroke="#6fa584" stroke-width="1" fill="none"/>
<rect x="262.9" y="315.88" width="4.8" height="4.8" fill="#6fa584" stroke="none" stroke-width="1"/>
<rect x="268.31" y="306.66" width="4.8" height="4.8" fill="#6fa584" stroke="none" stroke-width="1"/>
<rect x="273.72" y="296.1" width="4.8" height="4.8" fill="#6fa584" stroke="none" stroke-width="1"/>
<rect x="284.54" y="284.96" width="4.8" height="4.8" fill="#6fa584" stroke="none" stroke-width="1"/>
<rect x="306.18" y="307.04" width="4.8" height="4.8" fill="#6fa584" stroke="none" stroke-width="1"/>
<rect x="349.46" y="310.69" width="4.8" height="4.8" fill="#6fa584" stroke="none" stroke-width="1"/>
<rect x="436.02" y="313.67" width="4.8" height="4.8" fill="#6fa584" stroke="none" stroke-width="1"/>
<circle cx="270.71" cy="196.49" r="4.8" fill="none" stroke="#d42020" stroke-width="0.8" stroke-dasharray="1.5 1"/>
<line x1="273.5" y1="199" x2="302.5" y2="224.5" stroke="#cc1c1c" stroke-width="1.3" stroke-dasharray="2.8 1.4"/>
<path d="M307.2 229.6 L299.6 226.9 L304.3 221.6 Z" stroke="none" stroke-width="1" fill="#cc1c1c"/>
<line x1="275" y1="256.9" x2="283" y2="256.9" stroke="#222" stroke-width="0.9"/>
<path d="M272.8 256.9 L276 255.2 L276 258.6 Z" stroke="none" stroke-width="1" fill="#222"/>
<line x1="383.5" y1="225.8" x2="398" y2="225.8" stroke="#6fa584" stroke-width="1"/>
<rect x="388.2" y="223.5" width="4.8" height="4.8" fill="#6fa584" stroke="none" stroke-width="1"/>
<text x="404.5" y="230" font-size="12" text-anchor="start" fill="#1a1a1a">(003)</text>
<line x1="383.5" y1="240.6" x2="398" y2="240.6" stroke="#ef8c6c" stroke-width="1"/>
<rect x="388.2" y="238.3" width="4.8" height="4.8" fill="#ef8c6c" stroke="none" stroke-width="1"/>
<text x="404.5" y="244.8" font-size="12" text-anchor="start" fill="#1a1a1a">(104)</text>
<line x1="259.5" y1="314.5" x2="262.5" y2="314.5" stroke="#444" stroke-width="1"/>
<text x="258.5" y="317.7" font-size="9.3" text-anchor="end" fill="#1a1a1a">0.0</text>
<line x1="259.5" y1="288.27" x2="262.5" y2="288.27" stroke="#444" stroke-width="1"/>
<text x="258.5" y="291.47" font-size="9.3" text-anchor="end" fill="#1a1a1a">0.5</text>
<line x1="259.5" y1="262.05" x2="262.5" y2="262.05" stroke="#444" stroke-width="1"/>
<text x="258.5" y="265.25" font-size="9.3" text-anchor="end" fill="#1a1a1a">1.0</text>
<line x1="259.5" y1="235.82" x2="262.5" y2="235.82" stroke="#444" stroke-width="1"/>
<text x="258.5" y="239.02" font-size="9.3" text-anchor="end" fill="#1a1a1a">1.5</text>
<line x1="259.5" y1="209.6" x2="262.5" y2="209.6" stroke="#444" stroke-width="1"/>
<text x="258.5" y="212.8" font-size="9.3" text-anchor="end" fill="#1a1a1a">2.0</text>
<line x1="259.5" y1="183.38" x2="262.5" y2="183.38" stroke="#444" stroke-width="1"/>
<text x="258.5" y="186.57" font-size="9.3" text-anchor="end" fill="#1a1a1a">2.5</text>
<line x1="260.7" y1="301.39" x2="262.5" y2="301.39" stroke="#444" stroke-width="1"/>
<line x1="260.7" y1="275.16" x2="262.5" y2="275.16" stroke="#444" stroke-width="1"/>
<line x1="260.7" y1="248.94" x2="262.5" y2="248.94" stroke="#444" stroke-width="1"/>
<line x1="260.7" y1="222.71" x2="262.5" y2="222.71" stroke="#444" stroke-width="1"/>
<line x1="260.7" y1="196.49" x2="262.5" y2="196.49" stroke="#444" stroke-width="1"/>
<line x1="440.5" y1="327.3" x2="443.5" y2="327.3" stroke="#444" stroke-width="1"/>
<text x="445" y="330.5" font-size="9.3" text-anchor="start" fill="#1a1a1a">0.0</text>
<line x1="440.5" y1="317.7" x2="442.3" y2="317.7" stroke="#444" stroke-width="1"/>
<line x1="440.5" y1="308.1" x2="443.5" y2="308.1" stroke="#444" stroke-width="1"/>
<text x="445" y="311.3" font-size="9.3" text-anchor="start" fill="#1a1a1a">0.2</text>
<line x1="440.5" y1="298.5" x2="442.3" y2="298.5" stroke="#444" stroke-width="1"/>
<line x1="440.5" y1="288.9" x2="443.5" y2="288.9" stroke="#444" stroke-width="1"/>
<text x="445" y="292.1" font-size="9.3" text-anchor="start" fill="#1a1a1a">0.4</text>
<line x1="440.5" y1="279.3" x2="442.3" y2="279.3" stroke="#444" stroke-width="1"/>
<line x1="440.5" y1="269.7" x2="443.5" y2="269.7" stroke="#444" stroke-width="1"/>
<text x="445" y="272.9" font-size="9.3" text-anchor="start" fill="#1a1a1a">0.6</text>
<line x1="440.5" y1="260.1" x2="442.3" y2="260.1" stroke="#444" stroke-width="1"/>
<line x1="440.5" y1="250.5" x2="443.5" y2="250.5" stroke="#444" stroke-width="1"/>
<text x="445" y="253.7" font-size="9.3" text-anchor="start" fill="#1a1a1a">0.8</text>
<line x1="440.5" y1="240.9" x2="442.3" y2="240.9" stroke="#444" stroke-width="1"/>
<line x1="440.5" y1="231.3" x2="443.5" y2="231.3" stroke="#444" stroke-width="1"/>
<text x="445" y="234.5" font-size="9.3" text-anchor="start" fill="#1a1a1a">1.0</text>
<line x1="440.5" y1="221.7" x2="442.3" y2="221.7" stroke="#444" stroke-width="1"/>
<line x1="440.5" y1="212.1" x2="443.5" y2="212.1" stroke="#444" stroke-width="1"/>
<text x="445" y="215.3" font-size="9.3" text-anchor="start" fill="#1a1a1a">1.2</text>
<line x1="440.5" y1="202.5" x2="442.3" y2="202.5" stroke="#444" stroke-width="1"/>
<line x1="440.5" y1="192.9" x2="443.5" y2="192.9" stroke="#444" stroke-width="1"/>
<text x="445" y="196.1" font-size="9.3" text-anchor="start" fill="#1a1a1a">1.4</text>
<line x1="265.3" y1="327.5" x2="265.3" y2="330.5" stroke="#444" stroke-width="1"/>
<text x="265.3" y="340" font-size="9.3" text-anchor="middle" fill="#1a1a1a">0</text>
<line x1="276.12" y1="327.5" x2="276.12" y2="329.3" stroke="#444" stroke-width="1"/>
<line x1="286.94" y1="327.5" x2="286.94" y2="330.5" stroke="#444" stroke-width="1"/>
<text x="286.94" y="340" font-size="9.3" text-anchor="middle" fill="#1a1a1a">2</text>
<line x1="297.76" y1="327.5" x2="297.76" y2="329.3" stroke="#444" stroke-width="1"/>
<line x1="308.58" y1="327.5" x2="308.58" y2="330.5" stroke="#444" stroke-width="1"/>
<text x="308.58" y="340" font-size="9.3" text-anchor="middle" fill="#1a1a1a">4</text>
<line x1="319.4" y1="327.5" x2="319.4" y2="329.3" stroke="#444" stroke-width="1"/>
<line x1="330.22" y1="327.5" x2="330.22" y2="330.5" stroke="#444" stroke-width="1"/>
<text x="330.22" y="340" font-size="9.3" text-anchor="middle" fill="#1a1a1a">6</text>
<line x1="341.04" y1="327.5" x2="341.04" y2="329.3" stroke="#444" stroke-width="1"/>
<line x1="351.86" y1="327.5" x2="351.86" y2="330.5" stroke="#444" stroke-width="1"/>
<text x="351.86" y="340" font-size="9.3" text-anchor="middle" fill="#1a1a1a">8</text>
<line x1="362.68" y1="327.5" x2="362.68" y2="329.3" stroke="#444" stroke-width="1"/>
<line x1="373.5" y1="327.5" x2="373.5" y2="330.5" stroke="#444" stroke-width="1"/>
<text x="373.5" y="340" font-size="9.3" text-anchor="middle" fill="#1a1a1a">10</text>
<line x1="384.32" y1="327.5" x2="384.32" y2="329.3" stroke="#444" stroke-width="1"/>
<line x1="395.14" y1="327.5" x2="395.14" y2="330.5" stroke="#444" stroke-width="1"/>
<text x="395.14" y="340" font-size="9.3" text-anchor="middle" fill="#1a1a1a">12</text>
<line x1="405.96" y1="327.5" x2="405.96" y2="329.3" stroke="#444" stroke-width="1"/>
<line x1="416.78" y1="327.5" x2="416.78" y2="330.5" stroke="#444" stroke-width="1"/>
<text x="416.78" y="340" font-size="9.3" text-anchor="middle" fill="#1a1a1a">14</text>
<line x1="427.6" y1="327.5" x2="427.6" y2="329.3" stroke="#444" stroke-width="1"/>
<line x1="438.42" y1="327.5" x2="438.42" y2="330.5" stroke="#444" stroke-width="1"/>
<text x="438.42" y="340" font-size="9.3" text-anchor="middle" fill="#1a1a1a">16</text>
<text x="352" y="353.6" font-size="12.3" text-anchor="middle" fill="#1a1a1a">Activation time (h)</text>
<text x="238" y="255" font-size="11.5" text-anchor="middle" fill="#1a1a1a" transform="rotate(-90 238 255)">I<tspan font-size="8" dy="2">(003)</tspan><tspan dy="-2">/I</tspan><tspan font-size="8" dy="2">(104)</tspan></text>
<text x="476" y="255" font-size="12.3" text-anchor="middle" fill="#1a1a1a" transform="rotate(-90 476 255)">FMWH</text>
<text x="479.2" y="183.2" font-size="14.3" text-anchor="start" fill="#111">d</text>
<path d="M500.8 300.88 L507.2 299.45 L517.57 298.05 L519.74 297.58 L520.64 297.14 L521.41 296.39 L522.82 293.17 L523.07 292.92 L523.33 293.14 L524.22 295.37 L524.86 296.38 L525.76 297.02 L527.04 297.36 L531.39 297.52 L543.81 297.28 L545.86 296.98 L546.75 296.23 L547.14 295.08 L547.39 293 L547.65 286.32 L548.03 217.35 L548.42 286.32 L548.8 294.27 L549.18 295.95 L549.82 296.76 L550.85 297.1 L553.02 297.24 L564.67 297.08 L567.23 296.65 L569.28 295.49 L571.2 295.78 L572.99 295.02 L574.91 296.34 L576.45 296.81 L579.9 297 L583.49 296.77 L585.28 296.26 L586.43 295.33 L587.2 294 L588.22 291.2 L588.61 290.75 L588.99 291.2 L590.27 294.53 L591.17 295.73 L592.06 296.3 L593.09 296.6 L594.24 296.67 L595.01 296.41 L595.39 295.88 L595.65 294.87 L595.9 291.67 L596.29 263.07 L596.67 291.71 L597.06 295.58 L597.44 296.42 L597.95 296.8 L600.38 297.13 L607.94 297.23 L615.74 297.19 L617.66 296.86 L618.18 296.07 L618.43 294.37 L618.82 281.23 L619.2 294.36 L619.58 296.39 L620.35 296.99 L623.17 297.01 L625.22 296.22 L626.62 296.87 L627.78 297.06 L632.13 297.19 L635.33 297.05 L637.63 296.46 L639.81 294.8 L640.32 294.64 L640.96 294.93 L642.75 296.48 L644.16 297.1 L646.85 297.58 L650.56 297.75 L651.2 297.59 L651.58 297.11 L652.1 293.93 L652.61 297.15 L652.86 297.57 L653.38 297.83 L658.88 298.19 L669.12 298.41 L669.89 298.13 L670.27 297.4 L670.78 291.59 L671.17 296.75 L671.68 298.19 L672.19 298.46 L673.22 298.61 L680 298.88" stroke="#7d7d7d" stroke-width="2.8" fill="none" stroke-linejoin="round" clip-path="url(#dclip)"/>
<path d="M546.73 288.35l1.7 1.7m0 -1.7l-1.7 1.7M546.79 285.96l1.7 1.7m0 -1.7l-1.7 1.7M546.84 283.15l1.7 1.7m0 -1.7l-1.7 1.7M546.87 280.93l1.7 1.7m0 -1.7l-1.7 1.7M546.9 278.16l1.7 1.7m0 -1.7l-1.7 1.7M546.92 275.94l1.7 1.7m0 -1.7l-1.7 1.7M546.94 273.35l1.7 1.7m0 -1.7l-1.7 1.7M546.96 270.31l1.7 1.7m0 -1.7l-1.7 1.7M546.98 266.77l1.7 1.7m0 -1.7l-1.7 1.7M547 262.62l1.7 1.7m0 -1.7l-1.7 1.7M547.01 260.31l1.7 1.7m0 -1.7l-1.7 1.7M547.02 257.82l1.7 1.7m0 -1.7l-1.7 1.7M547.03 255.15l1.7 1.7m0 -1.7l-1.7 1.7M547.04 252.31l1.7 1.7m0 -1.7l-1.7 1.7M547.05 249.29l1.7 1.7m0 -1.7l-1.7 1.7M547.06 246.12l1.7 1.7m0 -1.7l-1.7 1.7M547.07 242.81l1.7 1.7m0 -1.7l-1.7 1.7M547.08 239.41l1.7 1.7m0 -1.7l-1.7 1.7M547.09 235.95l1.7 1.7m0 -1.7l-1.7 1.7M547.11 232.5l1.7 1.7m0 -1.7l-1.7 1.7M547.12 229.15l1.7 1.7m0 -1.7l-1.7 1.7M547.13 225.99l1.7 1.7m0 -1.7l-1.7 1.7M547.14 223.11l1.7 1.7m0 -1.7l-1.7 1.7M547.15 220.63l1.7 1.7m0 -1.7l-1.7 1.7M547.17 217.3l1.7 1.7m0 -1.7l-1.7 1.7M547.22 220.63l1.7 1.7m0 -1.7l-1.7 1.7M547.23 223.11l1.7 1.7m0 -1.7l-1.7 1.7M547.24 225.98l1.7 1.7m0 -1.7l-1.7 1.7M547.25 229.15l1.7 1.7m0 -1.7l-1.7 1.7M547.26 232.5l1.7 1.7m0 -1.7l-1.7 1.7M547.27 235.95l1.7 1.7m0 -1.7l-1.7 1.7M547.28 239.41l1.7 1.7m0 -1.7l-1.7 1.7M547.29 242.81l1.7 1.7m0 -1.7l-1.7 1.7M547.3 246.12l1.7 1.7m0 -1.7l-1.7 1.7M547.31 249.29l1.7 1.7m0 -1.7l-1.7 1.7M547.32 252.3l1.7 1.7m0 -1.7l-1.7 1.7M547.33 255.15l1.7 1.7m0 -1.7l-1.7 1.7M547.34 257.81l1.7 1.7m0 -1.7l-1.7 1.7M547.35 260.3l1.7 1.7m0 -1.7l-1.7 1.7M547.36 262.62l1.7 1.7m0 -1.7l-1.7 1.7M547.38 266.76l1.7 1.7m0 -1.7l-1.7 1.7M547.4 270.31l1.7 1.7m0 -1.7l-1.7 1.7M547.42 273.34l1.7 1.7m0 -1.7l-1.7 1.7M547.44 275.94l1.7 1.7m0 -1.7l-1.7 1.7M547.46 278.16l1.7 1.7m0 -1.7l-1.7 1.7M547.49 280.92l1.7 1.7m0 -1.7l-1.7 1.7M547.53 283.14l1.7 1.7m0 -1.7l-1.7 1.7M547.57 285.47l1.7 1.7m0 -1.7l-1.7 1.7M547.63 288l1.7 1.7m0 -1.7l-1.7 1.7M595.19 285.51l1.7 1.7m0 -1.7l-1.7 1.7M595.23 282.68l1.7 1.7m0 -1.7l-1.7 1.7M595.26 279.97l1.7 1.7m0 -1.7l-1.7 1.7M595.29 276.69l1.7 1.7m0 -1.7l-1.7 1.7M595.32 274.21l1.7 1.7m0 -1.7l-1.7 1.7M595.34 271.55l1.7 1.7m0 -1.7l-1.7 1.7M595.36 268.84l1.7 1.7m0 -1.7l-1.7 1.7M595.38 266.29l1.7 1.7m0 -1.7l-1.7 1.7M595.41 263.34l1.7 1.7m0 -1.7l-1.7 1.7M595.5 266.3l1.7 1.7m0 -1.7l-1.7 1.7M595.52 268.85l1.7 1.7m0 -1.7l-1.7 1.7M595.54 271.56l1.7 1.7m0 -1.7l-1.7 1.7M595.56 274.22l1.7 1.7m0 -1.7l-1.7 1.7M595.58 276.71l1.7 1.7m0 -1.7l-1.7 1.7M595.6 278.96l1.7 1.7m0 -1.7l-1.7 1.7M595.63 281.86l1.7 1.7m0 -1.7l-1.7 1.7M595.66 284.23l1.7 1.7m0 -1.7l-1.7 1.7M595.7 286.68l1.7 1.7m0 -1.7l-1.7 1.7M617.86 284.32l1.7 1.7m0 -1.7l-1.7 1.7M617.9 282.06l1.7 1.7m0 -1.7l-1.7 1.7M618.07 284.31l1.7 1.7m0 -1.7l-1.7 1.7M618.11 286.62l1.7 1.7m0 -1.7l-1.7 1.7" stroke="#7a7a7a" stroke-width="0.65" fill="none"/>
<path d="M500.8 300.88 L507.2 299.45 L517.57 298.05 L519.74 297.58 L520.64 297.14 L521.41 296.39 L522.82 293.17 L523.07 292.92 L523.33 293.14 L524.22 295.37 L524.86 296.38 L525.76 297.02 L527.04 297.36 L531.39 297.52 L543.81 297.28 L545.86 296.98 L546.75 296.23 L547.14 295.08 L547.39 293 L547.65 286.32 L548.03 217.35 L548.42 286.32 L548.8 294.27 L549.18 295.95 L549.82 296.76 L550.85 297.1 L553.02 297.24 L564.67 297.08 L567.23 296.65 L569.28 295.49 L571.2 295.78 L572.99 295.02 L574.91 296.34 L576.45 296.81 L579.9 297 L583.49 296.77 L585.28 296.26 L586.43 295.33 L587.2 294 L588.22 291.2 L588.61 290.75 L588.99 291.2 L590.27 294.53 L591.17 295.73 L592.06 296.3 L593.09 296.6 L594.24 296.67 L595.01 296.41 L595.39 295.88 L595.65 294.87 L595.9 291.67 L596.29 263.07 L596.67 291.71 L597.06 295.58 L597.44 296.42 L597.95 296.8 L600.38 297.13 L607.94 297.23 L615.74 297.19 L617.66 296.86 L618.18 296.07 L618.43 294.37 L618.82 281.23 L619.2 294.36 L619.58 296.39 L620.35 296.99 L623.17 297.01 L625.22 296.22 L626.62 296.87 L627.78 297.06 L632.13 297.19 L635.33 297.05 L637.63 296.46 L639.81 294.8 L640.32 294.64 L640.96 294.93 L642.75 296.48 L644.16 297.1 L646.85 297.58 L650.56 297.75 L651.2 297.59 L651.58 297.11 L652.1 293.93 L652.61 297.15 L652.86 297.57 L653.38 297.83 L658.88 298.19 L669.12 298.41 L669.89 298.13 L670.27 297.4 L670.78 291.59 L671.17 296.75 L671.68 298.19 L672.19 298.46 L673.22 298.61 L680 298.88" stroke="#f4a088" stroke-width="1.1" fill="none" stroke-linejoin="round"/>
<path d="M500.8 316.57 L502.08 317.03 L504 316.8 L504.64 316.95 L505.92 316.68 L506.56 316.93 L507.2 316.7 L507.84 317 L510.4 316.93 L512.96 317.15 L514.24 316.87 L515.52 316.94 L516.16 316.65 L518.08 317.04 L518.72 316.87 L520 317.19 L521.92 316.67 L522.56 317.11 L523.2 317.13 L523.84 316.72 L524.48 317.06 L525.12 317.12 L525.76 316.62 L526.4 317.11 L527.04 316.57 L528.96 317.14 L529.6 316.63 L530.88 317.11 L531.52 316.66 L532.16 317.16 L533.44 316.93 L534.08 317.21 L534.72 316.57 L536 317.16 L536.64 316.6 L537.28 317.14 L538.56 316.83 L539.84 316.77 L540.48 316.96 L541.12 316.7 L541.76 317.06 L542.4 316.95 L543.04 317.21 L543.68 316.55 L545.6 316.99 L546.88 316.59 L547.52 316.8 L548.16 315.74 L548.8 317.19 L550.72 316.8 L551.36 317.11 L552.64 317.03 L553.28 317.22 L554.56 316.8 L555.2 316.78 L555.84 317.02 L556.48 316.9 L557.12 317.12 L557.76 316.66 L558.4 316.56 L560.32 317.2 L560.96 316.65 L562.24 316.6 L562.88 316.96 L564.8 316.8 L565.44 317.05 L566.72 317.18 L568 317.08 L568.64 316.72 L569.28 316.7 L570.56 317.15 L571.2 316.69 L571.84 317.22 L572.48 316.61 L573.12 317.05 L573.76 316.68 L574.4 317 L575.04 316.7 L575.68 317.16 L576.96 316.98 L577.6 316.67 L578.24 317.11 L579.52 317.09 L580.16 316.73 L580.8 317.16 L581.44 317.2 L582.08 316.59 L583.36 316.66 L584 316.92 L584.64 316.8 L585.92 317.01 L586.56 316.71 L587.2 317.12 L589.76 316.92 L590.4 316.64 L591.68 317.01 L592.32 316.66 L593.6 317.21 L594.24 316.64 L594.88 316.94 L595.52 316.73 L596.8 317.16 L597.44 316.92 L598.08 317.09 L599.36 316.7 L600 317.18 L600.64 316.87 L601.28 317.1 L601.92 316.63 L602.56 316.6 L603.2 317.02 L603.84 316.59 L605.12 317.21 L605.76 316.57 L606.4 316.73 L607.68 316.69 L608.96 317.17 L609.6 316.7 L610.88 317.22 L611.52 317.13 L612.16 316.61 L612.8 316.89 L613.44 316.66 L614.08 316.7 L614.72 317.17 L615.36 317.15 L616 316.58 L616.64 316.68 L617.28 317.25 L618.56 316.66 L620.48 316.62 L621.12 316.88 L621.76 316.61 L623.04 317.17 L623.68 316.96 L624.32 317.1 L624.96 316.58 L625.6 316.95 L626.88 317.24 L627.52 316.6 L628.16 316.63 L628.8 317.23 L629.44 316.55 L630.08 317.03 L631.36 316.92 L632 317.22 L632.64 316.79 L633.28 317.15 L634.56 317.04 L635.2 316.74 L635.84 317.23 L636.48 316.91 L637.12 317.1 L637.76 316.74 L638.4 317.03 L639.68 317.03 L640.32 316.83 L641.6 317.23 L642.88 317.11 L643.52 316.72 L644.8 317.24 L645.44 317.01 L646.72 317.19 L647.36 316.83 L648 317.03 L650.56 316.91 L651.2 316.71 L653.12 316.98 L653.76 316.6 L654.4 317.2 L655.04 316.73 L655.68 317.15 L656.32 316.92 L656.96 316.95 L657.6 316.6 L658.88 317.12 L660.16 317.13 L660.8 316.67 L661.44 316.78 L662.08 317.13 L662.72 316.64 L663.36 317.04 L664 316.62 L664.64 317.01 L665.92 316.74 L666.56 317.25 L667.2 316.86 L668.48 317.08 L669.12 316.55 L671.04 317.11 L671.68 316.56 L672.32 316.55 L673.6 316.76 L674.24 317.19 L674.88 316.72 L675.52 316.61 L676.16 317.15 L676.8 316.64 L678.08 317.19 L678.72 316.81 L680 317.23" stroke="#97c6a8" stroke-width="1.3" fill="none"/>
<line x1="523.07" y1="305.5" x2="523.07" y2="309.5" stroke="#d8304a" stroke-width="0.9"/>
<line x1="569.15" y1="305.5" x2="569.15" y2="309.5" stroke="#d8304a" stroke-width="0.9"/>
<line x1="572.22" y1="305.5" x2="572.22" y2="309.5" stroke="#d8304a" stroke-width="0.9"/>
<line x1="573.25" y1="305.5" x2="573.25" y2="309.5" stroke="#d8304a" stroke-width="0.9"/>
<line x1="588.86" y1="305.5" x2="588.86" y2="309.5" stroke="#d8304a" stroke-width="0.9"/>
<line x1="599.62" y1="305.5" x2="599.62" y2="309.5" stroke="#d8304a" stroke-width="0.9"/>
<line x1="625.22" y1="305.5" x2="625.22" y2="309.5" stroke="#d8304a" stroke-width="0.9"/>
<line x1="627.01" y1="305.5" x2="627.01" y2="309.5" stroke="#d8304a" stroke-width="0.9"/>
<line x1="640.06" y1="305.5" x2="640.06" y2="309.5" stroke="#d8304a" stroke-width="0.9"/>
<line x1="641.6" y1="305.5" x2="641.6" y2="309.5" stroke="#d8304a" stroke-width="0.9"/>
<line x1="649.79" y1="305.5" x2="649.79" y2="309.5" stroke="#d8304a" stroke-width="0.9"/>
<line x1="672.83" y1="305.5" x2="672.83" y2="309.5" stroke="#d8304a" stroke-width="0.9"/>
<line x1="674.37" y1="305.5" x2="674.37" y2="309.5" stroke="#d8304a" stroke-width="0.9"/>
<line x1="675.9" y1="305.5" x2="675.9" y2="309.5" stroke="#d8304a" stroke-width="0.9"/>
<line x1="548.03" y1="305.5" x2="548.03" y2="309.5" stroke="#2a5d8a" stroke-width="0.9"/>
<line x1="596.29" y1="305.5" x2="596.29" y2="309.5" stroke="#2a5d8a" stroke-width="0.9"/>
<line x1="618.82" y1="305.5" x2="618.82" y2="309.5" stroke="#2a5d8a" stroke-width="0.9"/>
<line x1="625.98" y1="305.5" x2="625.98" y2="309.5" stroke="#2a5d8a" stroke-width="0.9"/>
<line x1="652.1" y1="305.5" x2="652.1" y2="309.5" stroke="#2a5d8a" stroke-width="0.9"/>
<line x1="670.78" y1="305.5" x2="670.78" y2="309.5" stroke="#2a5d8a" stroke-width="0.9"/>
<text x="504" y="191.4" font-size="8" text-anchor="start" fill="#222">MA-NCM811-2h</text>
<text x="504" y="201.5" font-size="6.8" text-anchor="start" fill="#222">LTMO 27.1%</text>
<text x="504" y="210.6" font-size="7.3" text-anchor="start" fill="#222">Amorphous phase 72.9%</text>
<text x="599.2" y="192" font-size="6" text-anchor="middle" fill="#999">×</text>
<line x1="593.5" y1="201.5" x2="605" y2="201.5" stroke="#f2967a" stroke-width="1"/>
<line x1="593.5" y1="212.8" x2="605" y2="212.8" stroke="#a8cdb6" stroke-width="1.3"/>
<line x1="599.2" y1="223" x2="599.2" y2="228" stroke="#d8304a" stroke-width="1"/>
<line x1="599.2" y1="235.5" x2="599.2" y2="240.5" stroke="#2a5d8a" stroke-width="1"/>
<text x="612.6" y="192.8" font-size="8" text-anchor="start" fill="#222">Experimental data</text>
<text x="612.6" y="204.7" font-size="8" text-anchor="start" fill="#222">Calculated data</text>
<text x="612.6" y="215.9" font-size="8" text-anchor="start" fill="#222">Difference</text>
<text x="612.6" y="227.8" font-size="8" text-anchor="start" fill="#222">R-3m</text>
<text x="612.6" y="239.5" font-size="8" text-anchor="start" fill="#222">Internal standard</text>
<text x="618.3" y="270.7" font-size="9" text-anchor="start" fill="#222">R<tspan font-size="7.6" dy="2.5">wp</tspan><tspan dy="-2.5"> = 1.389%</tspan></text>
<rect x="500.5" y="183.3" width="179.8" height="145.2" fill="none" stroke="#777" stroke-width="1.3"/>
<line x1="500.8" y1="328.5" x2="500.8" y2="326" stroke="#666" stroke-width="1"/>
<line x1="513.6" y1="328.5" x2="513.6" y2="327" stroke="#666" stroke-width="1"/>
<line x1="526.4" y1="328.5" x2="526.4" y2="326" stroke="#666" stroke-width="1"/>
<line x1="539.2" y1="328.5" x2="539.2" y2="327" stroke="#666" stroke-width="1"/>
<line x1="552" y1="328.5" x2="552" y2="326" stroke="#666" stroke-width="1"/>
<line x1="564.8" y1="328.5" x2="564.8" y2="327" stroke="#666" stroke-width="1"/>
<line x1="577.6" y1="328.5" x2="577.6" y2="326" stroke="#666" stroke-width="1"/>
<line x1="590.4" y1="328.5" x2="590.4" y2="327" stroke="#666" stroke-width="1"/>
<line x1="603.2" y1="328.5" x2="603.2" y2="326" stroke="#666" stroke-width="1"/>
<line x1="616" y1="328.5" x2="616" y2="327" stroke="#666" stroke-width="1"/>
<line x1="628.8" y1="328.5" x2="628.8" y2="326" stroke="#666" stroke-width="1"/>
<line x1="641.6" y1="328.5" x2="641.6" y2="327" stroke="#666" stroke-width="1"/>
<line x1="654.4" y1="328.5" x2="654.4" y2="326" stroke="#666" stroke-width="1"/>
<line x1="667.2" y1="328.5" x2="667.2" y2="327" stroke="#666" stroke-width="1"/>
<line x1="680" y1="328.5" x2="680" y2="326" stroke="#666" stroke-width="1"/>
<text x="500.8" y="340.5" font-size="9.2" text-anchor="middle" fill="#1a1a1a">10</text>
<text x="526.4" y="340.5" font-size="9.2" text-anchor="middle" fill="#1a1a1a">20</text>
<text x="552" y="340.5" font-size="9.2" text-anchor="middle" fill="#1a1a1a">30</text>
<text x="577.6" y="340.5" font-size="9.2" text-anchor="middle" fill="#1a1a1a">40</text>
<text x="603.2" y="340.5" font-size="9.2" text-anchor="middle" fill="#1a1a1a">50</text>
<text x="628.8" y="340.5" font-size="9.2" text-anchor="middle" fill="#1a1a1a">60</text>
<text x="654.4" y="340.5" font-size="9.2" text-anchor="middle" fill="#1a1a1a">70</text>
<text x="680" y="340.5" font-size="9.2" text-anchor="middle" fill="#1a1a1a">80</text>
<text x="590.5" y="356.6" font-size="12.3" text-anchor="middle" fill="#1a1a1a">2 Theta (°)</text>
<text x="494" y="255.5" font-size="12.3" text-anchor="middle" fill="#1a1a1a" transform="rotate(-90 494 255.5)">Intensity (arb.u.)</text>
<text x="222.5" y="372.3" font-size="13" text-anchor="start" fill="#111">e</text>
<rect x="263.5" y="377.5" width="178" height="144" fill="none" stroke="#444" stroke-width="1"/>
<path d="M276.15 429.85 L280.59 421.99 L282.18 419.74 L283.5 418.29 L284.93 417.16 L286.46 416.46 L288.63 416.19 L290.87 416.35 L293.86 417.09 L297.94 418.77 L302.8 421.26 L309.79 425.18 L311.97 426.68 L315.3 429.37 L327.71 440.38 L333.61 444.8 L338.54 447.8 L342.1 449.56 L345.9 451.09 L349.97 452.34 L354.36 453.27 L362.17 454.21 L368.07 454.57 L377.68 454.77 L398.21 454.32 L438.9 452.27" stroke="#86b89a" stroke-width="1" fill="none"/>
<circle cx="276.15" cy="429.85" r="2.4" fill="url(#gGreenL)" stroke="#86b29a" stroke-width="0.4"/>
<circle cx="287" cy="416.34" r="2.4" fill="url(#gGreenL)" stroke="#86b29a" stroke-width="0.4"/>
<circle cx="308.7" cy="424.53" r="2.4" fill="url(#gGreenL)" stroke="#86b29a" stroke-width="0.4"/>
<circle cx="352.1" cy="452.84" r="2.4" fill="url(#gGreenL)" stroke="#86b29a" stroke-width="0.4"/>
<circle cx="438.9" cy="452.27" r="2.4" fill="url(#gGreenL)" stroke="#86b29a" stroke-width="0.4"/>
<text x="287" y="409.8" font-size="10" text-anchor="middle" fill="#1a1a1a">72.9</text>
<text x="439.5" y="448.2" font-size="10" text-anchor="end" fill="#1a1a1a">47.9</text>
<line x1="260.5" y1="521.1" x2="263.5" y2="521.1" stroke="#444" stroke-width="1"/>
<text x="258.5" y="524.4" font-size="9.3" text-anchor="end" fill="#1a1a1a">0</text>
<line x1="261.7" y1="506.73" x2="263.5" y2="506.73" stroke="#444" stroke-width="1"/>
<line x1="260.5" y1="492.36" x2="263.5" y2="492.36" stroke="#444" stroke-width="1"/>
<text x="258.5" y="495.66" font-size="9.3" text-anchor="end" fill="#1a1a1a">20</text>
<line x1="261.7" y1="477.99" x2="263.5" y2="477.99" stroke="#444" stroke-width="1"/>
<line x1="260.5" y1="463.62" x2="263.5" y2="463.62" stroke="#444" stroke-width="1"/>
<text x="258.5" y="466.92" font-size="9.3" text-anchor="end" fill="#1a1a1a">40</text>
<line x1="261.7" y1="449.25" x2="263.5" y2="449.25" stroke="#444" stroke-width="1"/>
<line x1="260.5" y1="434.88" x2="263.5" y2="434.88" stroke="#444" stroke-width="1"/>
<text x="258.5" y="438.18" font-size="9.3" text-anchor="end" fill="#1a1a1a">60</text>
<line x1="261.7" y1="420.51" x2="263.5" y2="420.51" stroke="#444" stroke-width="1"/>
<line x1="260.5" y1="406.14" x2="263.5" y2="406.14" stroke="#444" stroke-width="1"/>
<text x="258.5" y="409.44" font-size="9.3" text-anchor="end" fill="#1a1a1a">80</text>
<line x1="261.7" y1="391.77" x2="263.5" y2="391.77" stroke="#444" stroke-width="1"/>
<line x1="260.5" y1="377.4" x2="263.5" y2="377.4" stroke="#444" stroke-width="1"/>
<text x="258.5" y="380.7" font-size="9.3" text-anchor="end" fill="#1a1a1a">100</text>
<line x1="265.3" y1="521.5" x2="265.3" y2="524.5" stroke="#444" stroke-width="1"/>
<text x="265.3" y="535.5" font-size="9.3" text-anchor="middle" fill="#1a1a1a">0</text>
<line x1="276.15" y1="521.5" x2="276.15" y2="523.3" stroke="#444" stroke-width="1"/>
<line x1="287" y1="521.5" x2="287" y2="524.5" stroke="#444" stroke-width="1"/>
<text x="287" y="535.5" font-size="9.3" text-anchor="middle" fill="#1a1a1a">2</text>
<line x1="297.85" y1="521.5" x2="297.85" y2="523.3" stroke="#444" stroke-width="1"/>
<line x1="308.7" y1="521.5" x2="308.7" y2="524.5" stroke="#444" stroke-width="1"/>
<text x="308.7" y="535.5" font-size="9.3" text-anchor="middle" fill="#1a1a1a">4</text>
<line x1="319.55" y1="521.5" x2="319.55" y2="523.3" stroke="#444" stroke-width="1"/>
<line x1="330.4" y1="521.5" x2="330.4" y2="524.5" stroke="#444" stroke-width="1"/>
<text x="330.4" y="535.5" font-size="9.3" text-anchor="middle" fill="#1a1a1a">6</text>
<line x1="341.25" y1="521.5" x2="341.25" y2="523.3" stroke="#444" stroke-width="1"/>
<line x1="352.1" y1="521.5" x2="352.1" y2="524.5" stroke="#444" stroke-width="1"/>
<text x="352.1" y="535.5" font-size="9.3" text-anchor="middle" fill="#1a1a1a">8</text>
<line x1="362.95" y1="521.5" x2="362.95" y2="523.3" stroke="#444" stroke-width="1"/>
<line x1="373.8" y1="521.5" x2="373.8" y2="524.5" stroke="#444" stroke-width="1"/>
<text x="373.8" y="535.5" font-size="9.3" text-anchor="middle" fill="#1a1a1a">10</text>
<line x1="384.65" y1="521.5" x2="384.65" y2="523.3" stroke="#444" stroke-width="1"/>
<line x1="395.5" y1="521.5" x2="395.5" y2="524.5" stroke="#444" stroke-width="1"/>
<text x="395.5" y="535.5" font-size="9.3" text-anchor="middle" fill="#1a1a1a">12</text>
<line x1="406.35" y1="521.5" x2="406.35" y2="523.3" stroke="#444" stroke-width="1"/>
<line x1="417.2" y1="521.5" x2="417.2" y2="524.5" stroke="#444" stroke-width="1"/>
<text x="417.2" y="535.5" font-size="9.3" text-anchor="middle" fill="#1a1a1a">14</text>
<line x1="428.05" y1="521.5" x2="428.05" y2="523.3" stroke="#444" stroke-width="1"/>
<line x1="438.9" y1="521.5" x2="438.9" y2="524.5" stroke="#444" stroke-width="1"/>
<text x="438.9" y="535.5" font-size="9.3" text-anchor="middle" fill="#1a1a1a">16</text>
<text x="352.3" y="550.6" font-size="12.3" text-anchor="middle" fill="#1a1a1a">Activation time (h)</text>
<text x="238.5" y="449.3" font-size="12.4" text-anchor="middle" fill="#1a1a1a" transform="rotate(-90 238.5 449.3)">Amorphous phase (%)</text>
<text x="476.2" y="371.5" font-size="14" text-anchor="start" fill="#111">f</text>
<rect x="609.9" y="364.9" width="19.5" height="9.6" fill="#8fbca0" stroke="none" stroke-width="1"/>
<text x="632.1" y="373" font-size="10" text-anchor="start" fill="#1a1a1a">Li</text>
<rect x="645.2" y="364.9" width="18.8" height="9.6" fill="#f0a088" stroke="none" stroke-width="1"/>
<text x="667.4" y="373" font-size="10" text-anchor="start" fill="#1a1a1a">TM</text>
<rect x="507.6" y="438.22" width="4.1" height="5.28" fill="#8fbca0" stroke="none" stroke-width="1"/>
<rect x="511.7" y="443.17" width="4.1" height="0.33" fill="#f0a088" stroke="none" stroke-width="1"/>
<line x1="509.65" y1="437.06" x2="509.65" y2="438.88" stroke="#6a6a6a" stroke-width="0.45"/>
<line x1="508.7" y1="437.06" x2="510.6" y2="437.06" stroke="#6a6a6a" stroke-width="0.45"/>
<circle cx="509.65" cy="437.32" r="0.95" fill="#fff" stroke="#707070" stroke-width="0.45"/>
<circle cx="509.65" cy="439.42" r="0.95" fill="#fff" stroke="#707070" stroke-width="0.45"/>
<line x1="513.75" y1="441.67" x2="513.75" y2="444.17" stroke="#8a6a60" stroke-width="0.45"/>
<circle cx="513.75" cy="443.37" r="0.9" fill="#fff" stroke="#8a6a60" stroke-width="0.45"/>
<rect x="517.57" y="397.3" width="4.1" height="46.2" fill="#8fbca0" stroke="none" stroke-width="1"/>
<rect x="521.67" y="442.97" width="4.1" height="0.53" fill="#f0a088" stroke="none" stroke-width="1"/>
<line x1="519.62" y1="391.52" x2="519.62" y2="402.58" stroke="#6a6a6a" stroke-width="0.45"/>
<line x1="518.67" y1="391.52" x2="520.57" y2="391.52" stroke="#6a6a6a" stroke-width="0.45"/>
<circle cx="519.62" cy="396.4" r="0.95" fill="#fff" stroke="#707070" stroke-width="0.45"/>
<circle cx="519.62" cy="398.5" r="0.95" fill="#fff" stroke="#707070" stroke-width="0.45"/>
<line x1="523.72" y1="441.47" x2="523.72" y2="443.97" stroke="#8a6a60" stroke-width="0.45"/>
<circle cx="523.72" cy="443.17" r="0.9" fill="#fff" stroke="#8a6a60" stroke-width="0.45"/>
<rect x="527.55" y="394.66" width="4.1" height="48.84" fill="#8fbca0" stroke="none" stroke-width="1"/>
<rect x="531.65" y="443.1" width="4.1" height="0.4" fill="#f0a088" stroke="none" stroke-width="1"/>
<line x1="529.6" y1="392.18" x2="529.6" y2="396.64" stroke="#6a6a6a" stroke-width="0.45"/>
<line x1="528.65" y1="392.18" x2="530.55" y2="392.18" stroke="#6a6a6a" stroke-width="0.45"/>
<circle cx="529.6" cy="393.76" r="0.95" fill="#fff" stroke="#707070" stroke-width="0.45"/>
<circle cx="529.6" cy="395.86" r="0.95" fill="#fff" stroke="#707070" stroke-width="0.45"/>
<line x1="533.7" y1="441.6" x2="533.7" y2="444.1" stroke="#8a6a60" stroke-width="0.45"/>
<circle cx="533.7" cy="443.3" r="0.9" fill="#fff" stroke="#8a6a60" stroke-width="0.45"/>
<rect x="547.5" y="394" width="4.1" height="49.5" fill="#8fbca0" stroke="none" stroke-width="1"/>
<rect x="551.6" y="443.1" width="4.1" height="0.4" fill="#f0a088" stroke="none" stroke-width="1"/>
<line x1="549.55" y1="392.18" x2="549.55" y2="395.32" stroke="#6a6a6a" stroke-width="0.45"/>
<line x1="548.6" y1="392.18" x2="550.5" y2="392.18" stroke="#6a6a6a" stroke-width="0.45"/>
<circle cx="549.55" cy="393.1" r="0.95" fill="#fff" stroke="#707070" stroke-width="0.45"/>
<circle cx="549.55" cy="395.2" r="0.95" fill="#fff" stroke="#707070" stroke-width="0.45"/>
<line x1="553.65" y1="441.6" x2="553.65" y2="444.1" stroke="#8a6a60" stroke-width="0.45"/>
<circle cx="553.65" cy="443.3" r="0.9" fill="#fff" stroke="#8a6a60" stroke-width="0.45"/>
<rect x="587.4" y="394" width="4.1" height="49.5" fill="#8fbca0" stroke="none" stroke-width="1"/>
<rect x="591.5" y="443.17" width="4.1" height="0.33" fill="#f0a088" stroke="none" stroke-width="1"/>
<line x1="589.45" y1="392.18" x2="589.45" y2="395.32" stroke="#6a6a6a" stroke-width="0.45"/>
<line x1="588.5" y1="392.18" x2="590.4" y2="392.18" stroke="#6a6a6a" stroke-width="0.45"/>
<circle cx="589.45" cy="393.1" r="0.95" fill="#fff" stroke="#707070" stroke-width="0.45"/>
<circle cx="589.45" cy="395.2" r="0.95" fill="#fff" stroke="#707070" stroke-width="0.45"/>
<line x1="593.55" y1="441.67" x2="593.55" y2="444.17" stroke="#8a6a60" stroke-width="0.45"/>
<circle cx="593.55" cy="443.37" r="0.9" fill="#fff" stroke="#8a6a60" stroke-width="0.45"/>
<rect x="667.2" y="393.34" width="4.1" height="50.16" fill="#8fbca0" stroke="none" stroke-width="1"/>
<rect x="671.3" y="443.17" width="4.1" height="0.33" fill="#f0a088" stroke="none" stroke-width="1"/>
<line x1="669.25" y1="392.18" x2="669.25" y2="394" stroke="#6a6a6a" stroke-width="0.45"/>
<line x1="668.3" y1="392.18" x2="670.2" y2="392.18" stroke="#6a6a6a" stroke-width="0.45"/>
<circle cx="669.25" cy="392.44" r="0.95" fill="#fff" stroke="#707070" stroke-width="0.45"/>
<circle cx="669.25" cy="394.54" r="0.95" fill="#fff" stroke="#707070" stroke-width="0.45"/>
<line x1="673.35" y1="441.67" x2="673.35" y2="444.17" stroke="#8a6a60" stroke-width="0.45"/>
<circle cx="673.35" cy="443.37" r="0.9" fill="#fff" stroke="#8a6a60" stroke-width="0.45"/>
<rect x="500.5" y="377.5" width="180" height="66" fill="none" stroke="#444" stroke-width="1"/>
<line x1="497.5" y1="443.5" x2="500.5" y2="443.5" stroke="#444" stroke-width="1"/>
<text x="498.3" y="447.1" font-size="10.3" text-anchor="end" fill="#1a1a1a">0</text>
<line x1="497.5" y1="430.3" x2="500.5" y2="430.3" stroke="#444" stroke-width="1"/>
<text x="498.3" y="433.9" font-size="10.3" text-anchor="end" fill="#1a1a1a">20</text>
<line x1="497.5" y1="417.1" x2="500.5" y2="417.1" stroke="#444" stroke-width="1"/>
<text x="498.3" y="420.7" font-size="10.3" text-anchor="end" fill="#1a1a1a">40</text>
<line x1="497.5" y1="403.9" x2="500.5" y2="403.9" stroke="#444" stroke-width="1"/>
<text x="498.3" y="407.5" font-size="10.3" text-anchor="end" fill="#1a1a1a">60</text>
<line x1="497.5" y1="390.7" x2="500.5" y2="390.7" stroke="#444" stroke-width="1"/>
<text x="498.3" y="394.3" font-size="10.3" text-anchor="end" fill="#1a1a1a">80</text>
<line x1="497.5" y1="377.5" x2="500.5" y2="377.5" stroke="#444" stroke-width="1"/>
<text x="498.3" y="381.1" font-size="10.3" text-anchor="end" fill="#1a1a1a">100</text>
<text x="503.6" y="387.9" font-size="9.9" text-anchor="start" fill="#1a1a1a">H<tspan font-size="7.5" dy="2">2</tspan><tspan dy="-2">O</tspan></text>
<rect x="507.6" y="478.6" width="4.1" height="42.9" fill="#8fbca0" stroke="none" stroke-width="1"/>
<rect x="511.7" y="506.98" width="4.1" height="14.52" fill="#f0a088" stroke="none" stroke-width="1"/>
<line x1="509.65" y1="477.11" x2="509.65" y2="479.59" stroke="#6a6a6a" stroke-width="0.45"/>
<line x1="508.7" y1="477.11" x2="510.6" y2="477.11" stroke="#6a6a6a" stroke-width="0.45"/>
<circle cx="509.65" cy="477.7" r="0.95" fill="#fff" stroke="#707070" stroke-width="0.45"/>
<circle cx="509.65" cy="479.8" r="0.95" fill="#fff" stroke="#707070" stroke-width="0.45"/>
<line x1="513.75" y1="503.48" x2="513.75" y2="507.98" stroke="#8a6a60" stroke-width="0.45"/>
<circle cx="513.75" cy="507.18" r="0.9" fill="#fff" stroke="#8a6a60" stroke-width="0.45"/>
<rect x="517.57" y="466.72" width="4.1" height="54.78" fill="#8fbca0" stroke="none" stroke-width="1"/>
<rect x="521.67" y="519.52" width="4.1" height="1.98" fill="#f0a088" stroke="none" stroke-width="1"/>
<line x1="519.62" y1="462.26" x2="519.62" y2="470.68" stroke="#6a6a6a" stroke-width="0.45"/>
<line x1="518.67" y1="462.26" x2="520.57" y2="462.26" stroke="#6a6a6a" stroke-width="0.45"/>
<circle cx="519.62" cy="465.82" r="0.95" fill="#fff" stroke="#707070" stroke-width="0.45"/>
<circle cx="519.62" cy="467.92" r="0.95" fill="#fff" stroke="#707070" stroke-width="0.45"/>
<line x1="523.72" y1="518.02" x2="523.72" y2="520.52" stroke="#8a6a60" stroke-width="0.45"/>
<circle cx="523.72" cy="519.72" r="0.9" fill="#fff" stroke="#8a6a60" stroke-width="0.45"/>
<rect x="527.55" y="458.8" width="4.1" height="62.7" fill="#8fbca0" stroke="none" stroke-width="1"/>
<rect x="531.65" y="520.51" width="4.1" height="0.99" fill="#f0a088" stroke="none" stroke-width="1"/>
<line x1="529.6" y1="457.31" x2="529.6" y2="459.79" stroke="#6a6a6a" stroke-width="0.45"/>
<line x1="528.65" y1="457.31" x2="530.55" y2="457.31" stroke="#6a6a6a" stroke-width="0.45"/>
<circle cx="529.6" cy="457.9" r="0.95" fill="#fff" stroke="#707070" stroke-width="0.45"/>
<circle cx="529.6" cy="460" r="0.95" fill="#fff" stroke="#707070" stroke-width="0.45"/>
<line x1="533.7" y1="519.01" x2="533.7" y2="521.51" stroke="#8a6a60" stroke-width="0.45"/>
<circle cx="533.7" cy="520.71" r="0.9" fill="#fff" stroke="#8a6a60" stroke-width="0.45"/>
<rect x="547.5" y="458.47" width="4.1" height="63.03" fill="#8fbca0" stroke="none" stroke-width="1"/>
<rect x="551.6" y="518.2" width="4.1" height="3.3" fill="#f0a088" stroke="none" stroke-width="1"/>
<line x1="549.55" y1="455.99" x2="549.55" y2="460.45" stroke="#6a6a6a" stroke-width="0.45"/>
<line x1="548.6" y1="455.99" x2="550.5" y2="455.99" stroke="#6a6a6a" stroke-width="0.45"/>
<circle cx="549.55" cy="457.57" r="0.95" fill="#fff" stroke="#707070" stroke-width="0.45"/>
<circle cx="549.55" cy="459.67" r="0.95" fill="#fff" stroke="#707070" stroke-width="0.45"/>
<line x1="553.65" y1="514.7" x2="553.65" y2="519.2" stroke="#8a6a60" stroke-width="0.45"/>
<circle cx="553.65" cy="518.4" r="0.9" fill="#fff" stroke="#8a6a60" stroke-width="0.45"/>
<rect x="587.4" y="459.13" width="4.1" height="62.37" fill="#8fbca0" stroke="none" stroke-width="1"/>
<rect x="591.5" y="517.54" width="4.1" height="3.96" fill="#f0a088" stroke="none" stroke-width="1"/>
<line x1="589.45" y1="457.97" x2="589.45" y2="459.79" stroke="#6a6a6a" stroke-width="0.45"/>
<line x1="588.5" y1="457.97" x2="590.4" y2="457.97" stroke="#6a6a6a" stroke-width="0.45"/>
<circle cx="589.45" cy="458.23" r="0.95" fill="#fff" stroke="#707070" stroke-width="0.45"/>
<circle cx="589.45" cy="460.33" r="0.95" fill="#fff" stroke="#707070" stroke-width="0.45"/>
<line x1="593.55" y1="514.04" x2="593.55" y2="518.54" stroke="#8a6a60" stroke-width="0.45"/>
<circle cx="593.55" cy="517.74" r="0.9" fill="#fff" stroke="#8a6a60" stroke-width="0.45"/>
<rect x="667.2" y="458.47" width="4.1" height="63.03" fill="#8fbca0" stroke="none" stroke-width="1"/>
<rect x="671.3" y="516.22" width="4.1" height="5.28" fill="#f0a088" stroke="none" stroke-width="1"/>
<line x1="669.25" y1="457.31" x2="669.25" y2="459.13" stroke="#6a6a6a" stroke-width="0.45"/>
<line x1="668.3" y1="457.31" x2="670.2" y2="457.31" stroke="#6a6a6a" stroke-width="0.45"/>
<circle cx="669.25" cy="457.57" r="0.95" fill="#fff" stroke="#707070" stroke-width="0.45"/>
<circle cx="669.25" cy="459.67" r="0.95" fill="#fff" stroke="#707070" stroke-width="0.45"/>
<line x1="673.35" y1="512.72" x2="673.35" y2="517.22" stroke="#8a6a60" stroke-width="0.45"/>
<circle cx="673.35" cy="516.42" r="0.9" fill="#fff" stroke="#8a6a60" stroke-width="0.45"/>
<rect x="500.5" y="455.5" width="180" height="66" fill="none" stroke="#444" stroke-width="1"/>
<line x1="497.5" y1="521.5" x2="500.5" y2="521.5" stroke="#444" stroke-width="1"/>
<text x="498.3" y="525.1" font-size="10.3" text-anchor="end" fill="#1a1a1a">0</text>
<line x1="497.5" y1="508.3" x2="500.5" y2="508.3" stroke="#444" stroke-width="1"/>
<text x="498.3" y="511.9" font-size="10.3" text-anchor="end" fill="#1a1a1a">20</text>
<line x1="497.5" y1="495.1" x2="500.5" y2="495.1" stroke="#444" stroke-width="1"/>
<text x="498.3" y="498.7" font-size="10.3" text-anchor="end" fill="#1a1a1a">40</text>
<line x1="497.5" y1="481.9" x2="500.5" y2="481.9" stroke="#444" stroke-width="1"/>
<text x="498.3" y="485.5" font-size="10.3" text-anchor="end" fill="#1a1a1a">60</text>
<line x1="497.5" y1="468.7" x2="500.5" y2="468.7" stroke="#444" stroke-width="1"/>
<text x="498.3" y="472.3" font-size="10.3" text-anchor="end" fill="#1a1a1a">80</text>
<line x1="497.5" y1="455.5" x2="500.5" y2="455.5" stroke="#444" stroke-width="1"/>
<text x="498.3" y="459.1" font-size="10.3" text-anchor="end" fill="#1a1a1a">100</text>
<text x="503.6" y="465.9" font-size="9.9" text-anchor="start" fill="#1a1a1a">H<tspan font-size="7.5" dy="-4">+</tspan></text>
<line x1="511.7" y1="521.5" x2="511.7" y2="524.5" stroke="#444" stroke-width="1"/>
<text x="511.7" y="533.6" font-size="10" text-anchor="middle" fill="#1a1a1a">0</text>
<line x1="521.67" y1="521.5" x2="521.67" y2="523.3" stroke="#444" stroke-width="1"/>
<line x1="531.65" y1="521.5" x2="531.65" y2="524.5" stroke="#444" stroke-width="1"/>
<text x="531.65" y="533.6" font-size="10" text-anchor="middle" fill="#1a1a1a">2</text>
<line x1="541.62" y1="521.5" x2="541.62" y2="523.3" stroke="#444" stroke-width="1"/>
<line x1="551.6" y1="521.5" x2="551.6" y2="524.5" stroke="#444" stroke-width="1"/>
<text x="551.6" y="533.6" font-size="10" text-anchor="middle" fill="#1a1a1a">4</text>
<line x1="561.58" y1="521.5" x2="561.58" y2="523.3" stroke="#444" stroke-width="1"/>
<line x1="571.55" y1="521.5" x2="571.55" y2="524.5" stroke="#444" stroke-width="1"/>
<text x="571.55" y="533.6" font-size="10" text-anchor="middle" fill="#1a1a1a">6</text>
<line x1="581.52" y1="521.5" x2="581.52" y2="523.3" stroke="#444" stroke-width="1"/>
<line x1="591.5" y1="521.5" x2="591.5" y2="524.5" stroke="#444" stroke-width="1"/>
<text x="591.5" y="533.6" font-size="10" text-anchor="middle" fill="#1a1a1a">8</text>
<line x1="601.48" y1="521.5" x2="601.48" y2="523.3" stroke="#444" stroke-width="1"/>
<line x1="611.45" y1="521.5" x2="611.45" y2="524.5" stroke="#444" stroke-width="1"/>
<text x="611.45" y="533.6" font-size="10" text-anchor="middle" fill="#1a1a1a">10</text>
<line x1="621.42" y1="521.5" x2="621.42" y2="523.3" stroke="#444" stroke-width="1"/>
<line x1="631.4" y1="521.5" x2="631.4" y2="524.5" stroke="#444" stroke-width="1"/>
<text x="631.4" y="533.6" font-size="10" text-anchor="middle" fill="#1a1a1a">12</text>
<line x1="641.38" y1="521.5" x2="641.38" y2="523.3" stroke="#444" stroke-width="1"/>
<line x1="651.35" y1="521.5" x2="651.35" y2="524.5" stroke="#444" stroke-width="1"/>
<text x="651.35" y="533.6" font-size="10" text-anchor="middle" fill="#1a1a1a">14</text>
<line x1="661.33" y1="521.5" x2="661.33" y2="523.3" stroke="#444" stroke-width="1"/>
<line x1="671.3" y1="521.5" x2="671.3" y2="524.5" stroke="#444" stroke-width="1"/>
<text x="671.3" y="533.6" font-size="10" text-anchor="middle" fill="#1a1a1a">16</text>
<text x="591.5" y="550.8" font-size="12.3" text-anchor="middle" fill="#1a1a1a">Activation time (h)</text>
<text x="477" y="449.3" font-size="12.6" text-anchor="middle" fill="#1a1a1a" transform="rotate(-90 477 449.3)">Leaching efficiency (%)</text>
<text x="3.6" y="579.6" font-size="14.3" text-anchor="start" fill="#111">g</text>
<line x1="24.5" y1="613.79" x2="69.65" y2="613.79" stroke="#222" stroke-width="0.8" stroke-dasharray="1.6 1.2"/>
<line x1="69.65" y1="613.79" x2="69.65" y2="722" stroke="#222" stroke-width="0.8" stroke-dasharray="1.6 1.2"/>
<rect x="24.5" y="579.5" width="179" height="142.5" fill="none" stroke="#555" stroke-width="1"/>
<line x1="24.5" y1="722" x2="69.65" y2="722" stroke="#222" stroke-width="0.8" stroke-dasharray="1.6 1.2"/>
<line x1="24.5" y1="613.79" x2="24.5" y2="722" stroke="#222" stroke-width="0.8" stroke-dasharray="1.6 1.2"/>
<circle cx="24.9" cy="585.57" r="4.3" fill="url(#gGreen)" stroke="none" stroke-width="1"/>
<circle cx="33.85" cy="595.79" r="3.35" fill="url(#gGray)" stroke="none" stroke-width="1"/>
<circle cx="42.8" cy="603.03" r="3.35" fill="url(#gGray)" stroke="none" stroke-width="1"/>
<circle cx="51.75" cy="607.42" r="3.35" fill="url(#gGray)" stroke="none" stroke-width="1"/>
<circle cx="60.7" cy="611.15" r="3.35" fill="url(#gGray)" stroke="none" stroke-width="1"/>
<circle cx="69.65" cy="613.79" r="4.5" fill="url(#gBlue)" stroke="none" stroke-width="1"/>
<circle cx="78.6" cy="616.2" r="3.35" fill="url(#gGray)" stroke="none" stroke-width="1"/>
<circle cx="87.55" cy="617.52" r="3.35" fill="url(#gGray)" stroke="none" stroke-width="1"/>
<circle cx="96.5" cy="619.05" r="3.35" fill="url(#gGray)" stroke="none" stroke-width="1"/>
<circle cx="105.45" cy="620.37" r="3.35" fill="url(#gGray)" stroke="none" stroke-width="1"/>
<circle cx="114.4" cy="621.36" r="3.35" fill="url(#gGray)" stroke="none" stroke-width="1"/>
<circle cx="123.35" cy="622.24" r="3.35" fill="url(#gGray)" stroke="none" stroke-width="1"/>
<circle cx="132.3" cy="623.12" r="3.35" fill="url(#gGray)" stroke="none" stroke-width="1"/>
<circle cx="141.25" cy="623.88" r="3.35" fill="url(#gGray)" stroke="none" stroke-width="1"/>
<circle cx="150.2" cy="624.65" r="3.35" fill="url(#gGray)" stroke="none" stroke-width="1"/>
<circle cx="159.15" cy="625.31" r="3.35" fill="url(#gGray)" stroke="none" stroke-width="1"/>
<circle cx="168.1" cy="625.97" r="3.35" fill="url(#gGray)" stroke="none" stroke-width="1"/>
<circle cx="177.05" cy="626.63" r="3.35" fill="url(#gGray)" stroke="none" stroke-width="1"/>
<circle cx="186" cy="627.29" r="3.35" fill="url(#gGray)" stroke="none" stroke-width="1"/>
<circle cx="194.95" cy="627.94" r="3.35" fill="url(#gGray)" stroke="none" stroke-width="1"/>
<circle cx="203.9" cy="628.71" r="3.35" fill="url(#gGray)" stroke="none" stroke-width="1"/>
<text x="38.5" y="590.9" font-size="10.7" text-anchor="start" fill="#1a1a1a">6.27</text>
<text x="73.8" y="608.2" font-size="10.7" text-anchor="start" fill="#1a1a1a">4.93</text>
<line x1="21.5" y1="722" x2="24.5" y2="722" stroke="#555" stroke-width="1"/>
<text x="20" y="725.8" font-size="10.5" text-anchor="end" fill="#1a1a1a">0</text>
<line x1="21.5" y1="678.1" x2="24.5" y2="678.1" stroke="#555" stroke-width="1"/>
<text x="20" y="681.9" font-size="10.5" text-anchor="end" fill="#1a1a1a">2</text>
<line x1="21.5" y1="634.2" x2="24.5" y2="634.2" stroke="#555" stroke-width="1"/>
<text x="20" y="638" font-size="10.5" text-anchor="end" fill="#1a1a1a">4</text>
<line x1="21.5" y1="590.3" x2="24.5" y2="590.3" stroke="#555" stroke-width="1"/>
<text x="20" y="594.1" font-size="10.5" text-anchor="end" fill="#1a1a1a">6</text>
<line x1="22.7" y1="700.05" x2="24.5" y2="700.05" stroke="#555" stroke-width="1"/>
<line x1="22.7" y1="656.15" x2="24.5" y2="656.15" stroke="#555" stroke-width="1"/>
<line x1="22.7" y1="612.25" x2="24.5" y2="612.25" stroke="#555" stroke-width="1"/>
<line x1="24.9" y1="722" x2="24.9" y2="725" stroke="#555" stroke-width="1"/>
<text x="24.9" y="735.4" font-size="10.5" text-anchor="middle" fill="#1a1a1a">0</text>
<line x1="114.4" y1="722" x2="114.4" y2="725" stroke="#555" stroke-width="1"/>
<text x="114.4" y="735.4" font-size="10.5" text-anchor="middle" fill="#1a1a1a">1</text>
<line x1="203.9" y1="722" x2="203.9" y2="725" stroke="#555" stroke-width="1"/>
<text x="203.8" y="735.4" font-size="10.5" text-anchor="middle" fill="#1a1a1a">2</text>
<line x1="69.65" y1="722" x2="69.65" y2="723.8" stroke="#555" stroke-width="1"/>
<line x1="159.15" y1="722" x2="159.15" y2="723.8" stroke="#555" stroke-width="1"/>
<text x="114.3" y="750.2" font-size="12" text-anchor="middle" fill="#1a1a1a">CO<tspan font-size="8" dy="3">2</tspan><tspan dy="-3"> Pressure (MPa)</tspan></text>
<text x="9.8" y="650.8" font-size="12" text-anchor="middle" fill="#1a1a1a" transform="rotate(-90 9.8 650.8)">pH</text>
<text x="223.3" y="577.1" font-size="13.8" text-anchor="start" fill="#111">h</text>
<rect x="294.4" y="705.92" width="10.45" height="16.58" fill="url(#hatG)" stroke="#8fbca0" stroke-width="0.6"/>
<rect x="304.85" y="720.68" width="10.45" height="1.82" fill="url(#hatO)" stroke="#f0a088" stroke-width="0.6"/>
<rect x="315.3" y="585.84" width="10.45" height="136.66" fill="#8fbca0" stroke="none" stroke-width="1"/>
<rect x="325.75" y="714.52" width="10.45" height="7.98" fill="#f0a088" stroke="none" stroke-width="1"/>
<line x1="299.62" y1="703.92" x2="299.62" y2="706.92" stroke="#555" stroke-width="0.5"/>
<circle cx="299.62" cy="705.72" r="1.2" fill="#fff" stroke="#555" stroke-width="0.5"/>
<line x1="310.07" y1="718.68" x2="310.07" y2="721.68" stroke="#555" stroke-width="0.5"/>
<circle cx="310.07" cy="720.48" r="1.2" fill="#fff" stroke="#555" stroke-width="0.5"/>
<line x1="330.98" y1="712.52" x2="330.98" y2="715.52" stroke="#555" stroke-width="0.5"/>
<circle cx="330.98" cy="714.32" r="1.2" fill="#fff" stroke="#555" stroke-width="0.5"/>
<line x1="320.53" y1="581.34" x2="320.53" y2="588.84" stroke="#3d5f4c" stroke-width="0.6"/>
<path d="M318.93 583.24 L320.53 581.24 L322.13 583.24 Z" stroke="#555" stroke-width="0.45" fill="#fff"/>
<circle cx="320.53" cy="585.34" r="1.1" fill="#fff" stroke="#555" stroke-width="0.45"/>
<circle cx="320.53" cy="587.74" r="1.1" fill="#fff" stroke="#555" stroke-width="0.45"/>
<text x="315.3" y="745.4" font-size="11.5" text-anchor="middle" fill="#1a1a1a">NCM811</text>
<path d="M299.6 695 Q310.8 655 311.8 613.5" stroke="#111" stroke-width="1.05" fill="none" stroke-dasharray="1.2 1"/>
<path d="M311.8 608.5 L309.6 614.5 L314 614.5 Z" stroke="none" stroke-width="1" fill="#111"/>
<text x="300.3" y="660" font-size="11.5" text-anchor="middle" fill="#1a1a1a" transform="rotate(-81 300.3 660)">84.17%</text>
<rect x="399.2" y="715.95" width="10.45" height="6.55" fill="url(#hatG)" stroke="#8fbca0" stroke-width="0.6"/>
<rect x="409.65" y="721.54" width="10.45" height="0.96" fill="url(#hatO)" stroke="#f0a088" stroke-width="0.6"/>
<rect x="420.1" y="588.7" width="10.45" height="133.8" fill="#8fbca0" stroke="none" stroke-width="1"/>
<rect x="430.55" y="718.1" width="10.45" height="4.4" fill="#f0a088" stroke="none" stroke-width="1"/>
<line x1="404.43" y1="713.95" x2="404.43" y2="716.95" stroke="#555" stroke-width="0.5"/>
<circle cx="404.43" cy="715.75" r="1.2" fill="#fff" stroke="#555" stroke-width="0.5"/>
<line x1="414.88" y1="719.54" x2="414.88" y2="722.54" stroke="#555" stroke-width="0.5"/>
<circle cx="414.88" cy="721.34" r="1.2" fill="#fff" stroke="#555" stroke-width="0.5"/>
<line x1="435.78" y1="716.1" x2="435.78" y2="719.1" stroke="#555" stroke-width="0.5"/>
<circle cx="435.78" cy="717.9" r="1.2" fill="#fff" stroke="#555" stroke-width="0.5"/>
<line x1="425.33" y1="584.2" x2="425.33" y2="591.7" stroke="#3d5f4c" stroke-width="0.6"/>
<path d="M423.73 586.1 L425.33 584.1 L426.93 586.1 Z" stroke="#555" stroke-width="0.45" fill="#fff"/>
<circle cx="425.33" cy="588.2" r="1.1" fill="#fff" stroke="#555" stroke-width="0.45"/>
<circle cx="425.33" cy="590.6" r="1.1" fill="#fff" stroke="#555" stroke-width="0.45"/>
<text x="420.1" y="745.4" font-size="11.5" text-anchor="middle" fill="#1a1a1a">NCM622</text>
<path d="M404.4 695 Q415.6 655 416.6 613.5" stroke="#111" stroke-width="1.05" fill="none" stroke-dasharray="1.2 1"/>
<path d="M416.6 608.5 L414.4 614.5 L418.8 614.5 Z" stroke="none" stroke-width="1" fill="#111"/>
<text x="405.1" y="660" font-size="11.5" text-anchor="middle" fill="#1a1a1a" transform="rotate(-81 405.1 660)">89.33%</text>
<rect x="504" y="718.1" width="10.45" height="4.4" fill="url(#hatG)" stroke="#8fbca0" stroke-width="0.6"/>
<rect x="514.45" y="721.25" width="10.45" height="1.25" fill="url(#hatO)" stroke="#f0a088" stroke-width="0.6"/>
<rect x="524.9" y="595.58" width="10.45" height="126.92" fill="#8fbca0" stroke="none" stroke-width="1"/>
<rect x="535.35" y="721.11" width="10.45" height="1.39" fill="#f0a088" stroke="none" stroke-width="1"/>
<line x1="509.22" y1="716.1" x2="509.22" y2="719.1" stroke="#555" stroke-width="0.5"/>
<circle cx="509.22" cy="717.9" r="1.2" fill="#fff" stroke="#555" stroke-width="0.5"/>
<line x1="519.67" y1="719.25" x2="519.67" y2="722.25" stroke="#555" stroke-width="0.5"/>
<circle cx="519.67" cy="721.05" r="1.2" fill="#fff" stroke="#555" stroke-width="0.5"/>
<line x1="540.57" y1="719.11" x2="540.57" y2="722.11" stroke="#555" stroke-width="0.5"/>
<circle cx="540.57" cy="720.91" r="1.2" fill="#fff" stroke="#555" stroke-width="0.5"/>
<line x1="530.12" y1="591.08" x2="530.12" y2="598.58" stroke="#3d5f4c" stroke-width="0.6"/>
<path d="M528.52 592.98 L530.12 590.98 L531.73 592.98 Z" stroke="#555" stroke-width="0.45" fill="#fff"/>
<circle cx="530.12" cy="595.08" r="1.1" fill="#fff" stroke="#555" stroke-width="0.45"/>
<circle cx="530.12" cy="597.48" r="1.1" fill="#fff" stroke="#555" stroke-width="0.45"/>
<text x="524.9" y="745.4" font-size="11.5" text-anchor="middle" fill="#1a1a1a">NCM111</text>
<path d="M509.2 695 Q520.4 655 521.4 613.5" stroke="#111" stroke-width="1.05" fill="none" stroke-dasharray="1.2 1"/>
<path d="M521.4 608.5 L519.2 614.5 L523.6 614.5 Z" stroke="none" stroke-width="1" fill="#111"/>
<text x="509.9" y="660" font-size="11.5" text-anchor="middle" fill="#1a1a1a" transform="rotate(-81 509.9 660)">86.32%</text>
<rect x="608.8" y="700.9" width="10.45" height="21.6" fill="url(#hatG)" stroke="#8fbca0" stroke-width="0.6"/>
<rect x="619.25" y="721.11" width="10.45" height="1.39" fill="url(#hatO)" stroke="#f0a088" stroke-width="0.6"/>
<rect x="629.7" y="590.56" width="10.45" height="131.94" fill="#8fbca0" stroke="none" stroke-width="1"/>
<rect x="640.15" y="720.68" width="10.45" height="1.82" fill="#f0a088" stroke="none" stroke-width="1"/>
<line x1="614.03" y1="698.9" x2="614.03" y2="701.9" stroke="#555" stroke-width="0.5"/>
<circle cx="614.03" cy="700.7" r="1.2" fill="#fff" stroke="#555" stroke-width="0.5"/>
<line x1="624.48" y1="719.11" x2="624.48" y2="722.11" stroke="#555" stroke-width="0.5"/>
<circle cx="624.48" cy="720.91" r="1.2" fill="#fff" stroke="#555" stroke-width="0.5"/>
<line x1="645.38" y1="718.68" x2="645.38" y2="721.68" stroke="#555" stroke-width="0.5"/>
<circle cx="645.38" cy="720.48" r="1.2" fill="#fff" stroke="#555" stroke-width="0.5"/>
<line x1="634.93" y1="586.06" x2="634.93" y2="593.56" stroke="#3d5f4c" stroke-width="0.6"/>
<path d="M633.33 587.96 L634.93 585.96 L636.53 587.96 Z" stroke="#555" stroke-width="0.45" fill="#fff"/>
<circle cx="634.93" cy="590.06" r="1.1" fill="#fff" stroke="#555" stroke-width="0.45"/>
<circle cx="634.93" cy="592.46" r="1.1" fill="#fff" stroke="#555" stroke-width="0.45"/>
<text x="629.7" y="745.4" font-size="11.5" text-anchor="middle" fill="#1a1a1a">S-LTMO</text>
<path d="M614 695 Q625.2 655 626.2 613.5" stroke="#111" stroke-width="1.05" fill="none" stroke-dasharray="1.2 1"/>
<path d="M626.2 608.5 L624 614.5 L628.4 614.5 Z" stroke="none" stroke-width="1" fill="#111"/>
<text x="614.7" y="660" font-size="11.5" text-anchor="middle" fill="#1a1a1a" transform="rotate(-81 614.7 660)">78.87%</text>
<rect x="263" y="579.5" width="418.5" height="143" fill="none" stroke="#555" stroke-width="1"/>
<line x1="260" y1="722.4" x2="263" y2="722.4" stroke="#555" stroke-width="1"/>
<text x="258.5" y="725.7" font-size="9.5" text-anchor="end" fill="#1a1a1a">0</text>
<line x1="261.2" y1="708.07" x2="263" y2="708.07" stroke="#555" stroke-width="1"/>
<line x1="260" y1="693.74" x2="263" y2="693.74" stroke="#555" stroke-width="1"/>
<text x="258.5" y="697.04" font-size="9.5" text-anchor="end" fill="#1a1a1a">20</text>
<line x1="261.2" y1="679.41" x2="263" y2="679.41" stroke="#555" stroke-width="1"/>
<line x1="260" y1="665.08" x2="263" y2="665.08" stroke="#555" stroke-width="1"/>
<text x="258.5" y="668.38" font-size="9.5" text-anchor="end" fill="#1a1a1a">40</text>
<line x1="261.2" y1="650.75" x2="263" y2="650.75" stroke="#555" stroke-width="1"/>
<line x1="260" y1="636.42" x2="263" y2="636.42" stroke="#555" stroke-width="1"/>
<text x="258.5" y="639.72" font-size="9.5" text-anchor="end" fill="#1a1a1a">60</text>
<line x1="261.2" y1="622.09" x2="263" y2="622.09" stroke="#555" stroke-width="1"/>
<line x1="260" y1="607.76" x2="263" y2="607.76" stroke="#555" stroke-width="1"/>
<text x="258.5" y="611.06" font-size="9.5" text-anchor="end" fill="#1a1a1a">80</text>
<line x1="261.2" y1="593.43" x2="263" y2="593.43" stroke="#555" stroke-width="1"/>
<line x1="260" y1="579.1" x2="263" y2="579.1" stroke="#555" stroke-width="1"/>
<text x="258.5" y="582.4" font-size="9.5" text-anchor="end" fill="#1a1a1a">100</text>
<text x="237.8" y="650.5" font-size="11.9" text-anchor="middle" fill="#1a1a1a" transform="rotate(-90 237.8 650.5)">Leaching efficiency (%)</text>
<rect x="459.3" y="561.9" width="23.3" height="10.9" fill="url(#hatG)" stroke="#8fbca0" stroke-width="0.6"/>
<text x="485.3" y="571.5" font-size="10" text-anchor="start" fill="#1a1a1a">P-Li</text>
<rect x="509" y="561.9" width="22.6" height="10.9" fill="url(#hatO)" stroke="#f0a088" stroke-width="0.6"/>
<text x="534" y="571.5" font-size="10" text-anchor="start" fill="#1a1a1a">P-TM</text>
<rect x="563.9" y="561.9" width="21.6" height="10.9" fill="#8fbca0" stroke="none" stroke-width="1"/>
<text x="589" y="571.5" font-size="10" text-anchor="start" fill="#1a1a1a">MA-Li</text>
<rect x="620.8" y="561.9" width="22" height="10.9" fill="#f0a088" stroke="none" stroke-width="1"/>
<text x="646.2" y="571.5" font-size="10" text-anchor="start" fill="#1a1a1a">MA-TM</text>
</svg>
</body></html>
